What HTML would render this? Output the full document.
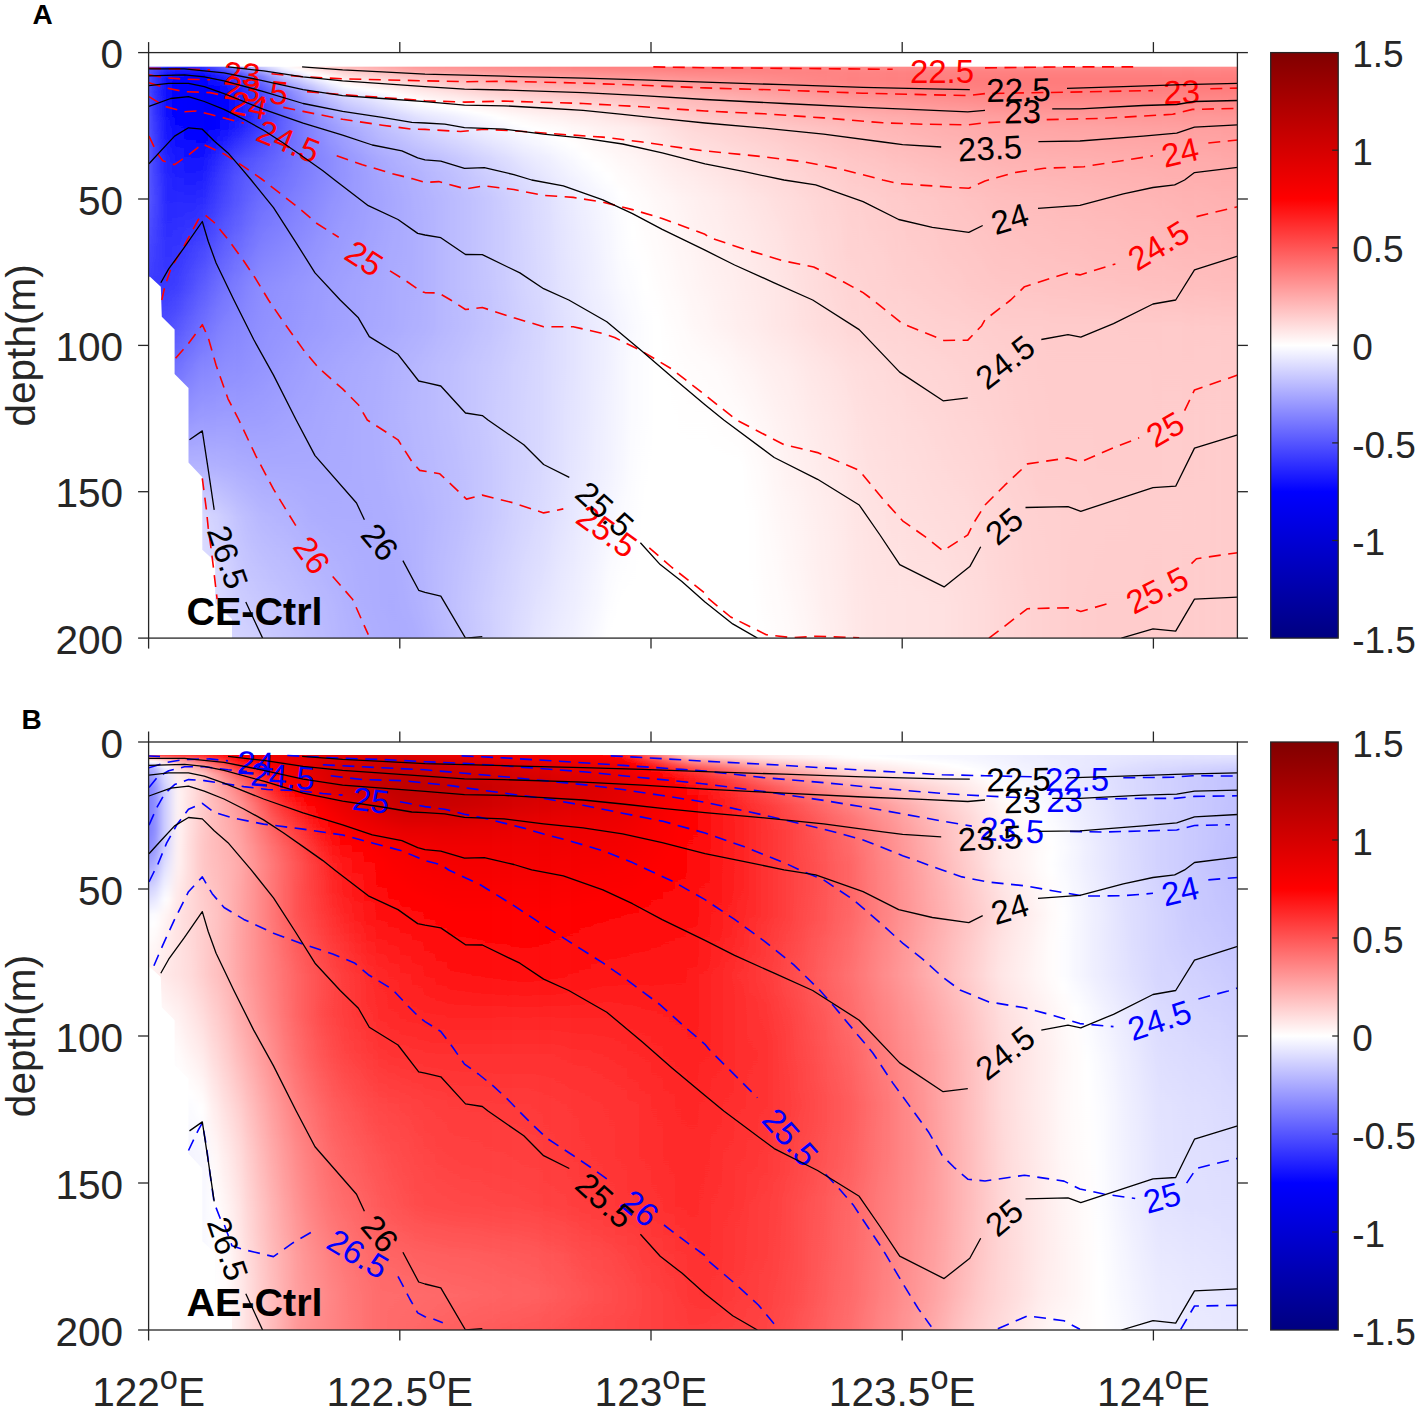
<!DOCTYPE html><html><head><meta charset="utf-8"><style>html,body{margin:0;padding:0;background:#fff}svg{display:block}text{font-family:"Liberation Sans",sans-serif}</style></head><body>
<svg width="1417" height="1413" viewBox="0 0 1417 1413">
<defs><linearGradient id="cb" x1="0" y1="0" x2="0" y2="1"><stop offset="0" stop-color="rgb(128,0,0)"/><stop offset="0.25" stop-color="rgb(255,0,0)"/><stop offset="0.5" stop-color="rgb(255,255,255)"/><stop offset="0.75" stop-color="rgb(0,0,255)"/><stop offset="1" stop-color="rgb(0,0,128)"/></linearGradient></defs>
<rect width="1417" height="1413" fill="#fff"/>
<defs><linearGradient id="a0" gradientUnits="userSpaceOnUse" x1="0" y1="66.4" x2="0" y2="638.1"><stop offset="0.000" stop-color="#66f"/><stop offset="0.005" stop-color="#6565ff"/><stop offset="0.010" stop-color="#6363ff"/><stop offset="0.017" stop-color="#6262ff"/><stop offset="0.024" stop-color="#6262ff"/><stop offset="0.033" stop-color="#6262ff"/><stop offset="0.044" stop-color="#6262ff"/><stop offset="0.056" stop-color="#6464ff"/><stop offset="0.070" stop-color="#6767ff"/><stop offset="0.087" stop-color="#6767ff"/><stop offset="0.108" stop-color="#66f"/><stop offset="0.133" stop-color="#6a6aff"/><stop offset="0.161" stop-color="#6e6eff"/><stop offset="0.192" stop-color="#6c6cff"/><stop offset="0.234" stop-color="#66f"/><stop offset="0.280" stop-color="#5b5bff"/><stop offset="0.332" stop-color="#4f4fff"/><stop offset="0.385" stop-color="#44f"/><stop offset="0.455" stop-color="#4848ff"/><stop offset="0.525" stop-color="#6b6bff"/><stop offset="0.612" stop-color="#8f8fff"/><stop offset="0.700" stop-color="#b3b3ff"/><stop offset="0.787" stop-color="#d7d7ff"/><stop offset="0.875" stop-color="#dbdbff"/><stop offset="0.945" stop-color="#dbdbff"/><stop offset="1.000" stop-color="#d6d6ff"/></linearGradient>
<linearGradient id="a1" gradientUnits="userSpaceOnUse" x1="0" y1="66.4" x2="0" y2="638.1"><stop offset="0.000" stop-color="#66f"/><stop offset="0.005" stop-color="#6565ff"/><stop offset="0.010" stop-color="#6363ff"/><stop offset="0.017" stop-color="#6262ff"/><stop offset="0.024" stop-color="#6262ff"/><stop offset="0.033" stop-color="#6262ff"/><stop offset="0.044" stop-color="#6262ff"/><stop offset="0.056" stop-color="#6464ff"/><stop offset="0.070" stop-color="#6767ff"/><stop offset="0.087" stop-color="#6767ff"/><stop offset="0.108" stop-color="#66f"/><stop offset="0.133" stop-color="#6a6aff"/><stop offset="0.161" stop-color="#6e6eff"/><stop offset="0.192" stop-color="#6c6cff"/><stop offset="0.234" stop-color="#66f"/><stop offset="0.280" stop-color="#5b5bff"/><stop offset="0.332" stop-color="#4f4fff"/><stop offset="0.385" stop-color="#44f"/><stop offset="0.455" stop-color="#4848ff"/><stop offset="0.525" stop-color="#6b6bff"/><stop offset="0.612" stop-color="#8f8fff"/><stop offset="0.700" stop-color="#b3b3ff"/><stop offset="0.787" stop-color="#d7d7ff"/><stop offset="0.875" stop-color="#dbdbff"/><stop offset="0.945" stop-color="#dbdbff"/><stop offset="1.000" stop-color="#d6d6ff"/></linearGradient>
<linearGradient id="a2" gradientUnits="userSpaceOnUse" x1="0" y1="66.4" x2="0" y2="638.1"><stop offset="0.000" stop-color="#4b4bff"/><stop offset="0.005" stop-color="#4646ff"/><stop offset="0.010" stop-color="#3f3fff"/><stop offset="0.017" stop-color="#3737ff"/><stop offset="0.024" stop-color="#3535ff"/><stop offset="0.033" stop-color="#3232ff"/><stop offset="0.044" stop-color="#2f2fff"/><stop offset="0.056" stop-color="#3030ff"/><stop offset="0.070" stop-color="#3030ff"/><stop offset="0.087" stop-color="#3434ff"/><stop offset="0.108" stop-color="#3939ff"/><stop offset="0.133" stop-color="#3b3bff"/><stop offset="0.161" stop-color="#3e3eff"/><stop offset="0.192" stop-color="#4242ff"/><stop offset="0.234" stop-color="#4646ff"/><stop offset="0.280" stop-color="#4242ff"/><stop offset="0.332" stop-color="#3c3cff"/><stop offset="0.385" stop-color="#3838ff"/><stop offset="0.455" stop-color="#4848ff"/><stop offset="0.525" stop-color="#6b6bff"/><stop offset="0.612" stop-color="#8f8fff"/><stop offset="0.700" stop-color="#b3b3ff"/><stop offset="0.787" stop-color="#d7d7ff"/><stop offset="0.875" stop-color="#dbdbff"/><stop offset="0.945" stop-color="#dbdbff"/><stop offset="1.000" stop-color="#d6d6ff"/></linearGradient>
<linearGradient id="a3" gradientUnits="userSpaceOnUse" x1="0" y1="66.4" x2="0" y2="638.1"><stop offset="0.000" stop-color="#3232ff"/><stop offset="0.005" stop-color="#2a2aff"/><stop offset="0.010" stop-color="#1f1fff"/><stop offset="0.017" stop-color="#1212ff"/><stop offset="0.024" stop-color="#1010ff"/><stop offset="0.033" stop-color="#0d0dff"/><stop offset="0.044" stop-color="#0b0bff"/><stop offset="0.056" stop-color="#0d0dff"/><stop offset="0.070" stop-color="#0f0fff"/><stop offset="0.087" stop-color="#11f"/><stop offset="0.108" stop-color="#1414ff"/><stop offset="0.133" stop-color="#1b1bff"/><stop offset="0.161" stop-color="#2121ff"/><stop offset="0.192" stop-color="#2525ff"/><stop offset="0.234" stop-color="#2828ff"/><stop offset="0.280" stop-color="#2d2dff"/><stop offset="0.332" stop-color="#33f"/><stop offset="0.385" stop-color="#3a3aff"/><stop offset="0.455" stop-color="#4d4dff"/><stop offset="0.525" stop-color="#6d6dff"/><stop offset="0.612" stop-color="#8f8fff"/><stop offset="0.700" stop-color="#b3b3ff"/><stop offset="0.787" stop-color="#d7d7ff"/><stop offset="0.875" stop-color="#dbdbff"/><stop offset="0.945" stop-color="#dbdbff"/><stop offset="1.000" stop-color="#d6d6ff"/></linearGradient>
<linearGradient id="a4" gradientUnits="userSpaceOnUse" x1="0" y1="66.4" x2="0" y2="638.1"><stop offset="0.000" stop-color="#2b2bff"/><stop offset="0.005" stop-color="#22f"/><stop offset="0.010" stop-color="#1616ff"/><stop offset="0.017" stop-color="#0707ff"/><stop offset="0.024" stop-color="#0505ff"/><stop offset="0.033" stop-color="#0202ff"/><stop offset="0.043" stop-color="#00f"/><stop offset="0.044" stop-color="#00f"/><stop offset="0.045" stop-color="#00f"/><stop offset="0.056" stop-color="#0101ff"/><stop offset="0.070" stop-color="#0303ff"/><stop offset="0.087" stop-color="#0404ff"/><stop offset="0.108" stop-color="#0707ff"/><stop offset="0.133" stop-color="#0f0fff"/><stop offset="0.161" stop-color="#1818ff"/><stop offset="0.192" stop-color="#1f1fff"/><stop offset="0.234" stop-color="#2828ff"/><stop offset="0.280" stop-color="#2f2fff"/><stop offset="0.332" stop-color="#3636ff"/><stop offset="0.385" stop-color="#3f3fff"/><stop offset="0.455" stop-color="#5757ff"/><stop offset="0.525" stop-color="#7171ff"/><stop offset="0.612" stop-color="#9090ff"/><stop offset="0.700" stop-color="#b3b3ff"/><stop offset="0.787" stop-color="#d7d7ff"/><stop offset="0.875" stop-color="#dbdbff"/><stop offset="0.945" stop-color="#dbdbff"/><stop offset="1.000" stop-color="#d6d6ff"/></linearGradient>
<linearGradient id="a5" gradientUnits="userSpaceOnUse" x1="0" y1="66.4" x2="0" y2="638.1"><stop offset="0.000" stop-color="#2a2aff"/><stop offset="0.005" stop-color="#2020ff"/><stop offset="0.010" stop-color="#1313ff"/><stop offset="0.017" stop-color="#0303ff"/><stop offset="0.024" stop-color="#00f"/><stop offset="0.025" stop-color="#00f"/><stop offset="0.033" stop-color="#0000fe"/><stop offset="0.044" stop-color="#0000fc"/><stop offset="0.056" stop-color="#0000fd"/><stop offset="0.070" stop-color="#0000fd"/><stop offset="0.087" stop-color="#0000fd"/><stop offset="0.108" stop-color="#00f"/><stop offset="0.111" stop-color="#00f"/><stop offset="0.133" stop-color="#0808ff"/><stop offset="0.161" stop-color="#1212ff"/><stop offset="0.192" stop-color="#1b1bff"/><stop offset="0.234" stop-color="#2727ff"/><stop offset="0.280" stop-color="#33f"/><stop offset="0.332" stop-color="#4040ff"/><stop offset="0.385" stop-color="#4d4dff"/><stop offset="0.455" stop-color="#6363ff"/><stop offset="0.525" stop-color="#7c7cff"/><stop offset="0.612" stop-color="#9696ff"/><stop offset="0.700" stop-color="#b3b3ff"/><stop offset="0.787" stop-color="#d7d7ff"/><stop offset="0.875" stop-color="#dbdbff"/><stop offset="0.945" stop-color="#dbdbff"/><stop offset="1.000" stop-color="#d6d6ff"/></linearGradient>
<linearGradient id="a6" gradientUnits="userSpaceOnUse" x1="0" y1="66.4" x2="0" y2="638.1"><stop offset="0.000" stop-color="#2f2fff"/><stop offset="0.005" stop-color="#2323ff"/><stop offset="0.010" stop-color="#1515ff"/><stop offset="0.017" stop-color="#0303ff"/><stop offset="0.024" stop-color="#00f"/><stop offset="0.024" stop-color="#00f"/><stop offset="0.033" stop-color="#0000fd"/><stop offset="0.044" stop-color="#0000fb"/><stop offset="0.056" stop-color="#0000fb"/><stop offset="0.070" stop-color="#0000fa"/><stop offset="0.087" stop-color="#0000fb"/><stop offset="0.108" stop-color="#0000fd"/><stop offset="0.120" stop-color="#00f"/><stop offset="0.133" stop-color="#0606ff"/><stop offset="0.161" stop-color="#1212ff"/><stop offset="0.192" stop-color="#1d1dff"/><stop offset="0.234" stop-color="#2a2aff"/><stop offset="0.280" stop-color="#3939ff"/><stop offset="0.332" stop-color="#4a4aff"/><stop offset="0.385" stop-color="#5b5bff"/><stop offset="0.455" stop-color="#6f6fff"/><stop offset="0.525" stop-color="#8585ff"/><stop offset="0.612" stop-color="#9a9aff"/><stop offset="0.700" stop-color="#b3b3ff"/><stop offset="0.787" stop-color="#d7d7ff"/><stop offset="0.875" stop-color="#dbdbff"/><stop offset="0.945" stop-color="#dbdbff"/><stop offset="1.000" stop-color="#d6d6ff"/></linearGradient>
<linearGradient id="a7" gradientUnits="userSpaceOnUse" x1="0" y1="66.4" x2="0" y2="638.1"><stop offset="0.000" stop-color="#4c4cff"/><stop offset="0.005" stop-color="#3d3dff"/><stop offset="0.010" stop-color="#2b2bff"/><stop offset="0.017" stop-color="#1414ff"/><stop offset="0.024" stop-color="#0e0eff"/><stop offset="0.033" stop-color="#0707ff"/><stop offset="0.044" stop-color="#00f"/><stop offset="0.044" stop-color="#00f"/><stop offset="0.056" stop-color="#0000fe"/><stop offset="0.070" stop-color="#0000fd"/><stop offset="0.087" stop-color="#0000fe"/><stop offset="0.095" stop-color="#00f"/><stop offset="0.108" stop-color="#0505ff"/><stop offset="0.133" stop-color="#1313ff"/><stop offset="0.161" stop-color="#2424ff"/><stop offset="0.192" stop-color="#2f2fff"/><stop offset="0.234" stop-color="#3a3aff"/><stop offset="0.280" stop-color="#4848ff"/><stop offset="0.332" stop-color="#5959ff"/><stop offset="0.385" stop-color="#6969ff"/><stop offset="0.455" stop-color="#7b7bff"/><stop offset="0.525" stop-color="#8989ff"/><stop offset="0.612" stop-color="#9b9bff"/><stop offset="0.700" stop-color="#b1b1ff"/><stop offset="0.787" stop-color="#d2d2ff"/><stop offset="0.875" stop-color="#d9d9ff"/><stop offset="0.945" stop-color="#dbdbff"/><stop offset="1.000" stop-color="#d6d6ff"/></linearGradient>
<linearGradient id="a8" gradientUnits="userSpaceOnUse" x1="0" y1="66.4" x2="0" y2="638.1"><stop offset="0.000" stop-color="#6969ff"/><stop offset="0.005" stop-color="#5757ff"/><stop offset="0.010" stop-color="#4141ff"/><stop offset="0.017" stop-color="#2626ff"/><stop offset="0.024" stop-color="#1d1dff"/><stop offset="0.033" stop-color="#1313ff"/><stop offset="0.044" stop-color="#0808ff"/><stop offset="0.056" stop-color="#0505ff"/><stop offset="0.070" stop-color="#0202ff"/><stop offset="0.087" stop-color="#0303ff"/><stop offset="0.108" stop-color="#0f0fff"/><stop offset="0.133" stop-color="#2121ff"/><stop offset="0.161" stop-color="#3535ff"/><stop offset="0.192" stop-color="#4040ff"/><stop offset="0.234" stop-color="#4949ff"/><stop offset="0.280" stop-color="#5656ff"/><stop offset="0.332" stop-color="#6565ff"/><stop offset="0.385" stop-color="#7474ff"/><stop offset="0.455" stop-color="#8282ff"/><stop offset="0.525" stop-color="#8d8dff"/><stop offset="0.612" stop-color="#9c9cff"/><stop offset="0.700" stop-color="#afafff"/><stop offset="0.787" stop-color="#cacaff"/><stop offset="0.875" stop-color="#d1d1ff"/><stop offset="0.945" stop-color="#d5d5ff"/><stop offset="1.000" stop-color="#d6d6ff"/></linearGradient>
<linearGradient id="a9" gradientUnits="userSpaceOnUse" x1="0" y1="66.4" x2="0" y2="638.1"><stop offset="0.000" stop-color="#8c8cff"/><stop offset="0.005" stop-color="#7979ff"/><stop offset="0.010" stop-color="#6161ff"/><stop offset="0.017" stop-color="#4343ff"/><stop offset="0.024" stop-color="#3838ff"/><stop offset="0.033" stop-color="#2b2bff"/><stop offset="0.044" stop-color="#1e1eff"/><stop offset="0.056" stop-color="#1a1aff"/><stop offset="0.070" stop-color="#1515ff"/><stop offset="0.087" stop-color="#1515ff"/><stop offset="0.108" stop-color="#1f1fff"/><stop offset="0.133" stop-color="#3232ff"/><stop offset="0.161" stop-color="#4848ff"/><stop offset="0.192" stop-color="#5252ff"/><stop offset="0.234" stop-color="#5757ff"/><stop offset="0.280" stop-color="#6262ff"/><stop offset="0.332" stop-color="#7070ff"/><stop offset="0.385" stop-color="#7d7dff"/><stop offset="0.455" stop-color="#8787ff"/><stop offset="0.525" stop-color="#8f8fff"/><stop offset="0.612" stop-color="#9c9cff"/><stop offset="0.700" stop-color="#adadff"/><stop offset="0.787" stop-color="#c2c2ff"/><stop offset="0.875" stop-color="#c9c9ff"/><stop offset="0.945" stop-color="#ceceff"/><stop offset="1.000" stop-color="#d4d4ff"/></linearGradient>
<linearGradient id="a10" gradientUnits="userSpaceOnUse" x1="0" y1="66.4" x2="0" y2="638.1"><stop offset="0.000" stop-color="#b1b1ff"/><stop offset="0.005" stop-color="#9c9cff"/><stop offset="0.010" stop-color="#8282ff"/><stop offset="0.017" stop-color="#6262ff"/><stop offset="0.024" stop-color="#55f"/><stop offset="0.033" stop-color="#4646ff"/><stop offset="0.044" stop-color="#3737ff"/><stop offset="0.056" stop-color="#3131ff"/><stop offset="0.070" stop-color="#2a2aff"/><stop offset="0.087" stop-color="#2828ff"/><stop offset="0.108" stop-color="#3030ff"/><stop offset="0.133" stop-color="#4040ff"/><stop offset="0.161" stop-color="#5252ff"/><stop offset="0.192" stop-color="#5c5cff"/><stop offset="0.234" stop-color="#6464ff"/><stop offset="0.280" stop-color="#6e6eff"/><stop offset="0.332" stop-color="#7a7aff"/><stop offset="0.385" stop-color="#8686ff"/><stop offset="0.455" stop-color="#8c8cff"/><stop offset="0.525" stop-color="#9292ff"/><stop offset="0.612" stop-color="#9d9dff"/><stop offset="0.700" stop-color="#ababff"/><stop offset="0.787" stop-color="#bcbcff"/><stop offset="0.875" stop-color="#c4c4ff"/><stop offset="0.945" stop-color="#cbcbff"/><stop offset="1.000" stop-color="#d1d1ff"/></linearGradient>
<linearGradient id="a11" gradientUnits="userSpaceOnUse" x1="0" y1="66.4" x2="0" y2="638.1"><stop offset="0.000" stop-color="#d1d1ff"/><stop offset="0.005" stop-color="#bcbcff"/><stop offset="0.010" stop-color="#a2a2ff"/><stop offset="0.017" stop-color="#8282ff"/><stop offset="0.024" stop-color="#7373ff"/><stop offset="0.033" stop-color="#6161ff"/><stop offset="0.044" stop-color="#4f4fff"/><stop offset="0.056" stop-color="#4848ff"/><stop offset="0.070" stop-color="#3f3fff"/><stop offset="0.087" stop-color="#3c3cff"/><stop offset="0.108" stop-color="#4141ff"/><stop offset="0.133" stop-color="#4d4dff"/><stop offset="0.161" stop-color="#5b5bff"/><stop offset="0.192" stop-color="#6464ff"/><stop offset="0.234" stop-color="#6e6eff"/><stop offset="0.280" stop-color="#7878ff"/><stop offset="0.332" stop-color="#8383ff"/><stop offset="0.385" stop-color="#8d8dff"/><stop offset="0.455" stop-color="#9090ff"/><stop offset="0.525" stop-color="#9595ff"/><stop offset="0.612" stop-color="#9e9eff"/><stop offset="0.700" stop-color="#a9a9ff"/><stop offset="0.787" stop-color="#b7b7ff"/><stop offset="0.875" stop-color="#c1c1ff"/><stop offset="0.945" stop-color="#c8c8ff"/><stop offset="1.000" stop-color="#cdcdff"/></linearGradient>
<linearGradient id="a12" gradientUnits="userSpaceOnUse" x1="0" y1="66.4" x2="0" y2="638.1"><stop offset="0.000" stop-color="#e8e8ff"/><stop offset="0.005" stop-color="#d7d7ff"/><stop offset="0.010" stop-color="#c1c1ff"/><stop offset="0.017" stop-color="#a5a5ff"/><stop offset="0.024" stop-color="#9393ff"/><stop offset="0.033" stop-color="#7d7dff"/><stop offset="0.044" stop-color="#6767ff"/><stop offset="0.056" stop-color="#5f5fff"/><stop offset="0.070" stop-color="#55f"/><stop offset="0.087" stop-color="#5050ff"/><stop offset="0.108" stop-color="#5353ff"/><stop offset="0.133" stop-color="#5b5bff"/><stop offset="0.161" stop-color="#6464ff"/><stop offset="0.192" stop-color="#6c6cff"/><stop offset="0.234" stop-color="#7474ff"/><stop offset="0.280" stop-color="#7d7dff"/><stop offset="0.332" stop-color="#8787ff"/><stop offset="0.385" stop-color="#9090ff"/><stop offset="0.455" stop-color="#9393ff"/><stop offset="0.525" stop-color="#9898ff"/><stop offset="0.612" stop-color="#a0a0ff"/><stop offset="0.700" stop-color="#a9a9ff"/><stop offset="0.787" stop-color="#b5b5ff"/><stop offset="0.875" stop-color="#bebeff"/><stop offset="0.945" stop-color="#c5c5ff"/><stop offset="1.000" stop-color="#c9c9ff"/></linearGradient>
<linearGradient id="a13" gradientUnits="userSpaceOnUse" x1="0" y1="66.4" x2="0" y2="638.1"><stop offset="0.000" stop-color="#fff"/><stop offset="0.000" stop-color="#fff"/><stop offset="0.005" stop-color="#f1f1ff"/><stop offset="0.010" stop-color="#dfdfff"/><stop offset="0.017" stop-color="#c7c7ff"/><stop offset="0.024" stop-color="#b3b3ff"/><stop offset="0.033" stop-color="#99f"/><stop offset="0.044" stop-color="#8080ff"/><stop offset="0.056" stop-color="#7676ff"/><stop offset="0.070" stop-color="#6b6bff"/><stop offset="0.087" stop-color="#6464ff"/><stop offset="0.108" stop-color="#6565ff"/><stop offset="0.133" stop-color="#6969ff"/><stop offset="0.161" stop-color="#6e6eff"/><stop offset="0.192" stop-color="#7373ff"/><stop offset="0.234" stop-color="#7a7aff"/><stop offset="0.280" stop-color="#8282ff"/><stop offset="0.332" stop-color="#8b8bff"/><stop offset="0.385" stop-color="#9393ff"/><stop offset="0.455" stop-color="#9595ff"/><stop offset="0.525" stop-color="#9b9bff"/><stop offset="0.612" stop-color="#a2a2ff"/><stop offset="0.700" stop-color="#a9a9ff"/><stop offset="0.787" stop-color="#b3b3ff"/><stop offset="0.875" stop-color="#bcbcff"/><stop offset="0.945" stop-color="#c2c2ff"/><stop offset="1.000" stop-color="#c5c5ff"/></linearGradient>
<linearGradient id="a14" gradientUnits="userSpaceOnUse" x1="0" y1="66.4" x2="0" y2="638.1"><stop offset="0.000" stop-color="#fee"/><stop offset="0.005" stop-color="#fffcfc"/><stop offset="0.006" stop-color="#fff"/><stop offset="0.010" stop-color="#f1f1ff"/><stop offset="0.017" stop-color="#dbdbff"/><stop offset="0.024" stop-color="#c8c8ff"/><stop offset="0.033" stop-color="#b0b0ff"/><stop offset="0.044" stop-color="#9898ff"/><stop offset="0.056" stop-color="#8c8cff"/><stop offset="0.070" stop-color="#8080ff"/><stop offset="0.087" stop-color="#7676ff"/><stop offset="0.108" stop-color="#7474ff"/><stop offset="0.133" stop-color="#7575ff"/><stop offset="0.161" stop-color="#77f"/><stop offset="0.192" stop-color="#7a7aff"/><stop offset="0.234" stop-color="#8181ff"/><stop offset="0.280" stop-color="#8787ff"/><stop offset="0.332" stop-color="#8f8fff"/><stop offset="0.385" stop-color="#9696ff"/><stop offset="0.455" stop-color="#9898ff"/><stop offset="0.525" stop-color="#9e9eff"/><stop offset="0.612" stop-color="#a4a4ff"/><stop offset="0.700" stop-color="#a9a9ff"/><stop offset="0.787" stop-color="#b1b1ff"/><stop offset="0.875" stop-color="#b9b9ff"/><stop offset="0.945" stop-color="#bfbfff"/><stop offset="1.000" stop-color="#c2c2ff"/></linearGradient>
<linearGradient id="a15" gradientUnits="userSpaceOnUse" x1="0" y1="66.4" x2="0" y2="638.1"><stop offset="0.000" stop-color="#ffdede"/><stop offset="0.005" stop-color="#ffebeb"/><stop offset="0.010" stop-color="#fffafa"/><stop offset="0.012" stop-color="#fff"/><stop offset="0.017" stop-color="#f0f0ff"/><stop offset="0.024" stop-color="#dedeff"/><stop offset="0.033" stop-color="#c7c7ff"/><stop offset="0.044" stop-color="#b0b0ff"/><stop offset="0.056" stop-color="#a3a3ff"/><stop offset="0.070" stop-color="#9494ff"/><stop offset="0.087" stop-color="#88f"/><stop offset="0.108" stop-color="#8383ff"/><stop offset="0.133" stop-color="#8181ff"/><stop offset="0.161" stop-color="#7f7fff"/><stop offset="0.192" stop-color="#8181ff"/><stop offset="0.234" stop-color="#8787ff"/><stop offset="0.280" stop-color="#8c8cff"/><stop offset="0.332" stop-color="#9393ff"/><stop offset="0.385" stop-color="#99f"/><stop offset="0.455" stop-color="#9b9bff"/><stop offset="0.525" stop-color="#a1a1ff"/><stop offset="0.612" stop-color="#a5a5ff"/><stop offset="0.700" stop-color="#a9a9ff"/><stop offset="0.787" stop-color="#aeaeff"/><stop offset="0.875" stop-color="#b6b6ff"/><stop offset="0.945" stop-color="#bcbcff"/><stop offset="1.000" stop-color="#bebeff"/></linearGradient>
<linearGradient id="a16" gradientUnits="userSpaceOnUse" x1="0" y1="66.4" x2="0" y2="638.1"><stop offset="0.000" stop-color="#ffd0d0"/><stop offset="0.005" stop-color="#ffdcdc"/><stop offset="0.010" stop-color="#ffeaea"/><stop offset="0.017" stop-color="#fffdfd"/><stop offset="0.018" stop-color="#fff"/><stop offset="0.024" stop-color="#f1f1ff"/><stop offset="0.033" stop-color="#dcdcff"/><stop offset="0.044" stop-color="#c6c6ff"/><stop offset="0.056" stop-color="#b6b6ff"/><stop offset="0.070" stop-color="#a6a6ff"/><stop offset="0.087" stop-color="#9898ff"/><stop offset="0.108" stop-color="#9090ff"/><stop offset="0.133" stop-color="#8b8bff"/><stop offset="0.161" stop-color="#8787ff"/><stop offset="0.192" stop-color="#88f"/><stop offset="0.234" stop-color="#8d8dff"/><stop offset="0.280" stop-color="#9292ff"/><stop offset="0.332" stop-color="#9797ff"/><stop offset="0.385" stop-color="#9c9cff"/><stop offset="0.455" stop-color="#9d9dff"/><stop offset="0.525" stop-color="#a4a4ff"/><stop offset="0.612" stop-color="#a7a7ff"/><stop offset="0.700" stop-color="#a9a9ff"/><stop offset="0.787" stop-color="#adadff"/><stop offset="0.875" stop-color="#b4b4ff"/><stop offset="0.945" stop-color="#b9b9ff"/><stop offset="1.000" stop-color="#bbf"/></linearGradient>
<linearGradient id="a17" gradientUnits="userSpaceOnUse" x1="0" y1="66.4" x2="0" y2="638.1"><stop offset="0.000" stop-color="#ffc5c5"/><stop offset="0.005" stop-color="#ffd0d0"/><stop offset="0.010" stop-color="#fdd"/><stop offset="0.017" stop-color="#ffefef"/><stop offset="0.024" stop-color="#fffdfd"/><stop offset="0.026" stop-color="#fff"/><stop offset="0.033" stop-color="#efefff"/><stop offset="0.044" stop-color="#d9d9ff"/><stop offset="0.056" stop-color="#c5c5ff"/><stop offset="0.070" stop-color="#b6b6ff"/><stop offset="0.087" stop-color="#a6a6ff"/><stop offset="0.108" stop-color="#9b9bff"/><stop offset="0.133" stop-color="#9595ff"/><stop offset="0.161" stop-color="#8e8eff"/><stop offset="0.192" stop-color="#8e8eff"/><stop offset="0.234" stop-color="#9393ff"/><stop offset="0.280" stop-color="#9797ff"/><stop offset="0.332" stop-color="#9b9bff"/><stop offset="0.385" stop-color="#9f9fff"/><stop offset="0.455" stop-color="#a0a0ff"/><stop offset="0.525" stop-color="#a6a6ff"/><stop offset="0.612" stop-color="#a9a9ff"/><stop offset="0.700" stop-color="#aaf"/><stop offset="0.787" stop-color="#acacff"/><stop offset="0.875" stop-color="#b2b2ff"/><stop offset="0.945" stop-color="#b6b6ff"/><stop offset="1.000" stop-color="#b7b7ff"/></linearGradient>
<linearGradient id="a18" gradientUnits="userSpaceOnUse" x1="0" y1="66.4" x2="0" y2="638.1"><stop offset="0.000" stop-color="#ffbaba"/><stop offset="0.005" stop-color="#ffc4c4"/><stop offset="0.010" stop-color="#ffd1d1"/><stop offset="0.017" stop-color="#ffe1e1"/><stop offset="0.024" stop-color="#ffeded"/><stop offset="0.033" stop-color="#fffdfd"/><stop offset="0.034" stop-color="#fff"/><stop offset="0.044" stop-color="#ececff"/><stop offset="0.056" stop-color="#d4d4ff"/><stop offset="0.070" stop-color="#c5c5ff"/><stop offset="0.087" stop-color="#b3b3ff"/><stop offset="0.108" stop-color="#a5a5ff"/><stop offset="0.133" stop-color="#9e9eff"/><stop offset="0.161" stop-color="#9696ff"/><stop offset="0.192" stop-color="#9595ff"/><stop offset="0.234" stop-color="#9898ff"/><stop offset="0.280" stop-color="#9b9bff"/><stop offset="0.332" stop-color="#9e9eff"/><stop offset="0.385" stop-color="#a1a1ff"/><stop offset="0.455" stop-color="#a2a2ff"/><stop offset="0.525" stop-color="#a8a8ff"/><stop offset="0.612" stop-color="#aaf"/><stop offset="0.700" stop-color="#ababff"/><stop offset="0.787" stop-color="#acacff"/><stop offset="0.875" stop-color="#b0b0ff"/><stop offset="0.945" stop-color="#b2b2ff"/><stop offset="1.000" stop-color="#b4b4ff"/></linearGradient>
<linearGradient id="a19" gradientUnits="userSpaceOnUse" x1="0" y1="66.4" x2="0" y2="638.1"><stop offset="0.000" stop-color="#ffb5b5"/><stop offset="0.005" stop-color="#ffbebe"/><stop offset="0.010" stop-color="#ffcbcb"/><stop offset="0.017" stop-color="#ffdbdb"/><stop offset="0.024" stop-color="#ffe8e8"/><stop offset="0.033" stop-color="#fff7f7"/><stop offset="0.037" stop-color="#fff"/><stop offset="0.044" stop-color="#f2f2ff"/><stop offset="0.056" stop-color="#dcdcff"/><stop offset="0.070" stop-color="#cdcdff"/><stop offset="0.087" stop-color="#bbf"/><stop offset="0.108" stop-color="#aeaeff"/><stop offset="0.133" stop-color="#a6a6ff"/><stop offset="0.161" stop-color="#9d9dff"/><stop offset="0.192" stop-color="#9b9bff"/><stop offset="0.234" stop-color="#9c9cff"/><stop offset="0.280" stop-color="#9e9eff"/><stop offset="0.332" stop-color="#a1a1ff"/><stop offset="0.385" stop-color="#a4a4ff"/><stop offset="0.455" stop-color="#a4a4ff"/><stop offset="0.525" stop-color="#aaf"/><stop offset="0.612" stop-color="#acacff"/><stop offset="0.700" stop-color="#acacff"/><stop offset="0.787" stop-color="#acacff"/><stop offset="0.875" stop-color="#aeaeff"/><stop offset="0.945" stop-color="#afafff"/><stop offset="1.000" stop-color="#b1b1ff"/></linearGradient>
<linearGradient id="a20" gradientUnits="userSpaceOnUse" x1="0" y1="66.4" x2="0" y2="638.1"><stop offset="0.000" stop-color="#ffafaf"/><stop offset="0.005" stop-color="#ffb8b8"/><stop offset="0.010" stop-color="#ffc5c5"/><stop offset="0.017" stop-color="#ffd5d5"/><stop offset="0.024" stop-color="#ffe2e2"/><stop offset="0.033" stop-color="#fff1f1"/><stop offset="0.041" stop-color="#fff"/><stop offset="0.044" stop-color="#f9f9ff"/><stop offset="0.056" stop-color="#e4e4ff"/><stop offset="0.070" stop-color="#d5d5ff"/><stop offset="0.087" stop-color="#c3c3ff"/><stop offset="0.108" stop-color="#b6b6ff"/><stop offset="0.133" stop-color="#aeaeff"/><stop offset="0.161" stop-color="#a4a4ff"/><stop offset="0.192" stop-color="#a1a1ff"/><stop offset="0.234" stop-color="#a0a0ff"/><stop offset="0.280" stop-color="#a2a2ff"/><stop offset="0.332" stop-color="#a4a4ff"/><stop offset="0.385" stop-color="#a6a6ff"/><stop offset="0.455" stop-color="#a7a7ff"/><stop offset="0.525" stop-color="#acacff"/><stop offset="0.612" stop-color="#adadff"/><stop offset="0.700" stop-color="#adadff"/><stop offset="0.787" stop-color="#acacff"/><stop offset="0.875" stop-color="#adadff"/><stop offset="0.945" stop-color="#aeaeff"/><stop offset="1.000" stop-color="#afafff"/></linearGradient>
<linearGradient id="a21" gradientUnits="userSpaceOnUse" x1="0" y1="66.4" x2="0" y2="638.1"><stop offset="0.000" stop-color="#ffa9a9"/><stop offset="0.005" stop-color="#ffb2b2"/><stop offset="0.010" stop-color="#ffbebe"/><stop offset="0.017" stop-color="#ffcece"/><stop offset="0.024" stop-color="#ffdcdc"/><stop offset="0.033" stop-color="#ffebeb"/><stop offset="0.044" stop-color="#fffefe"/><stop offset="0.044" stop-color="#fff"/><stop offset="0.056" stop-color="#ececff"/><stop offset="0.070" stop-color="#dedeff"/><stop offset="0.087" stop-color="#cbcbff"/><stop offset="0.108" stop-color="#bebeff"/><stop offset="0.133" stop-color="#b5b5ff"/><stop offset="0.161" stop-color="#aaf"/><stop offset="0.192" stop-color="#a6a6ff"/><stop offset="0.234" stop-color="#a4a4ff"/><stop offset="0.280" stop-color="#a5a5ff"/><stop offset="0.332" stop-color="#a7a7ff"/><stop offset="0.385" stop-color="#a8a8ff"/><stop offset="0.455" stop-color="#a9a9ff"/><stop offset="0.525" stop-color="#aeaeff"/><stop offset="0.612" stop-color="#afafff"/><stop offset="0.700" stop-color="#aeaeff"/><stop offset="0.787" stop-color="#adadff"/><stop offset="0.875" stop-color="#acacff"/><stop offset="0.945" stop-color="#acacff"/><stop offset="1.000" stop-color="#aeaeff"/></linearGradient>
<linearGradient id="a22" gradientUnits="userSpaceOnUse" x1="0" y1="66.4" x2="0" y2="638.1"><stop offset="0.000" stop-color="#ffa3a3"/><stop offset="0.005" stop-color="#ffacac"/><stop offset="0.010" stop-color="#ffb8b8"/><stop offset="0.017" stop-color="#ffc8c8"/><stop offset="0.024" stop-color="#ffd6d6"/><stop offset="0.033" stop-color="#ffe5e5"/><stop offset="0.044" stop-color="#fff8f8"/><stop offset="0.049" stop-color="#fff"/><stop offset="0.056" stop-color="#f4f4ff"/><stop offset="0.070" stop-color="#e6e6ff"/><stop offset="0.087" stop-color="#d3d3ff"/><stop offset="0.108" stop-color="#c5c5ff"/><stop offset="0.133" stop-color="#babaff"/><stop offset="0.161" stop-color="#afafff"/><stop offset="0.192" stop-color="#aaf"/><stop offset="0.234" stop-color="#a8a8ff"/><stop offset="0.280" stop-color="#a9a9ff"/><stop offset="0.332" stop-color="#aaf"/><stop offset="0.385" stop-color="#ababff"/><stop offset="0.455" stop-color="#ababff"/><stop offset="0.525" stop-color="#b1b1ff"/><stop offset="0.612" stop-color="#b2b2ff"/><stop offset="0.700" stop-color="#b1b1ff"/><stop offset="0.787" stop-color="#aeaeff"/><stop offset="0.875" stop-color="#acacff"/><stop offset="0.945" stop-color="#ababff"/><stop offset="1.000" stop-color="#acacff"/></linearGradient>
<linearGradient id="a23" gradientUnits="userSpaceOnUse" x1="0" y1="66.4" x2="0" y2="638.1"><stop offset="0.000" stop-color="#ff9d9d"/><stop offset="0.005" stop-color="#ffa6a6"/><stop offset="0.010" stop-color="#ffb2b2"/><stop offset="0.017" stop-color="#ffc2c2"/><stop offset="0.024" stop-color="#ffd1d1"/><stop offset="0.033" stop-color="#ffdfdf"/><stop offset="0.044" stop-color="#fff1f1"/><stop offset="0.054" stop-color="#fff"/><stop offset="0.056" stop-color="#fcfcff"/><stop offset="0.070" stop-color="#eef"/><stop offset="0.087" stop-color="#dbdbff"/><stop offset="0.108" stop-color="#cbcbff"/><stop offset="0.133" stop-color="#c0c0ff"/><stop offset="0.161" stop-color="#b4b4ff"/><stop offset="0.192" stop-color="#aeaeff"/><stop offset="0.234" stop-color="#acacff"/><stop offset="0.280" stop-color="#acacff"/><stop offset="0.332" stop-color="#acacff"/><stop offset="0.385" stop-color="#adadff"/><stop offset="0.455" stop-color="#aeaeff"/><stop offset="0.525" stop-color="#b4b4ff"/><stop offset="0.612" stop-color="#b5b5ff"/><stop offset="0.700" stop-color="#b3b3ff"/><stop offset="0.787" stop-color="#b1b1ff"/><stop offset="0.875" stop-color="#afafff"/><stop offset="0.945" stop-color="#adadff"/><stop offset="1.000" stop-color="#ababff"/></linearGradient>
<linearGradient id="a24" gradientUnits="userSpaceOnUse" x1="0" y1="66.4" x2="0" y2="638.1"><stop offset="0.000" stop-color="#ff9797"/><stop offset="0.005" stop-color="#ffa0a0"/><stop offset="0.010" stop-color="#ffacac"/><stop offset="0.017" stop-color="#ffbcbc"/><stop offset="0.024" stop-color="#ffcbcb"/><stop offset="0.033" stop-color="#ffd9d9"/><stop offset="0.044" stop-color="#ffeaea"/><stop offset="0.056" stop-color="#fffafa"/><stop offset="0.061" stop-color="#fff"/><stop offset="0.070" stop-color="#f7f7ff"/><stop offset="0.087" stop-color="#e3e3ff"/><stop offset="0.108" stop-color="#d1d1ff"/><stop offset="0.133" stop-color="#c6c6ff"/><stop offset="0.161" stop-color="#b8b8ff"/><stop offset="0.192" stop-color="#b2b2ff"/><stop offset="0.234" stop-color="#b0b0ff"/><stop offset="0.280" stop-color="#afafff"/><stop offset="0.332" stop-color="#afafff"/><stop offset="0.385" stop-color="#afafff"/><stop offset="0.455" stop-color="#b0b0ff"/><stop offset="0.525" stop-color="#b7b7ff"/><stop offset="0.612" stop-color="#b8b8ff"/><stop offset="0.700" stop-color="#b6b6ff"/><stop offset="0.787" stop-color="#b3b3ff"/><stop offset="0.875" stop-color="#b3b3ff"/><stop offset="0.945" stop-color="#b1b1ff"/><stop offset="1.000" stop-color="#adadff"/></linearGradient>
<linearGradient id="a25" gradientUnits="userSpaceOnUse" x1="0" y1="66.4" x2="0" y2="638.1"><stop offset="0.000" stop-color="#ff9494"/><stop offset="0.005" stop-color="#ff9d9d"/><stop offset="0.010" stop-color="#ffa9a9"/><stop offset="0.017" stop-color="#ffb8b8"/><stop offset="0.024" stop-color="#ffc7c7"/><stop offset="0.033" stop-color="#ffd5d5"/><stop offset="0.044" stop-color="#ffe6e6"/><stop offset="0.056" stop-color="#fff5f5"/><stop offset="0.066" stop-color="#fff"/><stop offset="0.070" stop-color="#fbfbff"/><stop offset="0.087" stop-color="#e8e8ff"/><stop offset="0.108" stop-color="#d7d7ff"/><stop offset="0.133" stop-color="#cbcbff"/><stop offset="0.161" stop-color="#bdbdff"/><stop offset="0.192" stop-color="#b7b7ff"/><stop offset="0.234" stop-color="#b4b4ff"/><stop offset="0.280" stop-color="#b3b3ff"/><stop offset="0.332" stop-color="#b3b3ff"/><stop offset="0.385" stop-color="#b3b3ff"/><stop offset="0.455" stop-color="#b3b3ff"/><stop offset="0.525" stop-color="#babaff"/><stop offset="0.612" stop-color="#babaff"/><stop offset="0.700" stop-color="#b8b8ff"/><stop offset="0.787" stop-color="#b6b6ff"/><stop offset="0.875" stop-color="#b7b7ff"/><stop offset="0.945" stop-color="#b6b6ff"/><stop offset="1.000" stop-color="#b3b3ff"/></linearGradient>
<linearGradient id="a26" gradientUnits="userSpaceOnUse" x1="0" y1="66.4" x2="0" y2="638.1"><stop offset="0.000" stop-color="#ff9393"/><stop offset="0.005" stop-color="#ff9b9b"/><stop offset="0.010" stop-color="#ffa6a6"/><stop offset="0.017" stop-color="#ffb5b5"/><stop offset="0.024" stop-color="#ffc3c3"/><stop offset="0.033" stop-color="#ffd1d1"/><stop offset="0.044" stop-color="#ffe2e2"/><stop offset="0.056" stop-color="#fff1f1"/><stop offset="0.070" stop-color="#fff"/><stop offset="0.070" stop-color="#fff"/><stop offset="0.087" stop-color="#ececff"/><stop offset="0.108" stop-color="#ddf"/><stop offset="0.133" stop-color="#d0d0ff"/><stop offset="0.161" stop-color="#c1c1ff"/><stop offset="0.192" stop-color="#bbf"/><stop offset="0.234" stop-color="#b7b7ff"/><stop offset="0.280" stop-color="#b7b7ff"/><stop offset="0.332" stop-color="#b7b7ff"/><stop offset="0.385" stop-color="#b7b7ff"/><stop offset="0.455" stop-color="#b7b7ff"/><stop offset="0.525" stop-color="#bdbdff"/><stop offset="0.612" stop-color="#bdbdff"/><stop offset="0.700" stop-color="#bbf"/><stop offset="0.787" stop-color="#b9b9ff"/><stop offset="0.875" stop-color="#bbf"/><stop offset="0.945" stop-color="#bbf"/><stop offset="1.000" stop-color="#b8b8ff"/></linearGradient>
<linearGradient id="a27" gradientUnits="userSpaceOnUse" x1="0" y1="66.4" x2="0" y2="638.1"><stop offset="0.000" stop-color="#ff9191"/><stop offset="0.005" stop-color="#f99"/><stop offset="0.010" stop-color="#ffa4a4"/><stop offset="0.017" stop-color="#ffb2b2"/><stop offset="0.024" stop-color="#ffbfbf"/><stop offset="0.033" stop-color="#ffcdcd"/><stop offset="0.044" stop-color="#ffdede"/><stop offset="0.056" stop-color="#fee"/><stop offset="0.070" stop-color="#fffcfc"/><stop offset="0.073" stop-color="#fff"/><stop offset="0.087" stop-color="#f0f0ff"/><stop offset="0.108" stop-color="#e2e2ff"/><stop offset="0.133" stop-color="#d5d5ff"/><stop offset="0.161" stop-color="#c6c6ff"/><stop offset="0.192" stop-color="#bfbfff"/><stop offset="0.234" stop-color="#bbf"/><stop offset="0.280" stop-color="#bbf"/><stop offset="0.332" stop-color="#bbf"/><stop offset="0.385" stop-color="#bbf"/><stop offset="0.455" stop-color="#babaff"/><stop offset="0.525" stop-color="#bfbfff"/><stop offset="0.612" stop-color="#c0c0ff"/><stop offset="0.700" stop-color="#bdbdff"/><stop offset="0.787" stop-color="#bcbcff"/><stop offset="0.875" stop-color="#bfbfff"/><stop offset="0.945" stop-color="#c0c0ff"/><stop offset="1.000" stop-color="#bdbdff"/></linearGradient>
<linearGradient id="a28" gradientUnits="userSpaceOnUse" x1="0" y1="66.4" x2="0" y2="638.1"><stop offset="0.000" stop-color="#ff8f8f"/><stop offset="0.005" stop-color="#ff9797"/><stop offset="0.010" stop-color="#ffa1a1"/><stop offset="0.017" stop-color="#ffaeae"/><stop offset="0.024" stop-color="#fbb"/><stop offset="0.033" stop-color="#ffc9c9"/><stop offset="0.044" stop-color="#ffd9d9"/><stop offset="0.056" stop-color="#ffeaea"/><stop offset="0.070" stop-color="#fff8f8"/><stop offset="0.077" stop-color="#fff"/><stop offset="0.087" stop-color="#f5f5ff"/><stop offset="0.108" stop-color="#e8e8ff"/><stop offset="0.133" stop-color="#dadaff"/><stop offset="0.161" stop-color="#cbcbff"/><stop offset="0.192" stop-color="#c4c4ff"/><stop offset="0.234" stop-color="#bfbfff"/><stop offset="0.280" stop-color="#bfbfff"/><stop offset="0.332" stop-color="#bfbfff"/><stop offset="0.385" stop-color="#bfbfff"/><stop offset="0.455" stop-color="#bdbdff"/><stop offset="0.525" stop-color="#c3c3ff"/><stop offset="0.612" stop-color="#c3c3ff"/><stop offset="0.700" stop-color="#c1c1ff"/><stop offset="0.787" stop-color="#c0c0ff"/><stop offset="0.875" stop-color="#c3c3ff"/><stop offset="0.945" stop-color="#c5c5ff"/><stop offset="1.000" stop-color="#c3c3ff"/></linearGradient>
<linearGradient id="a29" gradientUnits="userSpaceOnUse" x1="0" y1="66.4" x2="0" y2="638.1"><stop offset="0.000" stop-color="#ff8e8e"/><stop offset="0.005" stop-color="#ff9595"/><stop offset="0.010" stop-color="#ff9f9f"/><stop offset="0.017" stop-color="#ffabab"/><stop offset="0.024" stop-color="#ffb8b8"/><stop offset="0.033" stop-color="#ffc5c5"/><stop offset="0.044" stop-color="#ffd5d5"/><stop offset="0.056" stop-color="#ffe6e6"/><stop offset="0.070" stop-color="#fff4f4"/><stop offset="0.081" stop-color="#fff"/><stop offset="0.087" stop-color="#f9f9ff"/><stop offset="0.108" stop-color="#ededff"/><stop offset="0.133" stop-color="#e0e0ff"/><stop offset="0.161" stop-color="#d1d1ff"/><stop offset="0.192" stop-color="#c9c9ff"/><stop offset="0.234" stop-color="#c3c3ff"/><stop offset="0.280" stop-color="#c3c3ff"/><stop offset="0.332" stop-color="#c3c3ff"/><stop offset="0.385" stop-color="#c2c2ff"/><stop offset="0.455" stop-color="#c1c1ff"/><stop offset="0.525" stop-color="#c6c6ff"/><stop offset="0.612" stop-color="#c6c6ff"/><stop offset="0.700" stop-color="#c4c4ff"/><stop offset="0.787" stop-color="#c4c4ff"/><stop offset="0.875" stop-color="#c8c8ff"/><stop offset="0.945" stop-color="#cacaff"/><stop offset="1.000" stop-color="#c9c9ff"/></linearGradient>
<linearGradient id="a30" gradientUnits="userSpaceOnUse" x1="0" y1="66.4" x2="0" y2="638.1"><stop offset="0.000" stop-color="#ff8c8c"/><stop offset="0.005" stop-color="#ff9393"/><stop offset="0.010" stop-color="#ff9c9c"/><stop offset="0.017" stop-color="#ffa8a8"/><stop offset="0.024" stop-color="#ffb4b4"/><stop offset="0.033" stop-color="#ffc1c1"/><stop offset="0.044" stop-color="#ffd1d1"/><stop offset="0.056" stop-color="#ffe2e2"/><stop offset="0.070" stop-color="#fff1f1"/><stop offset="0.085" stop-color="#fff"/><stop offset="0.087" stop-color="#fdfdff"/><stop offset="0.108" stop-color="#f1f1ff"/><stop offset="0.133" stop-color="#e5e5ff"/><stop offset="0.161" stop-color="#d6d6ff"/><stop offset="0.192" stop-color="#ceceff"/><stop offset="0.234" stop-color="#c7c7ff"/><stop offset="0.280" stop-color="#c7c7ff"/><stop offset="0.332" stop-color="#c7c7ff"/><stop offset="0.385" stop-color="#c6c6ff"/><stop offset="0.455" stop-color="#c4c4ff"/><stop offset="0.525" stop-color="#c9c9ff"/><stop offset="0.612" stop-color="#cacaff"/><stop offset="0.700" stop-color="#c8c8ff"/><stop offset="0.787" stop-color="#c8c8ff"/><stop offset="0.875" stop-color="#ccf"/><stop offset="0.945" stop-color="#cfcfff"/><stop offset="1.000" stop-color="#ceceff"/></linearGradient>
<linearGradient id="a31" gradientUnits="userSpaceOnUse" x1="0" y1="66.4" x2="0" y2="638.1"><stop offset="0.000" stop-color="#ff8a8a"/><stop offset="0.005" stop-color="#ff9191"/><stop offset="0.010" stop-color="#ff9a9a"/><stop offset="0.017" stop-color="#ffa5a5"/><stop offset="0.024" stop-color="#ffb0b0"/><stop offset="0.033" stop-color="#ffbdbd"/><stop offset="0.044" stop-color="#ffcdcd"/><stop offset="0.056" stop-color="#ffdede"/><stop offset="0.070" stop-color="#ffeded"/><stop offset="0.087" stop-color="#fffdfd"/><stop offset="0.091" stop-color="#fff"/><stop offset="0.108" stop-color="#f5f5ff"/><stop offset="0.133" stop-color="#e9e9ff"/><stop offset="0.161" stop-color="#dcdcff"/><stop offset="0.192" stop-color="#d3d3ff"/><stop offset="0.234" stop-color="#ccf"/><stop offset="0.280" stop-color="#cbcbff"/><stop offset="0.332" stop-color="#cbcbff"/><stop offset="0.385" stop-color="#cacaff"/><stop offset="0.455" stop-color="#c8c8ff"/><stop offset="0.525" stop-color="#ccf"/><stop offset="0.612" stop-color="#cdcdff"/><stop offset="0.700" stop-color="#ccf"/><stop offset="0.787" stop-color="#ccf"/><stop offset="0.875" stop-color="#d1d1ff"/><stop offset="0.945" stop-color="#d4d4ff"/><stop offset="1.000" stop-color="#d4d4ff"/></linearGradient>
<linearGradient id="a32" gradientUnits="userSpaceOnUse" x1="0" y1="66.4" x2="0" y2="638.1"><stop offset="0.000" stop-color="#ff8989"/><stop offset="0.005" stop-color="#ff8f8f"/><stop offset="0.010" stop-color="#ff9797"/><stop offset="0.017" stop-color="#ffa2a2"/><stop offset="0.024" stop-color="#ffacac"/><stop offset="0.033" stop-color="#ffbaba"/><stop offset="0.044" stop-color="#ffc9c9"/><stop offset="0.056" stop-color="#ffdada"/><stop offset="0.070" stop-color="#ffeaea"/><stop offset="0.087" stop-color="#fff9f9"/><stop offset="0.099" stop-color="#fff"/><stop offset="0.108" stop-color="#fafaff"/><stop offset="0.133" stop-color="#eef"/><stop offset="0.161" stop-color="#e1e1ff"/><stop offset="0.192" stop-color="#d9d9ff"/><stop offset="0.234" stop-color="#d1d1ff"/><stop offset="0.280" stop-color="#d0d0ff"/><stop offset="0.332" stop-color="#d0d0ff"/><stop offset="0.385" stop-color="#cfcfff"/><stop offset="0.455" stop-color="#ccf"/><stop offset="0.525" stop-color="#d0d0ff"/><stop offset="0.612" stop-color="#d0d0ff"/><stop offset="0.700" stop-color="#d0d0ff"/><stop offset="0.787" stop-color="#d1d1ff"/><stop offset="0.875" stop-color="#d5d5ff"/><stop offset="0.945" stop-color="#d8d8ff"/><stop offset="1.000" stop-color="#dadaff"/></linearGradient>
<linearGradient id="a33" gradientUnits="userSpaceOnUse" x1="0" y1="66.4" x2="0" y2="638.1"><stop offset="0.000" stop-color="#ff8787"/><stop offset="0.005" stop-color="#ff8d8d"/><stop offset="0.010" stop-color="#ff9595"/><stop offset="0.017" stop-color="#ffa0a0"/><stop offset="0.024" stop-color="#faa"/><stop offset="0.033" stop-color="#ffb7b7"/><stop offset="0.044" stop-color="#ffc6c6"/><stop offset="0.056" stop-color="#ffd7d7"/><stop offset="0.070" stop-color="#ffe7e7"/><stop offset="0.087" stop-color="#fff6f6"/><stop offset="0.105" stop-color="#fff"/><stop offset="0.108" stop-color="#fdfdff"/><stop offset="0.133" stop-color="#f3f3ff"/><stop offset="0.161" stop-color="#e7e7ff"/><stop offset="0.192" stop-color="#dedeff"/><stop offset="0.234" stop-color="#d6d6ff"/><stop offset="0.280" stop-color="#d5d5ff"/><stop offset="0.332" stop-color="#d4d4ff"/><stop offset="0.385" stop-color="#d4d4ff"/><stop offset="0.455" stop-color="#d1d1ff"/><stop offset="0.525" stop-color="#d3d3ff"/><stop offset="0.612" stop-color="#d4d4ff"/><stop offset="0.700" stop-color="#d3d3ff"/><stop offset="0.787" stop-color="#d5d5ff"/><stop offset="0.875" stop-color="#dadaff"/><stop offset="0.945" stop-color="#ddf"/><stop offset="1.000" stop-color="#dfdfff"/></linearGradient>
<linearGradient id="a34" gradientUnits="userSpaceOnUse" x1="0" y1="66.4" x2="0" y2="638.1"><stop offset="0.000" stop-color="#ff8686"/><stop offset="0.005" stop-color="#ff8c8c"/><stop offset="0.010" stop-color="#ff9494"/><stop offset="0.017" stop-color="#ff9e9e"/><stop offset="0.024" stop-color="#ffa9a9"/><stop offset="0.033" stop-color="#ffb5b5"/><stop offset="0.044" stop-color="#ffc4c4"/><stop offset="0.056" stop-color="#ffd4d4"/><stop offset="0.070" stop-color="#ffe4e4"/><stop offset="0.087" stop-color="#fff3f3"/><stop offset="0.108" stop-color="#fffefe"/><stop offset="0.110" stop-color="#fff"/><stop offset="0.133" stop-color="#f6f6ff"/><stop offset="0.161" stop-color="#ececff"/><stop offset="0.192" stop-color="#e4e4ff"/><stop offset="0.234" stop-color="#dbdbff"/><stop offset="0.280" stop-color="#dadaff"/><stop offset="0.332" stop-color="#d9d9ff"/><stop offset="0.385" stop-color="#d8d8ff"/><stop offset="0.455" stop-color="#d5d5ff"/><stop offset="0.525" stop-color="#d7d7ff"/><stop offset="0.612" stop-color="#d7d7ff"/><stop offset="0.700" stop-color="#d7d7ff"/><stop offset="0.787" stop-color="#d9d9ff"/><stop offset="0.875" stop-color="#dedeff"/><stop offset="0.945" stop-color="#e2e2ff"/><stop offset="1.000" stop-color="#e5e5ff"/></linearGradient>
<linearGradient id="a35" gradientUnits="userSpaceOnUse" x1="0" y1="66.4" x2="0" y2="638.1"><stop offset="0.000" stop-color="#ff8585"/><stop offset="0.005" stop-color="#ff8b8b"/><stop offset="0.010" stop-color="#ff9393"/><stop offset="0.017" stop-color="#ff9d9d"/><stop offset="0.024" stop-color="#ffa7a7"/><stop offset="0.033" stop-color="#ffb3b3"/><stop offset="0.044" stop-color="#ffc2c2"/><stop offset="0.056" stop-color="#ffd2d2"/><stop offset="0.070" stop-color="#ffe2e2"/><stop offset="0.087" stop-color="#fff1f1"/><stop offset="0.108" stop-color="#fffcfc"/><stop offset="0.117" stop-color="#fff"/><stop offset="0.133" stop-color="#fafaff"/><stop offset="0.161" stop-color="#f0f0ff"/><stop offset="0.192" stop-color="#e9e9ff"/><stop offset="0.234" stop-color="#e0e0ff"/><stop offset="0.280" stop-color="#dfdfff"/><stop offset="0.332" stop-color="#dedeff"/><stop offset="0.385" stop-color="#ddf"/><stop offset="0.455" stop-color="#dadaff"/><stop offset="0.525" stop-color="#dbdbff"/><stop offset="0.612" stop-color="#dbdbff"/><stop offset="0.700" stop-color="#dcdcff"/><stop offset="0.787" stop-color="#dedeff"/><stop offset="0.875" stop-color="#e2e2ff"/><stop offset="0.945" stop-color="#e6e6ff"/><stop offset="1.000" stop-color="#e9e9ff"/></linearGradient>
<linearGradient id="a36" gradientUnits="userSpaceOnUse" x1="0" y1="66.4" x2="0" y2="638.1"><stop offset="0.000" stop-color="#ff8484"/><stop offset="0.005" stop-color="#ff8a8a"/><stop offset="0.010" stop-color="#ff9191"/><stop offset="0.017" stop-color="#ff9b9b"/><stop offset="0.024" stop-color="#ffa6a6"/><stop offset="0.033" stop-color="#ffb1b1"/><stop offset="0.044" stop-color="#ffc0c0"/><stop offset="0.056" stop-color="#ffcfcf"/><stop offset="0.070" stop-color="#ffdfdf"/><stop offset="0.087" stop-color="#ffefef"/><stop offset="0.108" stop-color="#fffafa"/><stop offset="0.126" stop-color="#fff"/><stop offset="0.133" stop-color="#fdfdff"/><stop offset="0.161" stop-color="#f5f5ff"/><stop offset="0.192" stop-color="#eef"/><stop offset="0.234" stop-color="#e6e6ff"/><stop offset="0.280" stop-color="#e4e4ff"/><stop offset="0.332" stop-color="#e3e3ff"/><stop offset="0.385" stop-color="#e2e2ff"/><stop offset="0.455" stop-color="#dfdfff"/><stop offset="0.525" stop-color="#dfdfff"/><stop offset="0.612" stop-color="#e0e0ff"/><stop offset="0.700" stop-color="#e0e0ff"/><stop offset="0.787" stop-color="#e2e2ff"/><stop offset="0.875" stop-color="#e7e7ff"/><stop offset="0.945" stop-color="#eaeaff"/><stop offset="1.000" stop-color="#ededff"/></linearGradient>
<linearGradient id="a37" gradientUnits="userSpaceOnUse" x1="0" y1="66.4" x2="0" y2="638.1"><stop offset="0.000" stop-color="#ff8282"/><stop offset="0.005" stop-color="#f88"/><stop offset="0.010" stop-color="#ff9090"/><stop offset="0.017" stop-color="#ff9a9a"/><stop offset="0.024" stop-color="#ffa4a4"/><stop offset="0.033" stop-color="#ffb0b0"/><stop offset="0.044" stop-color="#ffbebe"/><stop offset="0.056" stop-color="#ffcdcd"/><stop offset="0.070" stop-color="#fdd"/><stop offset="0.087" stop-color="#ffecec"/><stop offset="0.108" stop-color="#fff7f7"/><stop offset="0.133" stop-color="#fffefe"/><stop offset="0.138" stop-color="#fff"/><stop offset="0.161" stop-color="#f9f9ff"/><stop offset="0.192" stop-color="#f3f3ff"/><stop offset="0.234" stop-color="#ebebff"/><stop offset="0.280" stop-color="#e9e9ff"/><stop offset="0.332" stop-color="#e8e8ff"/><stop offset="0.385" stop-color="#e6e6ff"/><stop offset="0.455" stop-color="#e3e3ff"/><stop offset="0.525" stop-color="#e3e3ff"/><stop offset="0.612" stop-color="#e4e4ff"/><stop offset="0.700" stop-color="#e5e5ff"/><stop offset="0.787" stop-color="#e7e7ff"/><stop offset="0.875" stop-color="#ebebff"/><stop offset="0.945" stop-color="#eef"/><stop offset="1.000" stop-color="#f1f1ff"/></linearGradient>
<linearGradient id="a38" gradientUnits="userSpaceOnUse" x1="0" y1="66.4" x2="0" y2="638.1"><stop offset="0.000" stop-color="#ff8181"/><stop offset="0.005" stop-color="#ff8787"/><stop offset="0.010" stop-color="#ff8f8f"/><stop offset="0.017" stop-color="#f99"/><stop offset="0.024" stop-color="#ffa3a3"/><stop offset="0.033" stop-color="#ffaeae"/><stop offset="0.044" stop-color="#fbb"/><stop offset="0.056" stop-color="#ffcaca"/><stop offset="0.070" stop-color="#ffdada"/><stop offset="0.087" stop-color="#ffeaea"/><stop offset="0.108" stop-color="#fff5f5"/><stop offset="0.133" stop-color="#fffafa"/><stop offset="0.154" stop-color="#fff"/><stop offset="0.161" stop-color="#fefeff"/><stop offset="0.192" stop-color="#f7f7ff"/><stop offset="0.234" stop-color="#f0f0ff"/><stop offset="0.280" stop-color="#eef"/><stop offset="0.332" stop-color="#ececff"/><stop offset="0.385" stop-color="#ebebff"/><stop offset="0.455" stop-color="#e8e8ff"/><stop offset="0.525" stop-color="#e8e8ff"/><stop offset="0.612" stop-color="#e8e8ff"/><stop offset="0.700" stop-color="#e9e9ff"/><stop offset="0.787" stop-color="#ececff"/><stop offset="0.875" stop-color="#f0f0ff"/><stop offset="0.945" stop-color="#f3f3ff"/><stop offset="1.000" stop-color="#f5f5ff"/></linearGradient>
<linearGradient id="a39" gradientUnits="userSpaceOnUse" x1="0" y1="66.4" x2="0" y2="638.1"><stop offset="0.000" stop-color="#ff8080"/><stop offset="0.005" stop-color="#ff8686"/><stop offset="0.010" stop-color="#ff8d8d"/><stop offset="0.017" stop-color="#ff9797"/><stop offset="0.024" stop-color="#ffa1a1"/><stop offset="0.033" stop-color="#ffacac"/><stop offset="0.044" stop-color="#ffb9b9"/><stop offset="0.056" stop-color="#ffc8c8"/><stop offset="0.070" stop-color="#ffd8d8"/><stop offset="0.087" stop-color="#ffe8e8"/><stop offset="0.108" stop-color="#fff2f2"/><stop offset="0.133" stop-color="#fff7f7"/><stop offset="0.161" stop-color="#fffdfd"/><stop offset="0.175" stop-color="#fff"/><stop offset="0.192" stop-color="#fcfcff"/><stop offset="0.234" stop-color="#f4f4ff"/><stop offset="0.280" stop-color="#f3f3ff"/><stop offset="0.332" stop-color="#f1f1ff"/><stop offset="0.385" stop-color="#f0f0ff"/><stop offset="0.455" stop-color="#ececff"/><stop offset="0.525" stop-color="#ececff"/><stop offset="0.612" stop-color="#ededff"/><stop offset="0.700" stop-color="#eef"/><stop offset="0.787" stop-color="#f1f1ff"/><stop offset="0.875" stop-color="#f4f4ff"/><stop offset="0.945" stop-color="#f7f7ff"/><stop offset="1.000" stop-color="#fafaff"/></linearGradient>
<linearGradient id="a40" gradientUnits="userSpaceOnUse" x1="0" y1="66.4" x2="0" y2="638.1"><stop offset="0.000" stop-color="#ff7f7f"/><stop offset="0.005" stop-color="#ff8585"/><stop offset="0.010" stop-color="#ff8c8c"/><stop offset="0.017" stop-color="#ff9696"/><stop offset="0.024" stop-color="#ffa0a0"/><stop offset="0.033" stop-color="#faa"/><stop offset="0.044" stop-color="#ffb7b7"/><stop offset="0.056" stop-color="#ffc6c6"/><stop offset="0.070" stop-color="#ffd5d5"/><stop offset="0.087" stop-color="#ffe4e4"/><stop offset="0.108" stop-color="#fff0f0"/><stop offset="0.133" stop-color="#fff5f5"/><stop offset="0.161" stop-color="#fffafa"/><stop offset="0.192" stop-color="#fff"/><stop offset="0.193" stop-color="#fff"/><stop offset="0.234" stop-color="#f9f9ff"/><stop offset="0.280" stop-color="#f7f7ff"/><stop offset="0.332" stop-color="#f6f6ff"/><stop offset="0.385" stop-color="#f4f4ff"/><stop offset="0.455" stop-color="#f0f0ff"/><stop offset="0.525" stop-color="#f1f1ff"/><stop offset="0.612" stop-color="#f2f2ff"/><stop offset="0.700" stop-color="#f2f2ff"/><stop offset="0.787" stop-color="#f5f5ff"/><stop offset="0.875" stop-color="#fafaff"/><stop offset="0.945" stop-color="#fdfdff"/><stop offset="1.000" stop-color="#fff"/></linearGradient>
<linearGradient id="a41" gradientUnits="userSpaceOnUse" x1="0" y1="66.4" x2="0" y2="638.1"><stop offset="0.000" stop-color="#ff7e7e"/><stop offset="0.005" stop-color="#ff8484"/><stop offset="0.010" stop-color="#ff8b8b"/><stop offset="0.017" stop-color="#ff9595"/><stop offset="0.024" stop-color="#ff9e9e"/><stop offset="0.033" stop-color="#ffa9a9"/><stop offset="0.044" stop-color="#ffb6b6"/><stop offset="0.056" stop-color="#ffc4c4"/><stop offset="0.070" stop-color="#ffd2d2"/><stop offset="0.087" stop-color="#ffe1e1"/><stop offset="0.108" stop-color="#fee"/><stop offset="0.133" stop-color="#fff2f2"/><stop offset="0.161" stop-color="#fff7f7"/><stop offset="0.192" stop-color="#fffbfb"/><stop offset="0.223" stop-color="#fff"/><stop offset="0.234" stop-color="#fefeff"/><stop offset="0.280" stop-color="#fcfcff"/><stop offset="0.332" stop-color="#fbfbff"/><stop offset="0.385" stop-color="#f9f9ff"/><stop offset="0.455" stop-color="#f5f5ff"/><stop offset="0.525" stop-color="#f6f6ff"/><stop offset="0.612" stop-color="#f6f6ff"/><stop offset="0.700" stop-color="#f7f7ff"/><stop offset="0.787" stop-color="#fafaff"/><stop offset="0.875" stop-color="#fdfdff"/><stop offset="0.945" stop-color="#fff"/><stop offset="1.000" stop-color="#fff"/></linearGradient>
<linearGradient id="a42" gradientUnits="userSpaceOnUse" x1="0" y1="66.4" x2="0" y2="638.1"><stop offset="0.000" stop-color="#ff7e7e"/><stop offset="0.005" stop-color="#ff8383"/><stop offset="0.010" stop-color="#ff8a8a"/><stop offset="0.017" stop-color="#ff9494"/><stop offset="0.024" stop-color="#ff9d9d"/><stop offset="0.033" stop-color="#ffa8a8"/><stop offset="0.044" stop-color="#ffb4b4"/><stop offset="0.056" stop-color="#ffc2c2"/><stop offset="0.070" stop-color="#ffcfcf"/><stop offset="0.087" stop-color="#fdd"/><stop offset="0.108" stop-color="#ffecec"/><stop offset="0.133" stop-color="#fff0f0"/><stop offset="0.161" stop-color="#fff5f5"/><stop offset="0.192" stop-color="#fff9f9"/><stop offset="0.234" stop-color="#fffdfd"/><stop offset="0.280" stop-color="#fff"/><stop offset="0.294" stop-color="#fff"/><stop offset="0.332" stop-color="#fefeff"/><stop offset="0.385" stop-color="#fcfcff"/><stop offset="0.455" stop-color="#f9f9ff"/><stop offset="0.525" stop-color="#fbfbff"/><stop offset="0.612" stop-color="#fbfbff"/><stop offset="0.700" stop-color="#fcfcff"/><stop offset="0.787" stop-color="#fdfdff"/><stop offset="0.875" stop-color="#fefeff"/><stop offset="0.945" stop-color="#fff"/><stop offset="1.000" stop-color="#fff"/></linearGradient>
<linearGradient id="a43" gradientUnits="userSpaceOnUse" x1="0" y1="66.4" x2="0" y2="638.1"><stop offset="0.000" stop-color="#ff7d7d"/><stop offset="0.005" stop-color="#ff8383"/><stop offset="0.010" stop-color="#ff8a8a"/><stop offset="0.017" stop-color="#ff9393"/><stop offset="0.024" stop-color="#ff9c9c"/><stop offset="0.033" stop-color="#ffa6a6"/><stop offset="0.044" stop-color="#ffb3b3"/><stop offset="0.056" stop-color="#ffc0c0"/><stop offset="0.070" stop-color="#fcc"/><stop offset="0.087" stop-color="#ffd9d9"/><stop offset="0.108" stop-color="#ffe8e8"/><stop offset="0.133" stop-color="#ffeded"/><stop offset="0.161" stop-color="#fff2f2"/><stop offset="0.192" stop-color="#fff6f6"/><stop offset="0.234" stop-color="#fffbfb"/><stop offset="0.280" stop-color="#fffcfc"/><stop offset="0.332" stop-color="#fffefe"/><stop offset="0.371" stop-color="#fff"/><stop offset="0.385" stop-color="#fff"/><stop offset="0.455" stop-color="#fdfdff"/><stop offset="0.525" stop-color="#fdfdff"/><stop offset="0.612" stop-color="#fdfdff"/><stop offset="0.700" stop-color="#fefeff"/><stop offset="0.787" stop-color="#fff"/><stop offset="0.875" stop-color="#fff"/><stop offset="0.945" stop-color="#fff"/><stop offset="1.000" stop-color="#fff"/></linearGradient>
<linearGradient id="a44" gradientUnits="userSpaceOnUse" x1="0" y1="66.4" x2="0" y2="638.1"><stop offset="0.000" stop-color="#ff7c7c"/><stop offset="0.005" stop-color="#ff8282"/><stop offset="0.010" stop-color="#ff8989"/><stop offset="0.017" stop-color="#ff9292"/><stop offset="0.024" stop-color="#ff9b9b"/><stop offset="0.033" stop-color="#ffa5a5"/><stop offset="0.044" stop-color="#ffb1b1"/><stop offset="0.056" stop-color="#ffbebe"/><stop offset="0.070" stop-color="#ffc9c9"/><stop offset="0.087" stop-color="#ffd6d6"/><stop offset="0.108" stop-color="#ffe4e4"/><stop offset="0.133" stop-color="#ffe9e9"/><stop offset="0.161" stop-color="#ffefef"/><stop offset="0.192" stop-color="#fff3f3"/><stop offset="0.234" stop-color="#fff8f8"/><stop offset="0.280" stop-color="#fffafa"/><stop offset="0.332" stop-color="#fffbfb"/><stop offset="0.385" stop-color="#fffdfd"/><stop offset="0.442" stop-color="#fff"/><stop offset="0.455" stop-color="#fff"/><stop offset="0.525" stop-color="#fff"/><stop offset="0.612" stop-color="#fff"/><stop offset="0.700" stop-color="#fff"/><stop offset="0.787" stop-color="#fff"/><stop offset="0.875" stop-color="#fff"/><stop offset="0.945" stop-color="#fff"/><stop offset="1.000" stop-color="#fff"/></linearGradient>
<linearGradient id="a45" gradientUnits="userSpaceOnUse" x1="0" y1="66.4" x2="0" y2="638.1"><stop offset="0.000" stop-color="#ff7c7c"/><stop offset="0.005" stop-color="#ff8181"/><stop offset="0.010" stop-color="#f88"/><stop offset="0.017" stop-color="#ff9191"/><stop offset="0.024" stop-color="#f99"/><stop offset="0.033" stop-color="#ffa3a3"/><stop offset="0.044" stop-color="#ffb0b0"/><stop offset="0.056" stop-color="#ffbcbc"/><stop offset="0.070" stop-color="#ffc6c6"/><stop offset="0.087" stop-color="#ffd2d2"/><stop offset="0.108" stop-color="#ffe0e0"/><stop offset="0.133" stop-color="#ffe5e5"/><stop offset="0.161" stop-color="#ffebeb"/><stop offset="0.192" stop-color="#fff0f0"/><stop offset="0.234" stop-color="#fff6f6"/><stop offset="0.280" stop-color="#fff7f7"/><stop offset="0.332" stop-color="#fff9f9"/><stop offset="0.385" stop-color="#fffafa"/><stop offset="0.455" stop-color="#fffdfd"/><stop offset="0.525" stop-color="#fffefe"/><stop offset="0.612" stop-color="#fff"/><stop offset="0.700" stop-color="#fff"/><stop offset="0.787" stop-color="#fff"/><stop offset="0.875" stop-color="#fff"/><stop offset="0.945" stop-color="#fff"/><stop offset="1.000" stop-color="#fff"/></linearGradient>
<linearGradient id="a46" gradientUnits="userSpaceOnUse" x1="0" y1="66.4" x2="0" y2="638.1"><stop offset="0.000" stop-color="#ff7b7b"/><stop offset="0.005" stop-color="#ff8080"/><stop offset="0.010" stop-color="#ff8787"/><stop offset="0.017" stop-color="#ff8f8f"/><stop offset="0.024" stop-color="#ff9898"/><stop offset="0.033" stop-color="#ffa2a2"/><stop offset="0.044" stop-color="#ffaeae"/><stop offset="0.056" stop-color="#ffbaba"/><stop offset="0.070" stop-color="#ffc3c3"/><stop offset="0.087" stop-color="#ffcece"/><stop offset="0.108" stop-color="#ffdcdc"/><stop offset="0.133" stop-color="#ffe2e2"/><stop offset="0.161" stop-color="#ffe8e8"/><stop offset="0.192" stop-color="#ffeded"/><stop offset="0.234" stop-color="#fff3f3"/><stop offset="0.280" stop-color="#fff5f5"/><stop offset="0.332" stop-color="#fff6f6"/><stop offset="0.385" stop-color="#fff8f8"/><stop offset="0.455" stop-color="#fffbfb"/><stop offset="0.525" stop-color="#fffdfd"/><stop offset="0.612" stop-color="#fffefe"/><stop offset="0.700" stop-color="#fff"/><stop offset="0.787" stop-color="#fff"/><stop offset="0.875" stop-color="#fff"/><stop offset="0.945" stop-color="#fff"/><stop offset="1.000" stop-color="#fff"/></linearGradient>
<linearGradient id="a47" gradientUnits="userSpaceOnUse" x1="0" y1="66.4" x2="0" y2="638.1"><stop offset="0.000" stop-color="#ff7b7b"/><stop offset="0.005" stop-color="#ff8080"/><stop offset="0.010" stop-color="#ff8686"/><stop offset="0.017" stop-color="#ff8e8e"/><stop offset="0.024" stop-color="#ff9797"/><stop offset="0.033" stop-color="#ffa1a1"/><stop offset="0.044" stop-color="#ffacac"/><stop offset="0.056" stop-color="#ffb8b8"/><stop offset="0.070" stop-color="#ffc0c0"/><stop offset="0.087" stop-color="#ffcbcb"/><stop offset="0.108" stop-color="#ffd8d8"/><stop offset="0.133" stop-color="#ffdede"/><stop offset="0.161" stop-color="#ffe5e5"/><stop offset="0.192" stop-color="#ffebeb"/><stop offset="0.234" stop-color="#fff1f1"/><stop offset="0.280" stop-color="#fff2f2"/><stop offset="0.332" stop-color="#fff4f4"/><stop offset="0.385" stop-color="#fff5f5"/><stop offset="0.455" stop-color="#fff8f8"/><stop offset="0.525" stop-color="#fffcfc"/><stop offset="0.612" stop-color="#fffefe"/><stop offset="0.700" stop-color="#fff"/><stop offset="0.787" stop-color="#fff"/><stop offset="0.875" stop-color="#fff"/><stop offset="0.945" stop-color="#fff"/><stop offset="1.000" stop-color="#fff"/></linearGradient>
<linearGradient id="a48" gradientUnits="userSpaceOnUse" x1="0" y1="66.4" x2="0" y2="638.1"><stop offset="0.000" stop-color="#ff7b7b"/><stop offset="0.005" stop-color="#ff8080"/><stop offset="0.010" stop-color="#ff8686"/><stop offset="0.017" stop-color="#ff8d8d"/><stop offset="0.024" stop-color="#ff9595"/><stop offset="0.033" stop-color="#ff9f9f"/><stop offset="0.044" stop-color="#faa"/><stop offset="0.056" stop-color="#ffb5b5"/><stop offset="0.070" stop-color="#ffbebe"/><stop offset="0.087" stop-color="#ffc8c8"/><stop offset="0.108" stop-color="#ffd6d6"/><stop offset="0.133" stop-color="#ffdcdc"/><stop offset="0.161" stop-color="#ffe3e3"/><stop offset="0.192" stop-color="#ffe8e8"/><stop offset="0.234" stop-color="#fee"/><stop offset="0.280" stop-color="#fff0f0"/><stop offset="0.332" stop-color="#fff1f1"/><stop offset="0.385" stop-color="#fff3f3"/><stop offset="0.455" stop-color="#fff6f6"/><stop offset="0.525" stop-color="#fffbfb"/><stop offset="0.612" stop-color="#fffefe"/><stop offset="0.700" stop-color="#fff"/><stop offset="0.787" stop-color="#fff"/><stop offset="0.875" stop-color="#fff"/><stop offset="0.945" stop-color="#fff"/><stop offset="1.000" stop-color="#fff"/></linearGradient>
<linearGradient id="a49" gradientUnits="userSpaceOnUse" x1="0" y1="66.4" x2="0" y2="638.1"><stop offset="0.000" stop-color="#ff7d7d"/><stop offset="0.005" stop-color="#ff8181"/><stop offset="0.010" stop-color="#ff8585"/><stop offset="0.017" stop-color="#ff8c8c"/><stop offset="0.024" stop-color="#ff9494"/><stop offset="0.033" stop-color="#ff9d9d"/><stop offset="0.044" stop-color="#ffa8a8"/><stop offset="0.056" stop-color="#ffb3b3"/><stop offset="0.070" stop-color="#ffbcbc"/><stop offset="0.087" stop-color="#ffc6c6"/><stop offset="0.108" stop-color="#ffd4d4"/><stop offset="0.133" stop-color="#ffdada"/><stop offset="0.161" stop-color="#ffe0e0"/><stop offset="0.192" stop-color="#ffe6e6"/><stop offset="0.234" stop-color="#ffecec"/><stop offset="0.280" stop-color="#fee"/><stop offset="0.332" stop-color="#ffefef"/><stop offset="0.385" stop-color="#fff1f1"/><stop offset="0.455" stop-color="#fff3f3"/><stop offset="0.525" stop-color="#fffafa"/><stop offset="0.612" stop-color="#fffdfd"/><stop offset="0.700" stop-color="#fff"/><stop offset="0.787" stop-color="#fff"/><stop offset="0.875" stop-color="#fff"/><stop offset="0.945" stop-color="#fff"/><stop offset="1.000" stop-color="#fff"/></linearGradient>
<linearGradient id="a50" gradientUnits="userSpaceOnUse" x1="0" y1="66.4" x2="0" y2="638.1"><stop offset="0.000" stop-color="#ff7e7e"/><stop offset="0.005" stop-color="#ff8181"/><stop offset="0.010" stop-color="#ff8585"/><stop offset="0.017" stop-color="#ff8b8b"/><stop offset="0.024" stop-color="#ff9292"/><stop offset="0.033" stop-color="#ff9a9a"/><stop offset="0.044" stop-color="#ffa5a5"/><stop offset="0.056" stop-color="#ffb1b1"/><stop offset="0.070" stop-color="#ffbaba"/><stop offset="0.087" stop-color="#ffc4c4"/><stop offset="0.108" stop-color="#ffd2d2"/><stop offset="0.133" stop-color="#ffd7d7"/><stop offset="0.161" stop-color="#ffdede"/><stop offset="0.192" stop-color="#ffe3e3"/><stop offset="0.234" stop-color="#ffe9e9"/><stop offset="0.280" stop-color="#ffebeb"/><stop offset="0.332" stop-color="#ffeded"/><stop offset="0.385" stop-color="#ffefef"/><stop offset="0.455" stop-color="#fff1f1"/><stop offset="0.525" stop-color="#fff8f8"/><stop offset="0.612" stop-color="#fffcfc"/><stop offset="0.700" stop-color="#fff"/><stop offset="0.787" stop-color="#fff"/><stop offset="0.875" stop-color="#fff"/><stop offset="0.945" stop-color="#fff"/><stop offset="1.000" stop-color="#fff"/></linearGradient>
<linearGradient id="a51" gradientUnits="userSpaceOnUse" x1="0" y1="66.4" x2="0" y2="638.1"><stop offset="0.000" stop-color="#ff7f7f"/><stop offset="0.005" stop-color="#ff8282"/><stop offset="0.010" stop-color="#ff8585"/><stop offset="0.017" stop-color="#ff8b8b"/><stop offset="0.024" stop-color="#ff9090"/><stop offset="0.033" stop-color="#ff9898"/><stop offset="0.044" stop-color="#ffa3a3"/><stop offset="0.056" stop-color="#ffaeae"/><stop offset="0.070" stop-color="#ffb7b7"/><stop offset="0.087" stop-color="#ffc3c3"/><stop offset="0.108" stop-color="#ffd0d0"/><stop offset="0.133" stop-color="#ffd5d5"/><stop offset="0.161" stop-color="#ffdcdc"/><stop offset="0.192" stop-color="#ffe1e1"/><stop offset="0.234" stop-color="#ffe7e7"/><stop offset="0.280" stop-color="#ffe9e9"/><stop offset="0.332" stop-color="#ffebeb"/><stop offset="0.385" stop-color="#ffecec"/><stop offset="0.455" stop-color="#fee"/><stop offset="0.525" stop-color="#fff5f5"/><stop offset="0.612" stop-color="#fffbfb"/><stop offset="0.700" stop-color="#fff"/><stop offset="0.787" stop-color="#fff"/><stop offset="0.875" stop-color="#fff"/><stop offset="0.945" stop-color="#fff"/><stop offset="1.000" stop-color="#fff"/></linearGradient>
<linearGradient id="a52" gradientUnits="userSpaceOnUse" x1="0" y1="66.4" x2="0" y2="638.1"><stop offset="0.000" stop-color="#ff8181"/><stop offset="0.005" stop-color="#ff8282"/><stop offset="0.010" stop-color="#ff8585"/><stop offset="0.017" stop-color="#ff8a8a"/><stop offset="0.024" stop-color="#ff8f8f"/><stop offset="0.033" stop-color="#ff9696"/><stop offset="0.044" stop-color="#ffa1a1"/><stop offset="0.056" stop-color="#ffacac"/><stop offset="0.070" stop-color="#ffb5b5"/><stop offset="0.087" stop-color="#ffc1c1"/><stop offset="0.108" stop-color="#ffcdcd"/><stop offset="0.133" stop-color="#ffd3d3"/><stop offset="0.161" stop-color="#ffd9d9"/><stop offset="0.192" stop-color="#ffdede"/><stop offset="0.234" stop-color="#ffe4e4"/><stop offset="0.280" stop-color="#ffe7e7"/><stop offset="0.332" stop-color="#ffe9e9"/><stop offset="0.385" stop-color="#ffeaea"/><stop offset="0.455" stop-color="#ffecec"/><stop offset="0.525" stop-color="#fff3f3"/><stop offset="0.612" stop-color="#fff8f8"/><stop offset="0.700" stop-color="#fffcfc"/><stop offset="0.787" stop-color="#fffefe"/><stop offset="0.875" stop-color="#fffefe"/><stop offset="0.945" stop-color="#fff"/><stop offset="1.000" stop-color="#fff"/></linearGradient>
<linearGradient id="a53" gradientUnits="userSpaceOnUse" x1="0" y1="66.4" x2="0" y2="638.1"><stop offset="0.000" stop-color="#ff8282"/><stop offset="0.005" stop-color="#ff8383"/><stop offset="0.010" stop-color="#ff8484"/><stop offset="0.017" stop-color="#ff8989"/><stop offset="0.024" stop-color="#ff8d8d"/><stop offset="0.033" stop-color="#ff9494"/><stop offset="0.044" stop-color="#ff9e9e"/><stop offset="0.056" stop-color="#ffa9a9"/><stop offset="0.070" stop-color="#ffb3b3"/><stop offset="0.087" stop-color="#ffbfbf"/><stop offset="0.108" stop-color="#ffcbcb"/><stop offset="0.133" stop-color="#ffd1d1"/><stop offset="0.161" stop-color="#ffd7d7"/><stop offset="0.192" stop-color="#ffdcdc"/><stop offset="0.234" stop-color="#ffe2e2"/><stop offset="0.280" stop-color="#ffe4e4"/><stop offset="0.332" stop-color="#ffe6e6"/><stop offset="0.385" stop-color="#ffe8e8"/><stop offset="0.455" stop-color="#ffe9e9"/><stop offset="0.525" stop-color="#fff0f0"/><stop offset="0.612" stop-color="#fff5f5"/><stop offset="0.700" stop-color="#fff9f9"/><stop offset="0.787" stop-color="#fffbfb"/><stop offset="0.875" stop-color="#fffcfc"/><stop offset="0.945" stop-color="#fffdfd"/><stop offset="1.000" stop-color="#fffefe"/></linearGradient>
<linearGradient id="a54" gradientUnits="userSpaceOnUse" x1="0" y1="66.4" x2="0" y2="638.1"><stop offset="0.000" stop-color="#ff8383"/><stop offset="0.005" stop-color="#ff8484"/><stop offset="0.010" stop-color="#ff8484"/><stop offset="0.017" stop-color="#f88"/><stop offset="0.024" stop-color="#ff8b8b"/><stop offset="0.033" stop-color="#ff9292"/><stop offset="0.044" stop-color="#ff9c9c"/><stop offset="0.056" stop-color="#ffa7a7"/><stop offset="0.070" stop-color="#ffb1b1"/><stop offset="0.087" stop-color="#ffbdbd"/><stop offset="0.108" stop-color="#ffc9c9"/><stop offset="0.133" stop-color="#ffcfcf"/><stop offset="0.161" stop-color="#ffd5d5"/><stop offset="0.192" stop-color="#ffdada"/><stop offset="0.234" stop-color="#ffdfdf"/><stop offset="0.280" stop-color="#ffe2e2"/><stop offset="0.332" stop-color="#ffe4e4"/><stop offset="0.385" stop-color="#ffe6e6"/><stop offset="0.455" stop-color="#ffe6e6"/><stop offset="0.525" stop-color="#fee"/><stop offset="0.612" stop-color="#fff2f2"/><stop offset="0.700" stop-color="#fff5f5"/><stop offset="0.787" stop-color="#fff8f8"/><stop offset="0.875" stop-color="#fffafa"/><stop offset="0.945" stop-color="#fffbfb"/><stop offset="1.000" stop-color="#fffcfc"/></linearGradient>
<linearGradient id="a55" gradientUnits="userSpaceOnUse" x1="0" y1="66.4" x2="0" y2="638.1"><stop offset="0.000" stop-color="#ff8585"/><stop offset="0.005" stop-color="#ff8484"/><stop offset="0.010" stop-color="#ff8484"/><stop offset="0.017" stop-color="#ff8787"/><stop offset="0.024" stop-color="#ff8a8a"/><stop offset="0.033" stop-color="#ff9090"/><stop offset="0.044" stop-color="#ff9a9a"/><stop offset="0.056" stop-color="#ffa5a5"/><stop offset="0.070" stop-color="#ffafaf"/><stop offset="0.087" stop-color="#fbb"/><stop offset="0.108" stop-color="#ffc7c7"/><stop offset="0.133" stop-color="#fcc"/><stop offset="0.161" stop-color="#ffd2d2"/><stop offset="0.192" stop-color="#ffd7d7"/><stop offset="0.234" stop-color="#fdd"/><stop offset="0.280" stop-color="#ffdfdf"/><stop offset="0.332" stop-color="#ffe1e1"/><stop offset="0.385" stop-color="#ffe3e3"/><stop offset="0.455" stop-color="#ffe4e4"/><stop offset="0.525" stop-color="#ffecec"/><stop offset="0.612" stop-color="#fff0f0"/><stop offset="0.700" stop-color="#fff2f2"/><stop offset="0.787" stop-color="#fff5f5"/><stop offset="0.875" stop-color="#fff7f7"/><stop offset="0.945" stop-color="#fff9f9"/><stop offset="1.000" stop-color="#fffafa"/></linearGradient>
<linearGradient id="a56" gradientUnits="userSpaceOnUse" x1="0" y1="66.4" x2="0" y2="638.1"><stop offset="0.000" stop-color="#ff8686"/><stop offset="0.005" stop-color="#ff8585"/><stop offset="0.010" stop-color="#ff8484"/><stop offset="0.017" stop-color="#ff8686"/><stop offset="0.024" stop-color="#f88"/><stop offset="0.033" stop-color="#ff8e8e"/><stop offset="0.044" stop-color="#ff9797"/><stop offset="0.056" stop-color="#ffa2a2"/><stop offset="0.070" stop-color="#ffadad"/><stop offset="0.087" stop-color="#ffb9b9"/><stop offset="0.108" stop-color="#ffc5c5"/><stop offset="0.133" stop-color="#ffcaca"/><stop offset="0.161" stop-color="#ffd0d0"/><stop offset="0.192" stop-color="#ffd5d5"/><stop offset="0.234" stop-color="#ffdada"/><stop offset="0.280" stop-color="#ffdcdc"/><stop offset="0.332" stop-color="#ffdede"/><stop offset="0.385" stop-color="#ffe0e0"/><stop offset="0.455" stop-color="#ffe1e1"/><stop offset="0.525" stop-color="#ffe9e9"/><stop offset="0.612" stop-color="#ffeded"/><stop offset="0.700" stop-color="#fff0f0"/><stop offset="0.787" stop-color="#fff3f3"/><stop offset="0.875" stop-color="#fff4f4"/><stop offset="0.945" stop-color="#fff6f6"/><stop offset="1.000" stop-color="#fff8f8"/></linearGradient>
<linearGradient id="a57" gradientUnits="userSpaceOnUse" x1="0" y1="66.4" x2="0" y2="638.1"><stop offset="0.000" stop-color="#ff8787"/><stop offset="0.005" stop-color="#ff8585"/><stop offset="0.010" stop-color="#ff8383"/><stop offset="0.017" stop-color="#ff8585"/><stop offset="0.024" stop-color="#ff8686"/><stop offset="0.033" stop-color="#ff8c8c"/><stop offset="0.044" stop-color="#ff9595"/><stop offset="0.056" stop-color="#ffa0a0"/><stop offset="0.070" stop-color="#ffabab"/><stop offset="0.087" stop-color="#ffb7b7"/><stop offset="0.108" stop-color="#ffc3c3"/><stop offset="0.133" stop-color="#ffc8c8"/><stop offset="0.161" stop-color="#ffcece"/><stop offset="0.192" stop-color="#ffd2d2"/><stop offset="0.234" stop-color="#ffd8d8"/><stop offset="0.280" stop-color="#ffdada"/><stop offset="0.332" stop-color="#ffdcdc"/><stop offset="0.385" stop-color="#fdd"/><stop offset="0.455" stop-color="#ffdfdf"/><stop offset="0.525" stop-color="#ffe6e6"/><stop offset="0.612" stop-color="#ffeaea"/><stop offset="0.700" stop-color="#ffeded"/><stop offset="0.787" stop-color="#fff0f0"/><stop offset="0.875" stop-color="#fff1f1"/><stop offset="0.945" stop-color="#fff3f3"/><stop offset="1.000" stop-color="#fff4f4"/></linearGradient>
<linearGradient id="a58" gradientUnits="userSpaceOnUse" x1="0" y1="66.4" x2="0" y2="638.1"><stop offset="0.000" stop-color="#ff8989"/><stop offset="0.005" stop-color="#ff8686"/><stop offset="0.010" stop-color="#ff8383"/><stop offset="0.017" stop-color="#ff8484"/><stop offset="0.024" stop-color="#ff8585"/><stop offset="0.033" stop-color="#ff8a8a"/><stop offset="0.044" stop-color="#ff9393"/><stop offset="0.056" stop-color="#ff9d9d"/><stop offset="0.070" stop-color="#ffa8a8"/><stop offset="0.087" stop-color="#ffb5b5"/><stop offset="0.108" stop-color="#ffc1c1"/><stop offset="0.133" stop-color="#ffc6c6"/><stop offset="0.161" stop-color="#ffcbcb"/><stop offset="0.192" stop-color="#ffd0d0"/><stop offset="0.234" stop-color="#ffd5d5"/><stop offset="0.280" stop-color="#ffd7d7"/><stop offset="0.332" stop-color="#ffd9d9"/><stop offset="0.385" stop-color="#ffdada"/><stop offset="0.455" stop-color="#ffdcdc"/><stop offset="0.525" stop-color="#ffe4e4"/><stop offset="0.612" stop-color="#ffe8e8"/><stop offset="0.700" stop-color="#ffeaea"/><stop offset="0.787" stop-color="#ffeded"/><stop offset="0.875" stop-color="#fee"/><stop offset="0.945" stop-color="#ffefef"/><stop offset="1.000" stop-color="#fff1f1"/></linearGradient>
<linearGradient id="a59" gradientUnits="userSpaceOnUse" x1="0" y1="66.4" x2="0" y2="638.1"><stop offset="0.000" stop-color="#ff8a8a"/><stop offset="0.005" stop-color="#ff8787"/><stop offset="0.010" stop-color="#ff8383"/><stop offset="0.017" stop-color="#ff8383"/><stop offset="0.024" stop-color="#ff8383"/><stop offset="0.033" stop-color="#f88"/><stop offset="0.044" stop-color="#ff9090"/><stop offset="0.056" stop-color="#ff9b9b"/><stop offset="0.070" stop-color="#ffa6a6"/><stop offset="0.087" stop-color="#ffb3b3"/><stop offset="0.108" stop-color="#ffbfbf"/><stop offset="0.133" stop-color="#ffc3c3"/><stop offset="0.161" stop-color="#ffc9c9"/><stop offset="0.192" stop-color="#ffcece"/><stop offset="0.234" stop-color="#ffd3d3"/><stop offset="0.280" stop-color="#ffd5d5"/><stop offset="0.332" stop-color="#ffd6d6"/><stop offset="0.385" stop-color="#ffd7d7"/><stop offset="0.455" stop-color="#ffdada"/><stop offset="0.525" stop-color="#ffe1e1"/><stop offset="0.612" stop-color="#ffe5e5"/><stop offset="0.700" stop-color="#ffe8e8"/><stop offset="0.787" stop-color="#ffeaea"/><stop offset="0.875" stop-color="#ffebeb"/><stop offset="0.945" stop-color="#ffecec"/><stop offset="1.000" stop-color="#ffeded"/></linearGradient>
<linearGradient id="a60" gradientUnits="userSpaceOnUse" x1="0" y1="66.4" x2="0" y2="638.1"><stop offset="0.000" stop-color="#ff8b8b"/><stop offset="0.005" stop-color="#ff8787"/><stop offset="0.010" stop-color="#ff8383"/><stop offset="0.017" stop-color="#ff8282"/><stop offset="0.024" stop-color="#ff8181"/><stop offset="0.033" stop-color="#ff8686"/><stop offset="0.044" stop-color="#ff8e8e"/><stop offset="0.056" stop-color="#f99"/><stop offset="0.070" stop-color="#ffa4a4"/><stop offset="0.087" stop-color="#ffb1b1"/><stop offset="0.108" stop-color="#ffbcbc"/><stop offset="0.133" stop-color="#ffc1c1"/><stop offset="0.161" stop-color="#ffc7c7"/><stop offset="0.192" stop-color="#ffcbcb"/><stop offset="0.234" stop-color="#ffd0d0"/><stop offset="0.280" stop-color="#ffd2d2"/><stop offset="0.332" stop-color="#ffd3d3"/><stop offset="0.385" stop-color="#ffd5d5"/><stop offset="0.455" stop-color="#ffd7d7"/><stop offset="0.525" stop-color="#ffdfdf"/><stop offset="0.612" stop-color="#ffe3e3"/><stop offset="0.700" stop-color="#ffe5e5"/><stop offset="0.787" stop-color="#ffe7e7"/><stop offset="0.875" stop-color="#ffe8e8"/><stop offset="0.945" stop-color="#ffe9e9"/><stop offset="1.000" stop-color="#ffeaea"/></linearGradient>
<linearGradient id="a61" gradientUnits="userSpaceOnUse" x1="0" y1="66.4" x2="0" y2="638.1"><stop offset="0.000" stop-color="#ff8b8b"/><stop offset="0.005" stop-color="#ff8787"/><stop offset="0.010" stop-color="#ff8383"/><stop offset="0.017" stop-color="#ff8282"/><stop offset="0.024" stop-color="#ff8181"/><stop offset="0.033" stop-color="#ff8585"/><stop offset="0.044" stop-color="#ff8d8d"/><stop offset="0.056" stop-color="#ff9797"/><stop offset="0.070" stop-color="#ffa3a3"/><stop offset="0.087" stop-color="#ffb0b0"/><stop offset="0.108" stop-color="#fbb"/><stop offset="0.133" stop-color="#ffc0c0"/><stop offset="0.161" stop-color="#ffc5c5"/><stop offset="0.192" stop-color="#ffcaca"/><stop offset="0.234" stop-color="#ffcfcf"/><stop offset="0.280" stop-color="#ffd1d1"/><stop offset="0.332" stop-color="#ffd2d2"/><stop offset="0.385" stop-color="#ffd4d4"/><stop offset="0.455" stop-color="#ffd6d6"/><stop offset="0.525" stop-color="#fdd"/><stop offset="0.612" stop-color="#ffe0e0"/><stop offset="0.700" stop-color="#ffe2e2"/><stop offset="0.787" stop-color="#ffe4e4"/><stop offset="0.875" stop-color="#ffe5e5"/><stop offset="0.945" stop-color="#ffe6e6"/><stop offset="1.000" stop-color="#ffe6e6"/></linearGradient>
<linearGradient id="a62" gradientUnits="userSpaceOnUse" x1="0" y1="66.4" x2="0" y2="638.1"><stop offset="0.000" stop-color="#ff8b8b"/><stop offset="0.005" stop-color="#ff8787"/><stop offset="0.010" stop-color="#ff8383"/><stop offset="0.017" stop-color="#ff8282"/><stop offset="0.024" stop-color="#ff8181"/><stop offset="0.033" stop-color="#ff8484"/><stop offset="0.044" stop-color="#ff8c8c"/><stop offset="0.056" stop-color="#ff9696"/><stop offset="0.070" stop-color="#ffa1a1"/><stop offset="0.087" stop-color="#ffaeae"/><stop offset="0.108" stop-color="#ffb9b9"/><stop offset="0.133" stop-color="#ffbebe"/><stop offset="0.161" stop-color="#ffc4c4"/><stop offset="0.192" stop-color="#ffc8c8"/><stop offset="0.234" stop-color="#ffcece"/><stop offset="0.280" stop-color="#ffcfcf"/><stop offset="0.332" stop-color="#ffd1d1"/><stop offset="0.385" stop-color="#ffd2d2"/><stop offset="0.455" stop-color="#ffd5d5"/><stop offset="0.525" stop-color="#ffdbdb"/><stop offset="0.612" stop-color="#ffdede"/><stop offset="0.700" stop-color="#ffe0e0"/><stop offset="0.787" stop-color="#ffe2e2"/><stop offset="0.875" stop-color="#ffe3e3"/><stop offset="0.945" stop-color="#ffe4e4"/><stop offset="1.000" stop-color="#ffe4e4"/></linearGradient>
<linearGradient id="a63" gradientUnits="userSpaceOnUse" x1="0" y1="66.4" x2="0" y2="638.1"><stop offset="0.000" stop-color="#ff8b8b"/><stop offset="0.005" stop-color="#ff8787"/><stop offset="0.010" stop-color="#ff8282"/><stop offset="0.017" stop-color="#ff8181"/><stop offset="0.024" stop-color="#ff8080"/><stop offset="0.033" stop-color="#ff8484"/><stop offset="0.044" stop-color="#ff8b8b"/><stop offset="0.056" stop-color="#ff9595"/><stop offset="0.070" stop-color="#ffa0a0"/><stop offset="0.087" stop-color="#ffacac"/><stop offset="0.108" stop-color="#ffb7b7"/><stop offset="0.133" stop-color="#ffbcbc"/><stop offset="0.161" stop-color="#ffc2c2"/><stop offset="0.192" stop-color="#ffc7c7"/><stop offset="0.234" stop-color="#fcc"/><stop offset="0.280" stop-color="#ffcece"/><stop offset="0.332" stop-color="#ffd0d0"/><stop offset="0.385" stop-color="#ffd1d1"/><stop offset="0.455" stop-color="#ffd4d4"/><stop offset="0.525" stop-color="#ffdada"/><stop offset="0.612" stop-color="#fdd"/><stop offset="0.700" stop-color="#ffdfdf"/><stop offset="0.787" stop-color="#ffe1e1"/><stop offset="0.875" stop-color="#ffe2e2"/><stop offset="0.945" stop-color="#ffe3e3"/><stop offset="1.000" stop-color="#ffe3e3"/></linearGradient>
<linearGradient id="a64" gradientUnits="userSpaceOnUse" x1="0" y1="66.4" x2="0" y2="638.1"><stop offset="0.000" stop-color="#ff8b8b"/><stop offset="0.005" stop-color="#ff8787"/><stop offset="0.010" stop-color="#ff8282"/><stop offset="0.017" stop-color="#ff8181"/><stop offset="0.024" stop-color="#ff8080"/><stop offset="0.033" stop-color="#ff8383"/><stop offset="0.044" stop-color="#ff8a8a"/><stop offset="0.056" stop-color="#ff9494"/><stop offset="0.070" stop-color="#ff9e9e"/><stop offset="0.087" stop-color="#ffabab"/><stop offset="0.108" stop-color="#ffb6b6"/><stop offset="0.133" stop-color="#fbb"/><stop offset="0.161" stop-color="#ffc0c0"/><stop offset="0.192" stop-color="#ffc5c5"/><stop offset="0.234" stop-color="#ffcbcb"/><stop offset="0.280" stop-color="#ffcdcd"/><stop offset="0.332" stop-color="#ffcece"/><stop offset="0.385" stop-color="#ffd0d0"/><stop offset="0.455" stop-color="#ffd4d4"/><stop offset="0.525" stop-color="#ffd8d8"/><stop offset="0.612" stop-color="#ffdcdc"/><stop offset="0.700" stop-color="#ffdede"/><stop offset="0.787" stop-color="#ffe0e0"/><stop offset="0.875" stop-color="#ffe2e2"/><stop offset="0.945" stop-color="#ffe3e3"/><stop offset="1.000" stop-color="#ffe3e3"/></linearGradient>
<linearGradient id="a65" gradientUnits="userSpaceOnUse" x1="0" y1="66.4" x2="0" y2="638.1"><stop offset="0.000" stop-color="#ff8b8b"/><stop offset="0.005" stop-color="#ff8787"/><stop offset="0.010" stop-color="#ff8282"/><stop offset="0.017" stop-color="#ff8181"/><stop offset="0.024" stop-color="#ff7f7f"/><stop offset="0.033" stop-color="#ff8282"/><stop offset="0.044" stop-color="#ff8989"/><stop offset="0.056" stop-color="#ff9292"/><stop offset="0.070" stop-color="#ff9d9d"/><stop offset="0.087" stop-color="#ffa9a9"/><stop offset="0.108" stop-color="#ffb4b4"/><stop offset="0.133" stop-color="#ffb9b9"/><stop offset="0.161" stop-color="#ffbfbf"/><stop offset="0.192" stop-color="#ffc4c4"/><stop offset="0.234" stop-color="#ffc9c9"/><stop offset="0.280" stop-color="#ffcbcb"/><stop offset="0.332" stop-color="#ffcdcd"/><stop offset="0.385" stop-color="#ffcfcf"/><stop offset="0.455" stop-color="#ffd3d3"/><stop offset="0.525" stop-color="#ffd7d7"/><stop offset="0.612" stop-color="#ffdada"/><stop offset="0.700" stop-color="#fdd"/><stop offset="0.787" stop-color="#ffdfdf"/><stop offset="0.875" stop-color="#ffe1e1"/><stop offset="0.945" stop-color="#ffe2e2"/><stop offset="1.000" stop-color="#ffe2e2"/></linearGradient>
<linearGradient id="a66" gradientUnits="userSpaceOnUse" x1="0" y1="66.4" x2="0" y2="638.1"><stop offset="0.000" stop-color="#ff8b8b"/><stop offset="0.005" stop-color="#ff8787"/><stop offset="0.010" stop-color="#ff8282"/><stop offset="0.017" stop-color="#ff8080"/><stop offset="0.024" stop-color="#ff7f7f"/><stop offset="0.033" stop-color="#ff8282"/><stop offset="0.044" stop-color="#f88"/><stop offset="0.056" stop-color="#ff9191"/><stop offset="0.070" stop-color="#ff9b9b"/><stop offset="0.087" stop-color="#ffa8a8"/><stop offset="0.108" stop-color="#ffb2b2"/><stop offset="0.133" stop-color="#ffb8b8"/><stop offset="0.161" stop-color="#ffbdbd"/><stop offset="0.192" stop-color="#ffc2c2"/><stop offset="0.234" stop-color="#ffc8c8"/><stop offset="0.280" stop-color="#ffcaca"/><stop offset="0.332" stop-color="#fcc"/><stop offset="0.385" stop-color="#ffcece"/><stop offset="0.455" stop-color="#ffd2d2"/><stop offset="0.525" stop-color="#ffd6d6"/><stop offset="0.612" stop-color="#ffd9d9"/><stop offset="0.700" stop-color="#ffdcdc"/><stop offset="0.787" stop-color="#ffdede"/><stop offset="0.875" stop-color="#ffe0e0"/><stop offset="0.945" stop-color="#ffe2e2"/><stop offset="1.000" stop-color="#ffe2e2"/></linearGradient>
<linearGradient id="a67" gradientUnits="userSpaceOnUse" x1="0" y1="66.4" x2="0" y2="638.1"><stop offset="0.000" stop-color="#ff8b8b"/><stop offset="0.005" stop-color="#ff8787"/><stop offset="0.010" stop-color="#ff8282"/><stop offset="0.017" stop-color="#ff8080"/><stop offset="0.024" stop-color="#ff7e7e"/><stop offset="0.033" stop-color="#ff8181"/><stop offset="0.044" stop-color="#ff8787"/><stop offset="0.056" stop-color="#ff9090"/><stop offset="0.070" stop-color="#ff9a9a"/><stop offset="0.087" stop-color="#ffa6a6"/><stop offset="0.108" stop-color="#ffb1b1"/><stop offset="0.133" stop-color="#ffb6b6"/><stop offset="0.161" stop-color="#ffbcbc"/><stop offset="0.192" stop-color="#ffc1c1"/><stop offset="0.234" stop-color="#ffc7c7"/><stop offset="0.280" stop-color="#ffc9c9"/><stop offset="0.332" stop-color="#ffcbcb"/><stop offset="0.385" stop-color="#ffcdcd"/><stop offset="0.455" stop-color="#ffd1d1"/><stop offset="0.525" stop-color="#ffd5d5"/><stop offset="0.612" stop-color="#ffd8d8"/><stop offset="0.700" stop-color="#ffdada"/><stop offset="0.787" stop-color="#fdd"/><stop offset="0.875" stop-color="#ffe0e0"/><stop offset="0.945" stop-color="#ffe1e1"/><stop offset="1.000" stop-color="#ffe1e1"/></linearGradient>
<linearGradient id="a68" gradientUnits="userSpaceOnUse" x1="0" y1="66.4" x2="0" y2="638.1"><stop offset="0.000" stop-color="#ff8b8b"/><stop offset="0.005" stop-color="#ff8787"/><stop offset="0.010" stop-color="#ff8282"/><stop offset="0.017" stop-color="#ff8080"/><stop offset="0.024" stop-color="#ff7e7e"/><stop offset="0.033" stop-color="#ff8080"/><stop offset="0.044" stop-color="#ff8686"/><stop offset="0.056" stop-color="#ff8f8f"/><stop offset="0.070" stop-color="#ff9898"/><stop offset="0.087" stop-color="#ffa4a4"/><stop offset="0.108" stop-color="#ffafaf"/><stop offset="0.133" stop-color="#ffb4b4"/><stop offset="0.161" stop-color="#ffbaba"/><stop offset="0.192" stop-color="#ffbfbf"/><stop offset="0.234" stop-color="#ffc5c5"/><stop offset="0.280" stop-color="#ffc7c7"/><stop offset="0.332" stop-color="#ffc9c9"/><stop offset="0.385" stop-color="#fcc"/><stop offset="0.455" stop-color="#ffd0d0"/><stop offset="0.525" stop-color="#ffd4d4"/><stop offset="0.612" stop-color="#ffd7d7"/><stop offset="0.700" stop-color="#ffd9d9"/><stop offset="0.787" stop-color="#ffdcdc"/><stop offset="0.875" stop-color="#ffdfdf"/><stop offset="0.945" stop-color="#ffe1e1"/><stop offset="1.000" stop-color="#ffe1e1"/></linearGradient>
<linearGradient id="a69" gradientUnits="userSpaceOnUse" x1="0" y1="66.4" x2="0" y2="638.1"><stop offset="0.000" stop-color="#ff8b8b"/><stop offset="0.005" stop-color="#ff8787"/><stop offset="0.010" stop-color="#ff8282"/><stop offset="0.017" stop-color="#ff7f7f"/><stop offset="0.024" stop-color="#ff7d7d"/><stop offset="0.033" stop-color="#ff8080"/><stop offset="0.044" stop-color="#ff8585"/><stop offset="0.056" stop-color="#ff8d8d"/><stop offset="0.070" stop-color="#ff9797"/><stop offset="0.087" stop-color="#ffa3a3"/><stop offset="0.108" stop-color="#ffaeae"/><stop offset="0.133" stop-color="#ffb3b3"/><stop offset="0.161" stop-color="#ffb9b9"/><stop offset="0.192" stop-color="#ffbebe"/><stop offset="0.234" stop-color="#ffc4c4"/><stop offset="0.280" stop-color="#ffc6c6"/><stop offset="0.332" stop-color="#ffc8c8"/><stop offset="0.385" stop-color="#ffcbcb"/><stop offset="0.455" stop-color="#ffd0d0"/><stop offset="0.525" stop-color="#ffd3d3"/><stop offset="0.612" stop-color="#ffd5d5"/><stop offset="0.700" stop-color="#ffd8d8"/><stop offset="0.787" stop-color="#ffdbdb"/><stop offset="0.875" stop-color="#fdd"/><stop offset="0.945" stop-color="#ffdfdf"/><stop offset="1.000" stop-color="#ffdfdf"/></linearGradient>
<linearGradient id="a70" gradientUnits="userSpaceOnUse" x1="0" y1="66.4" x2="0" y2="638.1"><stop offset="0.000" stop-color="#ff8b8b"/><stop offset="0.005" stop-color="#ff8787"/><stop offset="0.010" stop-color="#ff8181"/><stop offset="0.017" stop-color="#ff7f7f"/><stop offset="0.024" stop-color="#ff7d7d"/><stop offset="0.033" stop-color="#ff7f7f"/><stop offset="0.044" stop-color="#ff8484"/><stop offset="0.056" stop-color="#ff8c8c"/><stop offset="0.070" stop-color="#ff9696"/><stop offset="0.087" stop-color="#ffa1a1"/><stop offset="0.108" stop-color="#ffacac"/><stop offset="0.133" stop-color="#ffb1b1"/><stop offset="0.161" stop-color="#ffb7b7"/><stop offset="0.192" stop-color="#ffbcbc"/><stop offset="0.234" stop-color="#ffc2c2"/><stop offset="0.280" stop-color="#ffc5c5"/><stop offset="0.332" stop-color="#ffc7c7"/><stop offset="0.385" stop-color="#ffc9c9"/><stop offset="0.455" stop-color="#ffcfcf"/><stop offset="0.525" stop-color="#ffd2d2"/><stop offset="0.612" stop-color="#ffd4d4"/><stop offset="0.700" stop-color="#ffd7d7"/><stop offset="0.787" stop-color="#ffdada"/><stop offset="0.875" stop-color="#ffdcdc"/><stop offset="0.945" stop-color="#fdd"/><stop offset="1.000" stop-color="#fdd"/></linearGradient>
<linearGradient id="a71" gradientUnits="userSpaceOnUse" x1="0" y1="66.4" x2="0" y2="638.1"><stop offset="0.000" stop-color="#ff8b8b"/><stop offset="0.005" stop-color="#ff8787"/><stop offset="0.010" stop-color="#ff8181"/><stop offset="0.017" stop-color="#ff7f7f"/><stop offset="0.024" stop-color="#ff7c7c"/><stop offset="0.033" stop-color="#ff7e7e"/><stop offset="0.044" stop-color="#ff8383"/><stop offset="0.056" stop-color="#ff8b8b"/><stop offset="0.070" stop-color="#ff9494"/><stop offset="0.087" stop-color="#ffa0a0"/><stop offset="0.108" stop-color="#faa"/><stop offset="0.133" stop-color="#ffafaf"/><stop offset="0.161" stop-color="#ffb6b6"/><stop offset="0.192" stop-color="#fbb"/><stop offset="0.234" stop-color="#ffc1c1"/><stop offset="0.280" stop-color="#ffc3c3"/><stop offset="0.332" stop-color="#ffc6c6"/><stop offset="0.385" stop-color="#ffc8c8"/><stop offset="0.455" stop-color="#ffcece"/><stop offset="0.525" stop-color="#ffd1d1"/><stop offset="0.612" stop-color="#ffd3d3"/><stop offset="0.700" stop-color="#ffd5d5"/><stop offset="0.787" stop-color="#ffd8d8"/><stop offset="0.875" stop-color="#ffdada"/><stop offset="0.945" stop-color="#ffdbdb"/><stop offset="1.000" stop-color="#ffdbdb"/></linearGradient>
<linearGradient id="a72" gradientUnits="userSpaceOnUse" x1="0" y1="66.4" x2="0" y2="638.1"><stop offset="0.000" stop-color="#ff8b8b"/><stop offset="0.005" stop-color="#ff8787"/><stop offset="0.010" stop-color="#ff8181"/><stop offset="0.017" stop-color="#ff7f7f"/><stop offset="0.024" stop-color="#ff7c7c"/><stop offset="0.033" stop-color="#ff7e7e"/><stop offset="0.044" stop-color="#ff8282"/><stop offset="0.056" stop-color="#ff8a8a"/><stop offset="0.070" stop-color="#ff9393"/><stop offset="0.087" stop-color="#ff9e9e"/><stop offset="0.108" stop-color="#ffa9a9"/><stop offset="0.133" stop-color="#ffaeae"/><stop offset="0.161" stop-color="#ffb4b4"/><stop offset="0.192" stop-color="#ffb9b9"/><stop offset="0.234" stop-color="#ffbfbf"/><stop offset="0.280" stop-color="#ffc2c2"/><stop offset="0.332" stop-color="#ffc4c4"/><stop offset="0.385" stop-color="#ffc7c7"/><stop offset="0.455" stop-color="#ffcdcd"/><stop offset="0.525" stop-color="#ffd0d0"/><stop offset="0.612" stop-color="#ffd2d2"/><stop offset="0.700" stop-color="#ffd4d4"/><stop offset="0.787" stop-color="#ffd7d7"/><stop offset="0.875" stop-color="#ffd8d8"/><stop offset="0.945" stop-color="#ffd9d9"/><stop offset="1.000" stop-color="#ffd9d9"/></linearGradient>
<linearGradient id="a73" gradientUnits="userSpaceOnUse" x1="0" y1="66.4" x2="0" y2="638.1"><stop offset="0.000" stop-color="#ff8b8b"/><stop offset="0.005" stop-color="#ff8787"/><stop offset="0.010" stop-color="#ff8181"/><stop offset="0.017" stop-color="#ff7e7e"/><stop offset="0.024" stop-color="#ff7c7c"/><stop offset="0.033" stop-color="#ff7d7d"/><stop offset="0.044" stop-color="#ff8181"/><stop offset="0.056" stop-color="#f88"/><stop offset="0.070" stop-color="#ff9191"/><stop offset="0.087" stop-color="#ff9d9d"/><stop offset="0.108" stop-color="#ffa7a7"/><stop offset="0.133" stop-color="#ffacac"/><stop offset="0.161" stop-color="#ffb2b2"/><stop offset="0.192" stop-color="#ffb8b8"/><stop offset="0.234" stop-color="#ffbebe"/><stop offset="0.280" stop-color="#ffc1c1"/><stop offset="0.332" stop-color="#ffc3c3"/><stop offset="0.385" stop-color="#ffc6c6"/><stop offset="0.455" stop-color="#fcc"/><stop offset="0.525" stop-color="#ffcfcf"/><stop offset="0.612" stop-color="#ffd0d0"/><stop offset="0.700" stop-color="#ffd2d2"/><stop offset="0.787" stop-color="#ffd5d5"/><stop offset="0.875" stop-color="#ffd6d6"/><stop offset="0.945" stop-color="#ffd7d7"/><stop offset="1.000" stop-color="#ffd7d7"/></linearGradient>
<linearGradient id="a74" gradientUnits="userSpaceOnUse" x1="0" y1="66.4" x2="0" y2="638.1"><stop offset="0.000" stop-color="#ff8b8b"/><stop offset="0.005" stop-color="#ff8787"/><stop offset="0.010" stop-color="#ff8181"/><stop offset="0.017" stop-color="#ff7e7e"/><stop offset="0.024" stop-color="#ff7b7b"/><stop offset="0.033" stop-color="#ff7d7d"/><stop offset="0.044" stop-color="#ff8181"/><stop offset="0.056" stop-color="#f88"/><stop offset="0.070" stop-color="#ff9191"/><stop offset="0.087" stop-color="#ff9c9c"/><stop offset="0.108" stop-color="#ffa6a6"/><stop offset="0.133" stop-color="#ffacac"/><stop offset="0.161" stop-color="#ffb2b2"/><stop offset="0.192" stop-color="#ffb7b7"/><stop offset="0.234" stop-color="#ffbdbd"/><stop offset="0.280" stop-color="#ffc0c0"/><stop offset="0.332" stop-color="#ffc3c3"/><stop offset="0.385" stop-color="#ffc6c6"/><stop offset="0.455" stop-color="#fcc"/><stop offset="0.525" stop-color="#ffcece"/><stop offset="0.612" stop-color="#ffcfcf"/><stop offset="0.700" stop-color="#ffd1d1"/><stop offset="0.787" stop-color="#ffd3d3"/><stop offset="0.875" stop-color="#ffd4d4"/><stop offset="0.945" stop-color="#ffd5d5"/><stop offset="1.000" stop-color="#ffd5d5"/></linearGradient>
<linearGradient id="a75" gradientUnits="userSpaceOnUse" x1="0" y1="66.4" x2="0" y2="638.1"><stop offset="0.000" stop-color="#ff8b8b"/><stop offset="0.005" stop-color="#ff8787"/><stop offset="0.010" stop-color="#ff8181"/><stop offset="0.017" stop-color="#ff7e7e"/><stop offset="0.024" stop-color="#ff7b7b"/><stop offset="0.033" stop-color="#ff7d7d"/><stop offset="0.044" stop-color="#ff8181"/><stop offset="0.056" stop-color="#f88"/><stop offset="0.070" stop-color="#ff9191"/><stop offset="0.087" stop-color="#ff9c9c"/><stop offset="0.108" stop-color="#ffa6a6"/><stop offset="0.133" stop-color="#ffabab"/><stop offset="0.161" stop-color="#ffb1b1"/><stop offset="0.192" stop-color="#ffb6b6"/><stop offset="0.234" stop-color="#ffbcbc"/><stop offset="0.280" stop-color="#ffbfbf"/><stop offset="0.332" stop-color="#ffc2c2"/><stop offset="0.385" stop-color="#ffc5c5"/><stop offset="0.455" stop-color="#fcc"/><stop offset="0.525" stop-color="#ffcdcd"/><stop offset="0.612" stop-color="#ffcece"/><stop offset="0.700" stop-color="#ffcfcf"/><stop offset="0.787" stop-color="#ffd2d2"/><stop offset="0.875" stop-color="#ffd2d2"/><stop offset="0.945" stop-color="#ffd3d3"/><stop offset="1.000" stop-color="#ffd3d3"/></linearGradient>
<linearGradient id="a76" gradientUnits="userSpaceOnUse" x1="0" y1="66.4" x2="0" y2="638.1"><stop offset="0.000" stop-color="#ff8b8b"/><stop offset="0.005" stop-color="#ff8787"/><stop offset="0.010" stop-color="#ff8181"/><stop offset="0.017" stop-color="#ff7e7e"/><stop offset="0.024" stop-color="#ff7b7b"/><stop offset="0.033" stop-color="#ff7d7d"/><stop offset="0.044" stop-color="#ff8181"/><stop offset="0.056" stop-color="#f88"/><stop offset="0.070" stop-color="#ff9090"/><stop offset="0.087" stop-color="#ff9b9b"/><stop offset="0.108" stop-color="#ffa5a5"/><stop offset="0.133" stop-color="#ffabab"/><stop offset="0.161" stop-color="#ffb1b1"/><stop offset="0.192" stop-color="#ffb6b6"/><stop offset="0.234" stop-color="#ffbcbc"/><stop offset="0.280" stop-color="#ffbfbf"/><stop offset="0.332" stop-color="#ffc1c1"/><stop offset="0.385" stop-color="#ffc5c5"/><stop offset="0.455" stop-color="#fcc"/><stop offset="0.525" stop-color="#fcc"/><stop offset="0.612" stop-color="#ffcdcd"/><stop offset="0.700" stop-color="#ffcdcd"/><stop offset="0.787" stop-color="#ffd0d0"/><stop offset="0.875" stop-color="#ffd1d1"/><stop offset="0.945" stop-color="#ffd2d2"/><stop offset="1.000" stop-color="#ffd2d2"/></linearGradient>
<linearGradient id="a77" gradientUnits="userSpaceOnUse" x1="0" y1="66.4" x2="0" y2="638.1"><stop offset="0.000" stop-color="#ff8b8b"/><stop offset="0.005" stop-color="#ff8787"/><stop offset="0.010" stop-color="#ff8181"/><stop offset="0.017" stop-color="#ff7e7e"/><stop offset="0.024" stop-color="#ff7b7b"/><stop offset="0.033" stop-color="#ff7d7d"/><stop offset="0.044" stop-color="#ff8080"/><stop offset="0.056" stop-color="#f88"/><stop offset="0.070" stop-color="#ff9090"/><stop offset="0.087" stop-color="#ff9b9b"/><stop offset="0.108" stop-color="#ffa5a5"/><stop offset="0.133" stop-color="#faa"/><stop offset="0.161" stop-color="#ffb0b0"/><stop offset="0.192" stop-color="#ffb5b5"/><stop offset="0.234" stop-color="#fbb"/><stop offset="0.280" stop-color="#ffbebe"/><stop offset="0.332" stop-color="#ffc1c1"/><stop offset="0.385" stop-color="#ffc4c4"/><stop offset="0.455" stop-color="#ffcbcb"/><stop offset="0.525" stop-color="#fcc"/><stop offset="0.612" stop-color="#fcc"/><stop offset="0.700" stop-color="#ffcdcd"/><stop offset="0.787" stop-color="#ffd0d0"/><stop offset="0.875" stop-color="#ffd0d0"/><stop offset="0.945" stop-color="#ffd0d0"/><stop offset="1.000" stop-color="#ffd0d0"/></linearGradient>
<linearGradient id="a78" gradientUnits="userSpaceOnUse" x1="0" y1="66.4" x2="0" y2="638.1"><stop offset="0.000" stop-color="#ff8b8b"/><stop offset="0.005" stop-color="#ff8787"/><stop offset="0.010" stop-color="#ff8181"/><stop offset="0.017" stop-color="#ff7e7e"/><stop offset="0.024" stop-color="#ff7b7b"/><stop offset="0.033" stop-color="#ff7d7d"/><stop offset="0.044" stop-color="#ff8080"/><stop offset="0.056" stop-color="#ff8787"/><stop offset="0.070" stop-color="#ff9090"/><stop offset="0.087" stop-color="#ff9b9b"/><stop offset="0.108" stop-color="#ffa4a4"/><stop offset="0.133" stop-color="#faa"/><stop offset="0.161" stop-color="#ffb0b0"/><stop offset="0.192" stop-color="#ffb5b5"/><stop offset="0.234" stop-color="#ffbaba"/><stop offset="0.280" stop-color="#ffbdbd"/><stop offset="0.332" stop-color="#ffc0c0"/><stop offset="0.385" stop-color="#ffc4c4"/><stop offset="0.455" stop-color="#ffcbcb"/><stop offset="0.525" stop-color="#fcc"/><stop offset="0.612" stop-color="#fcc"/><stop offset="0.700" stop-color="#ffcdcd"/><stop offset="0.787" stop-color="#ffcfcf"/><stop offset="0.875" stop-color="#ffcfcf"/><stop offset="0.945" stop-color="#ffcfcf"/><stop offset="1.000" stop-color="#ffcfcf"/></linearGradient>
<linearGradient id="a79" gradientUnits="userSpaceOnUse" x1="0" y1="66.4" x2="0" y2="638.1"><stop offset="0.000" stop-color="#ff8b8b"/><stop offset="0.005" stop-color="#ff8787"/><stop offset="0.010" stop-color="#ff8181"/><stop offset="0.017" stop-color="#ff7e7e"/><stop offset="0.024" stop-color="#ff7b7b"/><stop offset="0.033" stop-color="#ff7d7d"/><stop offset="0.044" stop-color="#ff8080"/><stop offset="0.056" stop-color="#ff8787"/><stop offset="0.070" stop-color="#ff9090"/><stop offset="0.087" stop-color="#ff9a9a"/><stop offset="0.108" stop-color="#ffa4a4"/><stop offset="0.133" stop-color="#ffa9a9"/><stop offset="0.161" stop-color="#ffafaf"/><stop offset="0.192" stop-color="#ffb4b4"/><stop offset="0.234" stop-color="#ffbaba"/><stop offset="0.280" stop-color="#ffbdbd"/><stop offset="0.332" stop-color="#ffc0c0"/><stop offset="0.385" stop-color="#ffc3c3"/><stop offset="0.455" stop-color="#ffcbcb"/><stop offset="0.525" stop-color="#fcc"/><stop offset="0.612" stop-color="#fcc"/><stop offset="0.700" stop-color="#ffcdcd"/><stop offset="0.787" stop-color="#ffcfcf"/><stop offset="0.875" stop-color="#ffcece"/><stop offset="0.945" stop-color="#ffcece"/><stop offset="1.000" stop-color="#ffcece"/></linearGradient>
<linearGradient id="a80" gradientUnits="userSpaceOnUse" x1="0" y1="66.4" x2="0" y2="638.1"><stop offset="0.000" stop-color="#ff8b8b"/><stop offset="0.005" stop-color="#ff8787"/><stop offset="0.010" stop-color="#ff8181"/><stop offset="0.017" stop-color="#ff7e7e"/><stop offset="0.024" stop-color="#ff7b7b"/><stop offset="0.033" stop-color="#ff7d7d"/><stop offset="0.044" stop-color="#ff8080"/><stop offset="0.056" stop-color="#ff8787"/><stop offset="0.070" stop-color="#ff8f8f"/><stop offset="0.087" stop-color="#ff9a9a"/><stop offset="0.108" stop-color="#ffa4a4"/><stop offset="0.133" stop-color="#ffa9a9"/><stop offset="0.161" stop-color="#ffafaf"/><stop offset="0.192" stop-color="#ffb4b4"/><stop offset="0.234" stop-color="#ffb9b9"/><stop offset="0.280" stop-color="#ffbcbc"/><stop offset="0.332" stop-color="#ffbfbf"/><stop offset="0.385" stop-color="#ffc3c3"/><stop offset="0.455" stop-color="#ffcbcb"/><stop offset="0.525" stop-color="#fcc"/><stop offset="0.612" stop-color="#fcc"/><stop offset="0.700" stop-color="#ffcdcd"/><stop offset="0.787" stop-color="#ffcece"/><stop offset="0.875" stop-color="#ffcece"/><stop offset="0.945" stop-color="#ffcdcd"/><stop offset="1.000" stop-color="#ffcdcd"/></linearGradient>
<linearGradient id="a81" gradientUnits="userSpaceOnUse" x1="0" y1="66.4" x2="0" y2="638.1"><stop offset="0.000" stop-color="#ff8b8b"/><stop offset="0.005" stop-color="#ff8787"/><stop offset="0.010" stop-color="#ff8181"/><stop offset="0.017" stop-color="#ff7e7e"/><stop offset="0.024" stop-color="#ff7b7b"/><stop offset="0.033" stop-color="#ff7c7c"/><stop offset="0.044" stop-color="#ff8080"/><stop offset="0.056" stop-color="#ff8787"/><stop offset="0.070" stop-color="#ff8f8f"/><stop offset="0.087" stop-color="#ff9a9a"/><stop offset="0.108" stop-color="#ffa3a3"/><stop offset="0.133" stop-color="#ffa8a8"/><stop offset="0.161" stop-color="#ffaeae"/><stop offset="0.192" stop-color="#ffb3b3"/><stop offset="0.234" stop-color="#ffb8b8"/><stop offset="0.280" stop-color="#fbb"/><stop offset="0.332" stop-color="#ffbebe"/><stop offset="0.385" stop-color="#ffc2c2"/><stop offset="0.455" stop-color="#ffcbcb"/><stop offset="0.525" stop-color="#fcc"/><stop offset="0.612" stop-color="#fcc"/><stop offset="0.700" stop-color="#fcc"/><stop offset="0.787" stop-color="#ffcece"/><stop offset="0.875" stop-color="#ffcdcd"/><stop offset="0.945" stop-color="#fcc"/><stop offset="1.000" stop-color="#fcc"/></linearGradient>
<linearGradient id="a82" gradientUnits="userSpaceOnUse" x1="0" y1="66.4" x2="0" y2="638.1"><stop offset="0.000" stop-color="#ff8b8b"/><stop offset="0.005" stop-color="#ff8787"/><stop offset="0.010" stop-color="#ff8181"/><stop offset="0.017" stop-color="#ff7e7e"/><stop offset="0.024" stop-color="#ff7b7b"/><stop offset="0.033" stop-color="#ff7c7c"/><stop offset="0.044" stop-color="#ff8080"/><stop offset="0.056" stop-color="#ff8787"/><stop offset="0.070" stop-color="#ff8f8f"/><stop offset="0.087" stop-color="#f99"/><stop offset="0.108" stop-color="#ffa3a3"/><stop offset="0.133" stop-color="#ffa8a8"/><stop offset="0.161" stop-color="#ffaeae"/><stop offset="0.192" stop-color="#ffb2b2"/><stop offset="0.234" stop-color="#ffb8b8"/><stop offset="0.280" stop-color="#fbb"/><stop offset="0.332" stop-color="#ffbebe"/><stop offset="0.385" stop-color="#ffc2c2"/><stop offset="0.455" stop-color="#ffcbcb"/><stop offset="0.525" stop-color="#fcc"/><stop offset="0.612" stop-color="#fcc"/><stop offset="0.700" stop-color="#fcc"/><stop offset="0.787" stop-color="#ffcece"/><stop offset="0.875" stop-color="#ffcdcd"/><stop offset="0.945" stop-color="#fcc"/><stop offset="1.000" stop-color="#fcc"/></linearGradient>
<linearGradient id="a83" gradientUnits="userSpaceOnUse" x1="0" y1="66.4" x2="0" y2="638.1"><stop offset="0.000" stop-color="#ff8b8b"/><stop offset="0.005" stop-color="#ff8787"/><stop offset="0.010" stop-color="#ff8181"/><stop offset="0.017" stop-color="#ff7e7e"/><stop offset="0.024" stop-color="#ff7b7b"/><stop offset="0.033" stop-color="#ff7c7c"/><stop offset="0.044" stop-color="#ff8080"/><stop offset="0.056" stop-color="#ff8787"/><stop offset="0.070" stop-color="#ff8f8f"/><stop offset="0.087" stop-color="#f99"/><stop offset="0.108" stop-color="#ffa2a2"/><stop offset="0.133" stop-color="#ffa7a7"/><stop offset="0.161" stop-color="#ffadad"/><stop offset="0.192" stop-color="#ffb2b2"/><stop offset="0.234" stop-color="#ffb7b7"/><stop offset="0.280" stop-color="#ffbaba"/><stop offset="0.332" stop-color="#ffbdbd"/><stop offset="0.385" stop-color="#ffc1c1"/><stop offset="0.455" stop-color="#ffcaca"/><stop offset="0.525" stop-color="#fcc"/><stop offset="0.612" stop-color="#fcc"/><stop offset="0.700" stop-color="#fcc"/><stop offset="0.787" stop-color="#ffcece"/><stop offset="0.875" stop-color="#ffcdcd"/><stop offset="0.945" stop-color="#fcc"/><stop offset="1.000" stop-color="#fcc"/></linearGradient>
<linearGradient id="a84" gradientUnits="userSpaceOnUse" x1="0" y1="66.4" x2="0" y2="638.1"><stop offset="0.000" stop-color="#ff8b8b"/><stop offset="0.005" stop-color="#ff8787"/><stop offset="0.010" stop-color="#ff8181"/><stop offset="0.017" stop-color="#ff7e7e"/><stop offset="0.024" stop-color="#ff7b7b"/><stop offset="0.033" stop-color="#ff7c7c"/><stop offset="0.044" stop-color="#ff8080"/><stop offset="0.056" stop-color="#ff8787"/><stop offset="0.070" stop-color="#ff8f8f"/><stop offset="0.087" stop-color="#f99"/><stop offset="0.108" stop-color="#ffa2a2"/><stop offset="0.133" stop-color="#ffa7a7"/><stop offset="0.161" stop-color="#ffadad"/><stop offset="0.192" stop-color="#ffb1b1"/><stop offset="0.234" stop-color="#ffb6b6"/><stop offset="0.280" stop-color="#ffb9b9"/><stop offset="0.332" stop-color="#ffbdbd"/><stop offset="0.385" stop-color="#ffc1c1"/><stop offset="0.455" stop-color="#ffcaca"/><stop offset="0.525" stop-color="#fcc"/><stop offset="0.612" stop-color="#fcc"/><stop offset="0.700" stop-color="#fcc"/><stop offset="0.787" stop-color="#ffcdcd"/><stop offset="0.875" stop-color="#ffcdcd"/><stop offset="0.945" stop-color="#fcc"/><stop offset="1.000" stop-color="#fcc"/></linearGradient>
<linearGradient id="a85" gradientUnits="userSpaceOnUse" x1="0" y1="66.4" x2="0" y2="638.1"><stop offset="0.000" stop-color="#ff8b8b"/><stop offset="0.005" stop-color="#ff8787"/><stop offset="0.010" stop-color="#ff8181"/><stop offset="0.017" stop-color="#ff7e7e"/><stop offset="0.024" stop-color="#ff7b7b"/><stop offset="0.033" stop-color="#ff7c7c"/><stop offset="0.044" stop-color="#ff8080"/><stop offset="0.056" stop-color="#ff8686"/><stop offset="0.070" stop-color="#ff8e8e"/><stop offset="0.087" stop-color="#ff9898"/><stop offset="0.108" stop-color="#ffa1a1"/><stop offset="0.133" stop-color="#ffa6a6"/><stop offset="0.161" stop-color="#ffacac"/><stop offset="0.192" stop-color="#ffb1b1"/><stop offset="0.234" stop-color="#ffb6b6"/><stop offset="0.280" stop-color="#ffb9b9"/><stop offset="0.332" stop-color="#ffbcbc"/><stop offset="0.385" stop-color="#ffc0c0"/><stop offset="0.455" stop-color="#ffcaca"/><stop offset="0.525" stop-color="#fcc"/><stop offset="0.612" stop-color="#fcc"/><stop offset="0.700" stop-color="#fcc"/><stop offset="0.787" stop-color="#ffcdcd"/><stop offset="0.875" stop-color="#fcc"/><stop offset="0.945" stop-color="#fcc"/><stop offset="1.000" stop-color="#fcc"/></linearGradient>
<linearGradient id="a86" gradientUnits="userSpaceOnUse" x1="0" y1="66.4" x2="0" y2="638.1"><stop offset="0.000" stop-color="#ff8b8b"/><stop offset="0.005" stop-color="#ff8787"/><stop offset="0.010" stop-color="#ff8181"/><stop offset="0.017" stop-color="#ff7e7e"/><stop offset="0.024" stop-color="#ff7b7b"/><stop offset="0.033" stop-color="#ff7c7c"/><stop offset="0.044" stop-color="#ff8080"/><stop offset="0.056" stop-color="#ff8686"/><stop offset="0.070" stop-color="#ff8e8e"/><stop offset="0.087" stop-color="#ff9898"/><stop offset="0.108" stop-color="#ffa1a1"/><stop offset="0.133" stop-color="#ffa6a6"/><stop offset="0.161" stop-color="#ffacac"/><stop offset="0.192" stop-color="#ffb0b0"/><stop offset="0.234" stop-color="#ffb5b5"/><stop offset="0.280" stop-color="#ffb8b8"/><stop offset="0.332" stop-color="#ffbcbc"/><stop offset="0.385" stop-color="#ffc0c0"/><stop offset="0.455" stop-color="#ffcaca"/><stop offset="0.525" stop-color="#ffcbcb"/><stop offset="0.612" stop-color="#fcc"/><stop offset="0.700" stop-color="#fcc"/><stop offset="0.787" stop-color="#ffcdcd"/><stop offset="0.875" stop-color="#fcc"/><stop offset="0.945" stop-color="#fcc"/><stop offset="1.000" stop-color="#fcc"/></linearGradient>
<linearGradient id="a87" gradientUnits="userSpaceOnUse" x1="0" y1="66.4" x2="0" y2="638.1"><stop offset="0.000" stop-color="#ff8b8b"/><stop offset="0.005" stop-color="#ff8787"/><stop offset="0.010" stop-color="#ff8181"/><stop offset="0.017" stop-color="#ff7e7e"/><stop offset="0.024" stop-color="#ff7b7b"/><stop offset="0.033" stop-color="#ff7c7c"/><stop offset="0.044" stop-color="#ff8080"/><stop offset="0.056" stop-color="#ff8686"/><stop offset="0.070" stop-color="#ff8e8e"/><stop offset="0.087" stop-color="#ff9898"/><stop offset="0.108" stop-color="#ffa0a0"/><stop offset="0.133" stop-color="#ffa5a5"/><stop offset="0.161" stop-color="#ffabab"/><stop offset="0.192" stop-color="#ffafaf"/><stop offset="0.234" stop-color="#ffb4b4"/><stop offset="0.280" stop-color="#ffb7b7"/><stop offset="0.332" stop-color="#fbb"/><stop offset="0.385" stop-color="#ffbfbf"/><stop offset="0.455" stop-color="#ffcaca"/><stop offset="0.525" stop-color="#ffcbcb"/><stop offset="0.612" stop-color="#fcc"/><stop offset="0.700" stop-color="#fcc"/><stop offset="0.787" stop-color="#ffcdcd"/><stop offset="0.875" stop-color="#fcc"/><stop offset="0.945" stop-color="#fcc"/><stop offset="1.000" stop-color="#fcc"/></linearGradient>
<linearGradient id="a88" gradientUnits="userSpaceOnUse" x1="0" y1="66.4" x2="0" y2="638.1"><stop offset="0.000" stop-color="#ff8b8b"/><stop offset="0.005" stop-color="#ff8787"/><stop offset="0.010" stop-color="#ff8181"/><stop offset="0.017" stop-color="#ff7e7e"/><stop offset="0.024" stop-color="#ff7b7b"/><stop offset="0.033" stop-color="#ff7c7c"/><stop offset="0.044" stop-color="#ff8080"/><stop offset="0.056" stop-color="#ff8686"/><stop offset="0.070" stop-color="#ff8e8e"/><stop offset="0.087" stop-color="#ff9797"/><stop offset="0.108" stop-color="#ffa0a0"/><stop offset="0.133" stop-color="#ffa5a5"/><stop offset="0.161" stop-color="#ffabab"/><stop offset="0.192" stop-color="#ffafaf"/><stop offset="0.234" stop-color="#ffb3b3"/><stop offset="0.280" stop-color="#ffb7b7"/><stop offset="0.332" stop-color="#ffbaba"/><stop offset="0.385" stop-color="#ffbfbf"/><stop offset="0.455" stop-color="#ffcaca"/><stop offset="0.525" stop-color="#ffcbcb"/><stop offset="0.612" stop-color="#fcc"/><stop offset="0.700" stop-color="#fcc"/><stop offset="0.787" stop-color="#ffcdcd"/><stop offset="0.875" stop-color="#fcc"/><stop offset="0.945" stop-color="#fcc"/><stop offset="1.000" stop-color="#fcc"/></linearGradient>
<linearGradient id="a89" gradientUnits="userSpaceOnUse" x1="0" y1="66.4" x2="0" y2="638.1"><stop offset="0.000" stop-color="#ff8b8b"/><stop offset="0.005" stop-color="#ff8787"/><stop offset="0.010" stop-color="#ff8181"/><stop offset="0.017" stop-color="#ff7e7e"/><stop offset="0.024" stop-color="#ff7b7b"/><stop offset="0.033" stop-color="#ff7c7c"/><stop offset="0.044" stop-color="#ff7f7f"/><stop offset="0.056" stop-color="#ff8686"/><stop offset="0.070" stop-color="#ff8e8e"/><stop offset="0.087" stop-color="#ff9797"/><stop offset="0.108" stop-color="#ffa0a0"/><stop offset="0.133" stop-color="#ffa4a4"/><stop offset="0.161" stop-color="#faa"/><stop offset="0.192" stop-color="#ffaeae"/><stop offset="0.234" stop-color="#ffb3b3"/><stop offset="0.280" stop-color="#ffb6b6"/><stop offset="0.332" stop-color="#ffbaba"/><stop offset="0.385" stop-color="#ffbebe"/><stop offset="0.455" stop-color="#ffc9c9"/><stop offset="0.525" stop-color="#ffcbcb"/><stop offset="0.612" stop-color="#fcc"/><stop offset="0.700" stop-color="#fcc"/><stop offset="0.787" stop-color="#ffcdcd"/><stop offset="0.875" stop-color="#fcc"/><stop offset="0.945" stop-color="#fcc"/><stop offset="1.000" stop-color="#fcc"/></linearGradient>
<linearGradient id="a90" gradientUnits="userSpaceOnUse" x1="0" y1="66.4" x2="0" y2="638.1"><stop offset="0.000" stop-color="#ff8b8b"/><stop offset="0.005" stop-color="#ff8787"/><stop offset="0.010" stop-color="#ff8181"/><stop offset="0.017" stop-color="#ff7e7e"/><stop offset="0.024" stop-color="#ff7b7b"/><stop offset="0.033" stop-color="#ff7c7c"/><stop offset="0.044" stop-color="#ff7f7f"/><stop offset="0.056" stop-color="#ff8686"/><stop offset="0.070" stop-color="#ff8d8d"/><stop offset="0.087" stop-color="#ff9797"/><stop offset="0.108" stop-color="#ff9f9f"/><stop offset="0.133" stop-color="#ffa4a4"/><stop offset="0.161" stop-color="#faa"/><stop offset="0.192" stop-color="#ffaeae"/><stop offset="0.234" stop-color="#ffb2b2"/><stop offset="0.280" stop-color="#ffb5b5"/><stop offset="0.332" stop-color="#ffb9b9"/><stop offset="0.385" stop-color="#ffbebe"/><stop offset="0.455" stop-color="#ffc9c9"/><stop offset="0.525" stop-color="#ffcbcb"/><stop offset="0.612" stop-color="#fcc"/><stop offset="0.700" stop-color="#fcc"/><stop offset="0.787" stop-color="#fcc"/><stop offset="0.875" stop-color="#fcc"/><stop offset="0.945" stop-color="#fcc"/><stop offset="1.000" stop-color="#fcc"/></linearGradient>
<linearGradient id="a91" gradientUnits="userSpaceOnUse" x1="0" y1="66.4" x2="0" y2="638.1"><stop offset="0.000" stop-color="#ff8b8b"/><stop offset="0.005" stop-color="#ff8787"/><stop offset="0.010" stop-color="#ff8181"/><stop offset="0.017" stop-color="#ff7e7e"/><stop offset="0.024" stop-color="#ff7b7b"/><stop offset="0.033" stop-color="#ff7c7c"/><stop offset="0.044" stop-color="#ff7f7f"/><stop offset="0.056" stop-color="#ff8686"/><stop offset="0.070" stop-color="#ff8d8d"/><stop offset="0.087" stop-color="#ff9696"/><stop offset="0.108" stop-color="#ff9f9f"/><stop offset="0.133" stop-color="#ffa3a3"/><stop offset="0.161" stop-color="#ffa9a9"/><stop offset="0.192" stop-color="#ffadad"/><stop offset="0.234" stop-color="#ffb1b1"/><stop offset="0.280" stop-color="#ffb5b5"/><stop offset="0.332" stop-color="#ffb9b9"/><stop offset="0.385" stop-color="#ffbdbd"/><stop offset="0.455" stop-color="#ffc9c9"/><stop offset="0.525" stop-color="#ffcbcb"/><stop offset="0.612" stop-color="#fcc"/><stop offset="0.700" stop-color="#fcc"/><stop offset="0.787" stop-color="#fcc"/><stop offset="0.875" stop-color="#fcc"/><stop offset="0.945" stop-color="#fcc"/><stop offset="1.000" stop-color="#fcc"/></linearGradient>
<linearGradient id="a92" gradientUnits="userSpaceOnUse" x1="0" y1="66.4" x2="0" y2="638.1"><stop offset="0.000" stop-color="#ff8b8b"/><stop offset="0.005" stop-color="#ff8787"/><stop offset="0.010" stop-color="#ff8181"/><stop offset="0.017" stop-color="#ff7e7e"/><stop offset="0.024" stop-color="#ff7b7b"/><stop offset="0.033" stop-color="#ff7c7c"/><stop offset="0.044" stop-color="#ff7f7f"/><stop offset="0.056" stop-color="#ff8686"/><stop offset="0.070" stop-color="#ff8d8d"/><stop offset="0.087" stop-color="#ff9696"/><stop offset="0.108" stop-color="#ff9e9e"/><stop offset="0.133" stop-color="#ffa3a3"/><stop offset="0.161" stop-color="#ffa8a8"/><stop offset="0.192" stop-color="#ffadad"/><stop offset="0.234" stop-color="#ffb1b1"/><stop offset="0.280" stop-color="#ffb4b4"/><stop offset="0.332" stop-color="#ffb8b8"/><stop offset="0.385" stop-color="#ffbdbd"/><stop offset="0.455" stop-color="#ffc9c9"/><stop offset="0.525" stop-color="#ffcbcb"/><stop offset="0.612" stop-color="#fcc"/><stop offset="0.700" stop-color="#fcc"/><stop offset="0.787" stop-color="#fcc"/><stop offset="0.875" stop-color="#fcc"/><stop offset="0.945" stop-color="#fcc"/><stop offset="1.000" stop-color="#fcc"/></linearGradient>
<linearGradient id="a93" gradientUnits="userSpaceOnUse" x1="0" y1="66.4" x2="0" y2="638.1"><stop offset="0.000" stop-color="#ff8b8b"/><stop offset="0.005" stop-color="#ff8787"/><stop offset="0.010" stop-color="#ff8181"/><stop offset="0.017" stop-color="#ff7e7e"/><stop offset="0.024" stop-color="#ff7b7b"/><stop offset="0.033" stop-color="#ff7c7c"/><stop offset="0.044" stop-color="#ff7f7f"/><stop offset="0.056" stop-color="#ff8585"/><stop offset="0.070" stop-color="#ff8d8d"/><stop offset="0.087" stop-color="#ff9696"/><stop offset="0.108" stop-color="#ff9e9e"/><stop offset="0.133" stop-color="#ffa3a3"/><stop offset="0.161" stop-color="#ffa8a8"/><stop offset="0.192" stop-color="#ffacac"/><stop offset="0.234" stop-color="#ffb0b0"/><stop offset="0.280" stop-color="#ffb4b4"/><stop offset="0.332" stop-color="#ffb8b8"/><stop offset="0.385" stop-color="#ffbdbd"/><stop offset="0.455" stop-color="#ffc9c9"/><stop offset="0.525" stop-color="#ffcbcb"/><stop offset="0.612" stop-color="#fcc"/><stop offset="0.700" stop-color="#fcc"/><stop offset="0.787" stop-color="#fcc"/><stop offset="0.875" stop-color="#fcc"/><stop offset="0.945" stop-color="#fcc"/><stop offset="1.000" stop-color="#fcc"/></linearGradient>
<linearGradient id="a94" gradientUnits="userSpaceOnUse" x1="0" y1="66.4" x2="0" y2="638.1"><stop offset="0.000" stop-color="#ff8b8b"/><stop offset="0.005" stop-color="#ff8787"/><stop offset="0.010" stop-color="#ff8181"/><stop offset="0.017" stop-color="#ff7e7e"/><stop offset="0.024" stop-color="#ff7b7b"/><stop offset="0.033" stop-color="#ff7c7c"/><stop offset="0.044" stop-color="#ff7f7f"/><stop offset="0.056" stop-color="#ff8585"/><stop offset="0.070" stop-color="#ff8d8d"/><stop offset="0.087" stop-color="#ff9696"/><stop offset="0.108" stop-color="#ff9e9e"/><stop offset="0.133" stop-color="#ffa3a3"/><stop offset="0.161" stop-color="#ffa8a8"/><stop offset="0.192" stop-color="#ffacac"/><stop offset="0.234" stop-color="#ffb0b0"/><stop offset="0.280" stop-color="#ffb4b4"/><stop offset="0.332" stop-color="#ffb8b8"/><stop offset="0.385" stop-color="#ffbdbd"/><stop offset="0.455" stop-color="#ffc9c9"/><stop offset="0.525" stop-color="#ffcbcb"/><stop offset="0.612" stop-color="#fcc"/><stop offset="0.700" stop-color="#fcc"/><stop offset="0.787" stop-color="#fcc"/><stop offset="0.875" stop-color="#fcc"/><stop offset="0.945" stop-color="#fcc"/><stop offset="1.000" stop-color="#fcc"/></linearGradient>
<clipPath id="clipa"><rect x="148.6" y="66.4" width="1088.8000000000002" height="571.7"/></clipPath>
<filter id="bla" x="-5%" y="-5%" width="110%" height="110%"><feGaussianBlur stdDeviation="4.0 0"/></filter><linearGradient id="b0" gradientUnits="userSpaceOnUse" x1="0" y1="755.0" x2="0" y2="1330.0"><stop offset="0.000" stop-color="#ff3d3d"/><stop offset="0.005" stop-color="#ff9e9e"/><stop offset="0.010" stop-color="#fff"/><stop offset="0.010" stop-color="#fff"/><stop offset="0.017" stop-color="#d2d2ff"/><stop offset="0.024" stop-color="#a5a5ff"/><stop offset="0.033" stop-color="#9393ff"/><stop offset="0.043" stop-color="#88f"/><stop offset="0.056" stop-color="#7c7cff"/><stop offset="0.070" stop-color="#77f"/><stop offset="0.087" stop-color="#77f"/><stop offset="0.108" stop-color="#77f"/><stop offset="0.132" stop-color="#77f"/><stop offset="0.160" stop-color="#8181ff"/><stop offset="0.191" stop-color="#9b9bff"/><stop offset="0.233" stop-color="#cbcbff"/><stop offset="0.278" stop-color="#f7f7ff"/><stop offset="0.314" stop-color="#fff"/><stop offset="0.330" stop-color="#fffbfb"/><stop offset="0.383" stop-color="#fff2f2"/><stop offset="0.452" stop-color="#fffcfc"/><stop offset="0.491" stop-color="#fff"/><stop offset="0.522" stop-color="#fcfcff"/><stop offset="0.609" stop-color="#f7f7ff"/><stop offset="0.696" stop-color="#f3f3ff"/><stop offset="0.783" stop-color="#f3f3ff"/><stop offset="0.870" stop-color="#f6f6ff"/><stop offset="0.939" stop-color="#fdfdff"/><stop offset="0.951" stop-color="#fff"/><stop offset="1.000" stop-color="#fff5f5"/></linearGradient>
<linearGradient id="b1" gradientUnits="userSpaceOnUse" x1="0" y1="755.0" x2="0" y2="1330.0"><stop offset="0.000" stop-color="#ff3d3d"/><stop offset="0.005" stop-color="#ff9e9e"/><stop offset="0.010" stop-color="#fff"/><stop offset="0.010" stop-color="#fff"/><stop offset="0.017" stop-color="#d2d2ff"/><stop offset="0.024" stop-color="#a5a5ff"/><stop offset="0.033" stop-color="#9393ff"/><stop offset="0.043" stop-color="#88f"/><stop offset="0.056" stop-color="#7c7cff"/><stop offset="0.070" stop-color="#77f"/><stop offset="0.087" stop-color="#77f"/><stop offset="0.108" stop-color="#77f"/><stop offset="0.132" stop-color="#77f"/><stop offset="0.160" stop-color="#8181ff"/><stop offset="0.191" stop-color="#9b9bff"/><stop offset="0.233" stop-color="#cbcbff"/><stop offset="0.278" stop-color="#f7f7ff"/><stop offset="0.314" stop-color="#fff"/><stop offset="0.330" stop-color="#fffbfb"/><stop offset="0.383" stop-color="#fff2f2"/><stop offset="0.452" stop-color="#fffcfc"/><stop offset="0.491" stop-color="#fff"/><stop offset="0.522" stop-color="#fcfcff"/><stop offset="0.609" stop-color="#f7f7ff"/><stop offset="0.696" stop-color="#f3f3ff"/><stop offset="0.783" stop-color="#f3f3ff"/><stop offset="0.870" stop-color="#f6f6ff"/><stop offset="0.939" stop-color="#fdfdff"/><stop offset="0.951" stop-color="#fff"/><stop offset="1.000" stop-color="#fff5f5"/></linearGradient>
<linearGradient id="b2" gradientUnits="userSpaceOnUse" x1="0" y1="755.0" x2="0" y2="1330.0"><stop offset="0.000" stop-color="#ff3d3d"/><stop offset="0.005" stop-color="#ff9a9a"/><stop offset="0.010" stop-color="#fff6f6"/><stop offset="0.012" stop-color="#fff"/><stop offset="0.017" stop-color="#dedeff"/><stop offset="0.024" stop-color="#b5b5ff"/><stop offset="0.033" stop-color="#a3a3ff"/><stop offset="0.043" stop-color="#99f"/><stop offset="0.056" stop-color="#8d8dff"/><stop offset="0.070" stop-color="#88f"/><stop offset="0.087" stop-color="#88f"/><stop offset="0.108" stop-color="#88f"/><stop offset="0.132" stop-color="#88f"/><stop offset="0.160" stop-color="#9292ff"/><stop offset="0.191" stop-color="#acacff"/><stop offset="0.233" stop-color="#d6d6ff"/><stop offset="0.278" stop-color="#fcfcff"/><stop offset="0.293" stop-color="#fff"/><stop offset="0.330" stop-color="#fff7f7"/><stop offset="0.383" stop-color="#ffefef"/><stop offset="0.452" stop-color="#fffbfb"/><stop offset="0.496" stop-color="#fff"/><stop offset="0.522" stop-color="#fcfcff"/><stop offset="0.609" stop-color="#f7f7ff"/><stop offset="0.696" stop-color="#f3f3ff"/><stop offset="0.783" stop-color="#f3f3ff"/><stop offset="0.870" stop-color="#f6f6ff"/><stop offset="0.939" stop-color="#fdfdff"/><stop offset="0.951" stop-color="#fff"/><stop offset="1.000" stop-color="#fff5f5"/></linearGradient>
<linearGradient id="b3" gradientUnits="userSpaceOnUse" x1="0" y1="755.0" x2="0" y2="1330.0"><stop offset="0.000" stop-color="#ff3838"/><stop offset="0.005" stop-color="#ff8585"/><stop offset="0.010" stop-color="#ffd2d2"/><stop offset="0.017" stop-color="#fff0f0"/><stop offset="0.021" stop-color="#fff"/><stop offset="0.024" stop-color="#f1f1ff"/><stop offset="0.033" stop-color="#e4e4ff"/><stop offset="0.043" stop-color="#ddf"/><stop offset="0.056" stop-color="#d4d4ff"/><stop offset="0.070" stop-color="#d1d1ff"/><stop offset="0.087" stop-color="#d1d1ff"/><stop offset="0.108" stop-color="#d1d1ff"/><stop offset="0.132" stop-color="#d1d1ff"/><stop offset="0.160" stop-color="#d6d6ff"/><stop offset="0.191" stop-color="#e3e3ff"/><stop offset="0.233" stop-color="#f7f7ff"/><stop offset="0.252" stop-color="#fff"/><stop offset="0.278" stop-color="#fff4f4"/><stop offset="0.330" stop-color="#ffecec"/><stop offset="0.383" stop-color="#ffe8e8"/><stop offset="0.452" stop-color="#fff8f8"/><stop offset="0.507" stop-color="#fff"/><stop offset="0.522" stop-color="#fdfdff"/><stop offset="0.609" stop-color="#f7f7ff"/><stop offset="0.696" stop-color="#f3f3ff"/><stop offset="0.783" stop-color="#f3f3ff"/><stop offset="0.870" stop-color="#f6f6ff"/><stop offset="0.939" stop-color="#fdfdff"/><stop offset="0.951" stop-color="#fff"/><stop offset="1.000" stop-color="#fff5f5"/></linearGradient>
<linearGradient id="b4" gradientUnits="userSpaceOnUse" x1="0" y1="755.0" x2="0" y2="1330.0"><stop offset="0.000" stop-color="#ff3131"/><stop offset="0.005" stop-color="#ff6d6d"/><stop offset="0.010" stop-color="#ffa9a9"/><stop offset="0.017" stop-color="#ffc4c4"/><stop offset="0.024" stop-color="#ffdbdb"/><stop offset="0.033" stop-color="#ffe9e9"/><stop offset="0.043" stop-color="#fee"/><stop offset="0.056" stop-color="#fff3f3"/><stop offset="0.070" stop-color="#fff4f4"/><stop offset="0.087" stop-color="#fff4f4"/><stop offset="0.108" stop-color="#fff3f3"/><stop offset="0.132" stop-color="#fff3f3"/><stop offset="0.160" stop-color="#fff2f2"/><stop offset="0.191" stop-color="#fff1f1"/><stop offset="0.233" stop-color="#ffe9e9"/><stop offset="0.278" stop-color="#ffe3e3"/><stop offset="0.330" stop-color="#ffe2e2"/><stop offset="0.383" stop-color="#ffe2e2"/><stop offset="0.452" stop-color="#fff1f1"/><stop offset="0.522" stop-color="#fffbfb"/><stop offset="0.558" stop-color="#fff"/><stop offset="0.609" stop-color="#f9f9ff"/><stop offset="0.696" stop-color="#f3f3ff"/><stop offset="0.783" stop-color="#f3f3ff"/><stop offset="0.870" stop-color="#f6f6ff"/><stop offset="0.939" stop-color="#fdfdff"/><stop offset="0.951" stop-color="#fff"/><stop offset="1.000" stop-color="#fff5f5"/></linearGradient>
<linearGradient id="b5" gradientUnits="userSpaceOnUse" x1="0" y1="755.0" x2="0" y2="1330.0"><stop offset="0.000" stop-color="#ff2f2f"/><stop offset="0.005" stop-color="#ff5b5b"/><stop offset="0.010" stop-color="#f88"/><stop offset="0.017" stop-color="#ffacac"/><stop offset="0.024" stop-color="#ffc3c3"/><stop offset="0.033" stop-color="#ffd9d9"/><stop offset="0.043" stop-color="#ffdfdf"/><stop offset="0.056" stop-color="#ffe1e1"/><stop offset="0.070" stop-color="#ffe1e1"/><stop offset="0.087" stop-color="#ffdfdf"/><stop offset="0.108" stop-color="#ffdede"/><stop offset="0.132" stop-color="#fdd"/><stop offset="0.160" stop-color="#ffdbdb"/><stop offset="0.191" stop-color="#ffdcdc"/><stop offset="0.233" stop-color="#ffdada"/><stop offset="0.278" stop-color="#ffd8d8"/><stop offset="0.330" stop-color="#ffd9d9"/><stop offset="0.383" stop-color="#ffdbdb"/><stop offset="0.452" stop-color="#ffe7e7"/><stop offset="0.522" stop-color="#fff3f3"/><stop offset="0.590" stop-color="#fff"/><stop offset="0.609" stop-color="#fcfcff"/><stop offset="0.696" stop-color="#f4f4ff"/><stop offset="0.783" stop-color="#f3f3ff"/><stop offset="0.870" stop-color="#f6f6ff"/><stop offset="0.939" stop-color="#fdfdff"/><stop offset="0.951" stop-color="#fff"/><stop offset="1.000" stop-color="#fff5f5"/></linearGradient>
<linearGradient id="b6" gradientUnits="userSpaceOnUse" x1="0" y1="755.0" x2="0" y2="1330.0"><stop offset="0.000" stop-color="#ff2929"/><stop offset="0.005" stop-color="#ff4848"/><stop offset="0.010" stop-color="#ff6868"/><stop offset="0.017" stop-color="#ff9292"/><stop offset="0.024" stop-color="#ffa9a9"/><stop offset="0.033" stop-color="#ffc6c6"/><stop offset="0.043" stop-color="#fcc"/><stop offset="0.056" stop-color="#ffcdcd"/><stop offset="0.070" stop-color="#ffcdcd"/><stop offset="0.087" stop-color="#fcc"/><stop offset="0.108" stop-color="#ffcaca"/><stop offset="0.132" stop-color="#ffc9c9"/><stop offset="0.160" stop-color="#ffc7c7"/><stop offset="0.191" stop-color="#ffc7c7"/><stop offset="0.233" stop-color="#ffcbcb"/><stop offset="0.278" stop-color="#ffcfcf"/><stop offset="0.330" stop-color="#ffcece"/><stop offset="0.383" stop-color="#ffcfcf"/><stop offset="0.452" stop-color="#fdd"/><stop offset="0.522" stop-color="#ffebeb"/><stop offset="0.609" stop-color="#fffefe"/><stop offset="0.618" stop-color="#fff"/><stop offset="0.696" stop-color="#f7f7ff"/><stop offset="0.783" stop-color="#f7f7ff"/><stop offset="0.870" stop-color="#f8f8ff"/><stop offset="0.939" stop-color="#fdfdff"/><stop offset="0.951" stop-color="#fff"/><stop offset="1.000" stop-color="#fff5f5"/></linearGradient>
<linearGradient id="b7" gradientUnits="userSpaceOnUse" x1="0" y1="755.0" x2="0" y2="1330.0"><stop offset="0.000" stop-color="#ff1919"/><stop offset="0.005" stop-color="#ff3232"/><stop offset="0.010" stop-color="#ff4b4b"/><stop offset="0.017" stop-color="#ff6d6d"/><stop offset="0.024" stop-color="#ff8484"/><stop offset="0.033" stop-color="#ffa1a1"/><stop offset="0.043" stop-color="#ffadad"/><stop offset="0.056" stop-color="#ffb3b3"/><stop offset="0.070" stop-color="#ffb7b7"/><stop offset="0.087" stop-color="#fbb"/><stop offset="0.108" stop-color="#ffbcbc"/><stop offset="0.132" stop-color="#ffbcbc"/><stop offset="0.160" stop-color="#ffbcbc"/><stop offset="0.191" stop-color="#ffbebe"/><stop offset="0.233" stop-color="#ffc2c2"/><stop offset="0.278" stop-color="#ffc5c5"/><stop offset="0.330" stop-color="#ffc3c3"/><stop offset="0.383" stop-color="#ffc3c3"/><stop offset="0.452" stop-color="#ffcfcf"/><stop offset="0.522" stop-color="#ffdcdc"/><stop offset="0.609" stop-color="#ffeded"/><stop offset="0.696" stop-color="#fff9f9"/><stop offset="0.778" stop-color="#fff"/><stop offset="0.783" stop-color="#fff"/><stop offset="0.870" stop-color="#fdfdff"/><stop offset="0.939" stop-color="#fff"/><stop offset="0.940" stop-color="#fff"/><stop offset="1.000" stop-color="#fff5f5"/></linearGradient>
<linearGradient id="b8" gradientUnits="userSpaceOnUse" x1="0" y1="755.0" x2="0" y2="1330.0"><stop offset="0.000" stop-color="#ff0808"/><stop offset="0.005" stop-color="#ff1c1c"/><stop offset="0.010" stop-color="#ff2f2f"/><stop offset="0.017" stop-color="#ff4848"/><stop offset="0.024" stop-color="#ff6060"/><stop offset="0.033" stop-color="#ff7d7d"/><stop offset="0.043" stop-color="#ff8d8d"/><stop offset="0.056" stop-color="#f99"/><stop offset="0.070" stop-color="#ffa1a1"/><stop offset="0.087" stop-color="#faa"/><stop offset="0.108" stop-color="#ffadad"/><stop offset="0.132" stop-color="#ffb0b0"/><stop offset="0.160" stop-color="#ffb2b2"/><stop offset="0.191" stop-color="#ffb5b5"/><stop offset="0.233" stop-color="#ffb6b6"/><stop offset="0.278" stop-color="#ffb7b7"/><stop offset="0.330" stop-color="#ffb6b6"/><stop offset="0.383" stop-color="#ffb6b6"/><stop offset="0.452" stop-color="#ffc1c1"/><stop offset="0.522" stop-color="#ffcdcd"/><stop offset="0.609" stop-color="#ffdede"/><stop offset="0.696" stop-color="#ffebeb"/><stop offset="0.783" stop-color="#fff4f4"/><stop offset="0.870" stop-color="#fffafa"/><stop offset="0.939" stop-color="#fffbfb"/><stop offset="1.000" stop-color="#fff5f5"/></linearGradient>
<linearGradient id="b9" gradientUnits="userSpaceOnUse" x1="0" y1="755.0" x2="0" y2="1330.0"><stop offset="0.000" stop-color="#fb0000"/><stop offset="0.003" stop-color="#f00"/><stop offset="0.005" stop-color="#ff0505"/><stop offset="0.010" stop-color="#ff1212"/><stop offset="0.017" stop-color="#ff2424"/><stop offset="0.024" stop-color="#ff3b3b"/><stop offset="0.033" stop-color="#ff5959"/><stop offset="0.043" stop-color="#ff6e6e"/><stop offset="0.056" stop-color="#ff7f7f"/><stop offset="0.070" stop-color="#ff8b8b"/><stop offset="0.087" stop-color="#ff9898"/><stop offset="0.108" stop-color="#ff9e9e"/><stop offset="0.132" stop-color="#ffa3a3"/><stop offset="0.160" stop-color="#ffa7a7"/><stop offset="0.191" stop-color="#ffabab"/><stop offset="0.233" stop-color="#ffa9a9"/><stop offset="0.278" stop-color="#ffa7a7"/><stop offset="0.330" stop-color="#ffa6a6"/><stop offset="0.383" stop-color="#ffa7a7"/><stop offset="0.452" stop-color="#ffafaf"/><stop offset="0.522" stop-color="#ffbcbc"/><stop offset="0.609" stop-color="#ffd0d0"/><stop offset="0.696" stop-color="#ffdede"/><stop offset="0.783" stop-color="#ffe6e6"/><stop offset="0.870" stop-color="#ffeaea"/><stop offset="0.939" stop-color="#ffeded"/><stop offset="1.000" stop-color="#ffeded"/></linearGradient>
<linearGradient id="b10" gradientUnits="userSpaceOnUse" x1="0" y1="755.0" x2="0" y2="1330.0"><stop offset="0.000" stop-color="#f60000"/><stop offset="0.005" stop-color="#fb0000"/><stop offset="0.010" stop-color="#f00"/><stop offset="0.010" stop-color="#ff0202"/><stop offset="0.017" stop-color="#ff0f0f"/><stop offset="0.024" stop-color="#ff2323"/><stop offset="0.033" stop-color="#ff3b3b"/><stop offset="0.043" stop-color="#ff4e4e"/><stop offset="0.056" stop-color="#ff5f5f"/><stop offset="0.070" stop-color="#ff6d6d"/><stop offset="0.087" stop-color="#ff7d7d"/><stop offset="0.108" stop-color="#ff8686"/><stop offset="0.132" stop-color="#ff8e8e"/><stop offset="0.160" stop-color="#ff9595"/><stop offset="0.191" stop-color="#ff9a9a"/><stop offset="0.233" stop-color="#f99"/><stop offset="0.278" stop-color="#ff9797"/><stop offset="0.330" stop-color="#ff9797"/><stop offset="0.383" stop-color="#ff9898"/><stop offset="0.452" stop-color="#ffa0a0"/><stop offset="0.522" stop-color="#ffacac"/><stop offset="0.609" stop-color="#ffbebe"/><stop offset="0.696" stop-color="#ffcbcb"/><stop offset="0.783" stop-color="#ffd3d3"/><stop offset="0.870" stop-color="#ffd9d9"/><stop offset="0.939" stop-color="#ffdcdc"/><stop offset="1.000" stop-color="#ffdcdc"/></linearGradient>
<linearGradient id="b11" gradientUnits="userSpaceOnUse" x1="0" y1="755.0" x2="0" y2="1330.0"><stop offset="0.000" stop-color="#f10000"/><stop offset="0.005" stop-color="#f50000"/><stop offset="0.010" stop-color="#f90000"/><stop offset="0.017" stop-color="#fd0000"/><stop offset="0.019" stop-color="#f00"/><stop offset="0.024" stop-color="#ff0c0c"/><stop offset="0.033" stop-color="#ff1e1e"/><stop offset="0.043" stop-color="#ff2f2f"/><stop offset="0.056" stop-color="#ff3f3f"/><stop offset="0.070" stop-color="#ff4e4e"/><stop offset="0.087" stop-color="#ff6060"/><stop offset="0.108" stop-color="#ff6c6c"/><stop offset="0.132" stop-color="#ff7878"/><stop offset="0.160" stop-color="#ff8282"/><stop offset="0.191" stop-color="#f88"/><stop offset="0.233" stop-color="#ff8787"/><stop offset="0.278" stop-color="#ff8787"/><stop offset="0.330" stop-color="#f88"/><stop offset="0.383" stop-color="#ff8a8a"/><stop offset="0.452" stop-color="#ff9191"/><stop offset="0.522" stop-color="#ff9c9c"/><stop offset="0.609" stop-color="#ffadad"/><stop offset="0.696" stop-color="#ffb9b9"/><stop offset="0.783" stop-color="#ffc2c2"/><stop offset="0.870" stop-color="#ffc8c8"/><stop offset="0.939" stop-color="#ffcbcb"/><stop offset="1.000" stop-color="#ffcbcb"/></linearGradient>
<linearGradient id="b12" gradientUnits="userSpaceOnUse" x1="0" y1="755.0" x2="0" y2="1330.0"><stop offset="0.000" stop-color="#ed0000"/><stop offset="0.005" stop-color="#ef0000"/><stop offset="0.010" stop-color="#f10000"/><stop offset="0.017" stop-color="#f40000"/><stop offset="0.024" stop-color="#f90000"/><stop offset="0.032" stop-color="#f00"/><stop offset="0.033" stop-color="#ff0202"/><stop offset="0.043" stop-color="#ff1010"/><stop offset="0.056" stop-color="#ff1f1f"/><stop offset="0.070" stop-color="#ff2f2f"/><stop offset="0.087" stop-color="#ff4343"/><stop offset="0.108" stop-color="#ff5252"/><stop offset="0.132" stop-color="#ff6262"/><stop offset="0.160" stop-color="#ff6f6f"/><stop offset="0.191" stop-color="#ff7676"/><stop offset="0.233" stop-color="#ff7575"/><stop offset="0.278" stop-color="#ff7575"/><stop offset="0.330" stop-color="#ff7979"/><stop offset="0.383" stop-color="#ff7d7d"/><stop offset="0.452" stop-color="#ff8282"/><stop offset="0.522" stop-color="#ff8c8c"/><stop offset="0.609" stop-color="#ff9c9c"/><stop offset="0.696" stop-color="#ffa8a8"/><stop offset="0.783" stop-color="#ffb1b1"/><stop offset="0.870" stop-color="#ffb8b8"/><stop offset="0.939" stop-color="#ffbcbc"/><stop offset="1.000" stop-color="#ffb9b9"/></linearGradient>
<linearGradient id="b13" gradientUnits="userSpaceOnUse" x1="0" y1="755.0" x2="0" y2="1330.0"><stop offset="0.000" stop-color="#ea0000"/><stop offset="0.005" stop-color="#eb0000"/><stop offset="0.010" stop-color="#ec0000"/><stop offset="0.017" stop-color="#ed0000"/><stop offset="0.024" stop-color="#f10000"/><stop offset="0.033" stop-color="#f50000"/><stop offset="0.043" stop-color="#fb0000"/><stop offset="0.051" stop-color="#f00"/><stop offset="0.056" stop-color="#ff0606"/><stop offset="0.070" stop-color="#ff1616"/><stop offset="0.087" stop-color="#ff2b2b"/><stop offset="0.108" stop-color="#ff3c3c"/><stop offset="0.132" stop-color="#ff4d4d"/><stop offset="0.160" stop-color="#ff5c5c"/><stop offset="0.191" stop-color="#ff6464"/><stop offset="0.233" stop-color="#ff6363"/><stop offset="0.278" stop-color="#ff6363"/><stop offset="0.330" stop-color="#ff6a6a"/><stop offset="0.383" stop-color="#ff7070"/><stop offset="0.452" stop-color="#ff7272"/><stop offset="0.522" stop-color="#ff7b7b"/><stop offset="0.609" stop-color="#ff8c8c"/><stop offset="0.696" stop-color="#ff9898"/><stop offset="0.783" stop-color="#ffa1a1"/><stop offset="0.870" stop-color="#faa"/><stop offset="0.939" stop-color="#ffacac"/><stop offset="1.000" stop-color="#ffa7a7"/></linearGradient>
<linearGradient id="b14" gradientUnits="userSpaceOnUse" x1="0" y1="755.0" x2="0" y2="1330.0"><stop offset="0.000" stop-color="#e70000"/><stop offset="0.005" stop-color="#e80000"/><stop offset="0.010" stop-color="#e80000"/><stop offset="0.017" stop-color="#e80000"/><stop offset="0.024" stop-color="#eb0000"/><stop offset="0.033" stop-color="#e00"/><stop offset="0.043" stop-color="#f20000"/><stop offset="0.056" stop-color="#f80000"/><stop offset="0.067" stop-color="#f00"/><stop offset="0.070" stop-color="#ff0303"/><stop offset="0.087" stop-color="#ff1818"/><stop offset="0.108" stop-color="#ff2929"/><stop offset="0.132" stop-color="#ff3b3b"/><stop offset="0.160" stop-color="#ff4a4a"/><stop offset="0.191" stop-color="#ff5353"/><stop offset="0.233" stop-color="#ff5151"/><stop offset="0.278" stop-color="#ff5151"/><stop offset="0.330" stop-color="#ff5b5b"/><stop offset="0.383" stop-color="#ff6363"/><stop offset="0.452" stop-color="#ff6464"/><stop offset="0.522" stop-color="#ff6d6d"/><stop offset="0.609" stop-color="#ff7c7c"/><stop offset="0.696" stop-color="#ff8989"/><stop offset="0.783" stop-color="#ff9292"/><stop offset="0.870" stop-color="#ff9b9b"/><stop offset="0.939" stop-color="#ff9d9d"/><stop offset="1.000" stop-color="#ff9696"/></linearGradient>
<linearGradient id="b15" gradientUnits="userSpaceOnUse" x1="0" y1="755.0" x2="0" y2="1330.0"><stop offset="0.000" stop-color="#e50000"/><stop offset="0.005" stop-color="#e50000"/><stop offset="0.010" stop-color="#e40000"/><stop offset="0.017" stop-color="#e30000"/><stop offset="0.024" stop-color="#e50000"/><stop offset="0.033" stop-color="#e70000"/><stop offset="0.043" stop-color="#ea0000"/><stop offset="0.056" stop-color="#ef0000"/><stop offset="0.070" stop-color="#f70000"/><stop offset="0.083" stop-color="#f00"/><stop offset="0.087" stop-color="#ff0505"/><stop offset="0.108" stop-color="#ff1717"/><stop offset="0.132" stop-color="#ff2828"/><stop offset="0.160" stop-color="#ff3737"/><stop offset="0.191" stop-color="#ff4242"/><stop offset="0.233" stop-color="#ff4343"/><stop offset="0.278" stop-color="#ff4646"/><stop offset="0.330" stop-color="#ff5050"/><stop offset="0.383" stop-color="#ff5858"/><stop offset="0.452" stop-color="#ff5858"/><stop offset="0.522" stop-color="#ff6060"/><stop offset="0.609" stop-color="#ff7171"/><stop offset="0.696" stop-color="#ff7d7d"/><stop offset="0.783" stop-color="#ff8585"/><stop offset="0.870" stop-color="#ff9090"/><stop offset="0.939" stop-color="#ff9595"/><stop offset="1.000" stop-color="#ff8f8f"/></linearGradient>
<linearGradient id="b16" gradientUnits="userSpaceOnUse" x1="0" y1="755.0" x2="0" y2="1330.0"><stop offset="0.000" stop-color="#e30000"/><stop offset="0.005" stop-color="#e20000"/><stop offset="0.010" stop-color="#e00000"/><stop offset="0.017" stop-color="#d00"/><stop offset="0.024" stop-color="#de0000"/><stop offset="0.033" stop-color="#e00000"/><stop offset="0.043" stop-color="#e20000"/><stop offset="0.056" stop-color="#e60000"/><stop offset="0.070" stop-color="#e00"/><stop offset="0.087" stop-color="#f80000"/><stop offset="0.103" stop-color="#f00"/><stop offset="0.108" stop-color="#ff0404"/><stop offset="0.132" stop-color="#ff1616"/><stop offset="0.160" stop-color="#ff2525"/><stop offset="0.191" stop-color="#ff3232"/><stop offset="0.233" stop-color="#ff3535"/><stop offset="0.278" stop-color="#ff3a3a"/><stop offset="0.330" stop-color="#ff4545"/><stop offset="0.383" stop-color="#ff4e4e"/><stop offset="0.452" stop-color="#ff4c4c"/><stop offset="0.522" stop-color="#f55"/><stop offset="0.609" stop-color="#f66"/><stop offset="0.696" stop-color="#ff7272"/><stop offset="0.783" stop-color="#ff7a7a"/><stop offset="0.870" stop-color="#ff8787"/><stop offset="0.939" stop-color="#ff8c8c"/><stop offset="1.000" stop-color="#ff8989"/></linearGradient>
<linearGradient id="b17" gradientUnits="userSpaceOnUse" x1="0" y1="755.0" x2="0" y2="1330.0"><stop offset="0.000" stop-color="#e10000"/><stop offset="0.005" stop-color="#de0000"/><stop offset="0.010" stop-color="#dc0000"/><stop offset="0.017" stop-color="#d80000"/><stop offset="0.024" stop-color="#d80000"/><stop offset="0.033" stop-color="#d90000"/><stop offset="0.043" stop-color="#d90000"/><stop offset="0.056" stop-color="#dc0000"/><stop offset="0.070" stop-color="#e40000"/><stop offset="0.087" stop-color="#ef0000"/><stop offset="0.108" stop-color="#f80000"/><stop offset="0.128" stop-color="#f00"/><stop offset="0.132" stop-color="#ff0303"/><stop offset="0.160" stop-color="#ff1313"/><stop offset="0.191" stop-color="#ff2121"/><stop offset="0.233" stop-color="#ff2727"/><stop offset="0.278" stop-color="#ff2f2f"/><stop offset="0.330" stop-color="#ff3a3a"/><stop offset="0.383" stop-color="#f44"/><stop offset="0.452" stop-color="#ff4343"/><stop offset="0.522" stop-color="#ff4c4c"/><stop offset="0.609" stop-color="#ff5c5c"/><stop offset="0.696" stop-color="#ff6868"/><stop offset="0.783" stop-color="#ff7171"/><stop offset="0.870" stop-color="#ff7d7d"/><stop offset="0.939" stop-color="#ff8484"/><stop offset="1.000" stop-color="#ff8383"/></linearGradient>
<linearGradient id="b18" gradientUnits="userSpaceOnUse" x1="0" y1="755.0" x2="0" y2="1330.0"><stop offset="0.000" stop-color="#e00000"/><stop offset="0.005" stop-color="#dc0000"/><stop offset="0.010" stop-color="#d90000"/><stop offset="0.017" stop-color="#d50000"/><stop offset="0.024" stop-color="#d40000"/><stop offset="0.033" stop-color="#d40000"/><stop offset="0.043" stop-color="#d40000"/><stop offset="0.056" stop-color="#d60000"/><stop offset="0.070" stop-color="#de0000"/><stop offset="0.087" stop-color="#e70000"/><stop offset="0.108" stop-color="#f10000"/><stop offset="0.132" stop-color="#fb0000"/><stop offset="0.146" stop-color="#f00"/><stop offset="0.160" stop-color="#ff0909"/><stop offset="0.191" stop-color="#ff1717"/><stop offset="0.233" stop-color="#ff1d1d"/><stop offset="0.278" stop-color="#ff2525"/><stop offset="0.330" stop-color="#ff3131"/><stop offset="0.383" stop-color="#ff3b3b"/><stop offset="0.452" stop-color="#ff3c3c"/><stop offset="0.522" stop-color="#f44"/><stop offset="0.609" stop-color="#ff5656"/><stop offset="0.696" stop-color="#ff6161"/><stop offset="0.783" stop-color="#ff6b6b"/><stop offset="0.870" stop-color="#ff7676"/><stop offset="0.939" stop-color="#ff7c7c"/><stop offset="1.000" stop-color="#ff7d7d"/></linearGradient>
<linearGradient id="b19" gradientUnits="userSpaceOnUse" x1="0" y1="755.0" x2="0" y2="1330.0"><stop offset="0.000" stop-color="#df0000"/><stop offset="0.005" stop-color="#db0000"/><stop offset="0.010" stop-color="#d70000"/><stop offset="0.017" stop-color="#d20000"/><stop offset="0.024" stop-color="#d10000"/><stop offset="0.033" stop-color="#d00000"/><stop offset="0.043" stop-color="#cf0000"/><stop offset="0.056" stop-color="#d10000"/><stop offset="0.070" stop-color="#d80000"/><stop offset="0.087" stop-color="#e10000"/><stop offset="0.108" stop-color="#eb0000"/><stop offset="0.132" stop-color="#f60000"/><stop offset="0.156" stop-color="#f00"/><stop offset="0.160" stop-color="#ff0303"/><stop offset="0.191" stop-color="#ff0f0f"/><stop offset="0.233" stop-color="#ff1616"/><stop offset="0.278" stop-color="#ff1d1d"/><stop offset="0.330" stop-color="#ff2929"/><stop offset="0.383" stop-color="#ff3434"/><stop offset="0.452" stop-color="#ff3636"/><stop offset="0.522" stop-color="#ff3f3f"/><stop offset="0.609" stop-color="#ff5050"/><stop offset="0.696" stop-color="#ff5c5c"/><stop offset="0.783" stop-color="#ff6565"/><stop offset="0.870" stop-color="#ff7070"/><stop offset="0.939" stop-color="#ff7676"/><stop offset="1.000" stop-color="#f77"/></linearGradient>
<linearGradient id="b20" gradientUnits="userSpaceOnUse" x1="0" y1="755.0" x2="0" y2="1330.0"><stop offset="0.000" stop-color="#de0000"/><stop offset="0.005" stop-color="#da0000"/><stop offset="0.010" stop-color="#d50000"/><stop offset="0.017" stop-color="#cf0000"/><stop offset="0.024" stop-color="#ce0000"/><stop offset="0.033" stop-color="#cd0000"/><stop offset="0.043" stop-color="#cb0000"/><stop offset="0.056" stop-color="#c00"/><stop offset="0.070" stop-color="#d20000"/><stop offset="0.087" stop-color="#da0000"/><stop offset="0.108" stop-color="#e60000"/><stop offset="0.132" stop-color="#f20000"/><stop offset="0.160" stop-color="#fd0000"/><stop offset="0.169" stop-color="#f00"/><stop offset="0.191" stop-color="#ff0808"/><stop offset="0.233" stop-color="#ff0e0e"/><stop offset="0.278" stop-color="#ff1515"/><stop offset="0.330" stop-color="#ff2121"/><stop offset="0.383" stop-color="#ff2c2c"/><stop offset="0.452" stop-color="#ff3030"/><stop offset="0.522" stop-color="#ff3a3a"/><stop offset="0.609" stop-color="#ff4a4a"/><stop offset="0.696" stop-color="#ff5656"/><stop offset="0.783" stop-color="#ff5f5f"/><stop offset="0.870" stop-color="#ff6a6a"/><stop offset="0.939" stop-color="#ff7070"/><stop offset="1.000" stop-color="#ff7070"/></linearGradient>
<linearGradient id="b21" gradientUnits="userSpaceOnUse" x1="0" y1="755.0" x2="0" y2="1330.0"><stop offset="0.000" stop-color="#d00"/><stop offset="0.005" stop-color="#d80000"/><stop offset="0.010" stop-color="#d30000"/><stop offset="0.017" stop-color="#cd0000"/><stop offset="0.024" stop-color="#cb0000"/><stop offset="0.033" stop-color="#c90000"/><stop offset="0.043" stop-color="#c70000"/><stop offset="0.056" stop-color="#c70000"/><stop offset="0.070" stop-color="#cd0000"/><stop offset="0.087" stop-color="#d40000"/><stop offset="0.108" stop-color="#e00000"/><stop offset="0.132" stop-color="#e00"/><stop offset="0.160" stop-color="#fa0000"/><stop offset="0.188" stop-color="#f00"/><stop offset="0.191" stop-color="#ff0101"/><stop offset="0.233" stop-color="#ff0707"/><stop offset="0.278" stop-color="#ff0f0f"/><stop offset="0.330" stop-color="#ff1c1c"/><stop offset="0.383" stop-color="#ff2727"/><stop offset="0.452" stop-color="#ff2b2b"/><stop offset="0.522" stop-color="#ff3535"/><stop offset="0.609" stop-color="#ff4646"/><stop offset="0.696" stop-color="#ff5151"/><stop offset="0.783" stop-color="#ff5959"/><stop offset="0.870" stop-color="#f66"/><stop offset="0.939" stop-color="#ff6c6c"/><stop offset="1.000" stop-color="#ff6c6c"/></linearGradient>
<linearGradient id="b22" gradientUnits="userSpaceOnUse" x1="0" y1="755.0" x2="0" y2="1330.0"><stop offset="0.000" stop-color="#dc0000"/><stop offset="0.005" stop-color="#d70000"/><stop offset="0.010" stop-color="#d10000"/><stop offset="0.017" stop-color="#ca0000"/><stop offset="0.024" stop-color="#c80000"/><stop offset="0.033" stop-color="#c60000"/><stop offset="0.043" stop-color="#c30000"/><stop offset="0.056" stop-color="#c20000"/><stop offset="0.070" stop-color="#c70000"/><stop offset="0.087" stop-color="#cd0000"/><stop offset="0.108" stop-color="#db0000"/><stop offset="0.132" stop-color="#ea0000"/><stop offset="0.160" stop-color="#f70000"/><stop offset="0.191" stop-color="#fc0000"/><stop offset="0.220" stop-color="#f00"/><stop offset="0.233" stop-color="#ff0303"/><stop offset="0.278" stop-color="#ff0c0c"/><stop offset="0.330" stop-color="#ff1919"/><stop offset="0.383" stop-color="#ff2424"/><stop offset="0.452" stop-color="#ff2929"/><stop offset="0.522" stop-color="#f33"/><stop offset="0.609" stop-color="#f44"/><stop offset="0.696" stop-color="#ff4d4d"/><stop offset="0.783" stop-color="#ff5454"/><stop offset="0.870" stop-color="#ff6464"/><stop offset="0.939" stop-color="#ff6c6c"/><stop offset="1.000" stop-color="#ff6a6a"/></linearGradient>
<linearGradient id="b23" gradientUnits="userSpaceOnUse" x1="0" y1="755.0" x2="0" y2="1330.0"><stop offset="0.000" stop-color="#d00"/><stop offset="0.005" stop-color="#d70000"/><stop offset="0.010" stop-color="#d20000"/><stop offset="0.017" stop-color="#ca0000"/><stop offset="0.024" stop-color="#c80000"/><stop offset="0.033" stop-color="#c50000"/><stop offset="0.043" stop-color="#c20000"/><stop offset="0.056" stop-color="#c00000"/><stop offset="0.070" stop-color="#c40000"/><stop offset="0.087" stop-color="#ca0000"/><stop offset="0.108" stop-color="#d80000"/><stop offset="0.132" stop-color="#e70000"/><stop offset="0.160" stop-color="#f50000"/><stop offset="0.191" stop-color="#fa0000"/><stop offset="0.233" stop-color="#f00"/><stop offset="0.237" stop-color="#f00"/><stop offset="0.278" stop-color="#ff0a0a"/><stop offset="0.330" stop-color="#ff1616"/><stop offset="0.383" stop-color="#ff2020"/><stop offset="0.452" stop-color="#ff2727"/><stop offset="0.522" stop-color="#ff3232"/><stop offset="0.609" stop-color="#ff4242"/><stop offset="0.696" stop-color="#ff4a4a"/><stop offset="0.783" stop-color="#ff5050"/><stop offset="0.870" stop-color="#ff6262"/><stop offset="0.939" stop-color="#ff6b6b"/><stop offset="1.000" stop-color="#ff6868"/></linearGradient>
<linearGradient id="b24" gradientUnits="userSpaceOnUse" x1="0" y1="755.0" x2="0" y2="1330.0"><stop offset="0.000" stop-color="#e10000"/><stop offset="0.005" stop-color="#db0000"/><stop offset="0.010" stop-color="#d40000"/><stop offset="0.017" stop-color="#c00"/><stop offset="0.024" stop-color="#c90000"/><stop offset="0.033" stop-color="#c70000"/><stop offset="0.043" stop-color="#c30000"/><stop offset="0.056" stop-color="#c20000"/><stop offset="0.070" stop-color="#c50000"/><stop offset="0.087" stop-color="#ca0000"/><stop offset="0.108" stop-color="#d80000"/><stop offset="0.132" stop-color="#e70000"/><stop offset="0.160" stop-color="#f40000"/><stop offset="0.191" stop-color="#f80000"/><stop offset="0.233" stop-color="#fd0000"/><stop offset="0.247" stop-color="#f00"/><stop offset="0.278" stop-color="#ff0808"/><stop offset="0.330" stop-color="#ff1313"/><stop offset="0.383" stop-color="#ff1d1d"/><stop offset="0.452" stop-color="#ff2626"/><stop offset="0.522" stop-color="#ff3131"/><stop offset="0.609" stop-color="#ff4040"/><stop offset="0.696" stop-color="#ff4646"/><stop offset="0.783" stop-color="#ff4c4c"/><stop offset="0.870" stop-color="#ff6060"/><stop offset="0.939" stop-color="#ff6a6a"/><stop offset="1.000" stop-color="#f66"/></linearGradient>
<linearGradient id="b25" gradientUnits="userSpaceOnUse" x1="0" y1="755.0" x2="0" y2="1330.0"><stop offset="0.000" stop-color="#e50000"/><stop offset="0.005" stop-color="#de0000"/><stop offset="0.010" stop-color="#d70000"/><stop offset="0.017" stop-color="#ce0000"/><stop offset="0.024" stop-color="#cb0000"/><stop offset="0.033" stop-color="#c80000"/><stop offset="0.043" stop-color="#c40000"/><stop offset="0.056" stop-color="#c30000"/><stop offset="0.070" stop-color="#c60000"/><stop offset="0.087" stop-color="#ca0000"/><stop offset="0.108" stop-color="#d80000"/><stop offset="0.132" stop-color="#e70000"/><stop offset="0.160" stop-color="#f30000"/><stop offset="0.191" stop-color="#f70000"/><stop offset="0.233" stop-color="#fc0000"/><stop offset="0.257" stop-color="#f00"/><stop offset="0.278" stop-color="#ff0505"/><stop offset="0.330" stop-color="#ff0f0f"/><stop offset="0.383" stop-color="#ff1919"/><stop offset="0.452" stop-color="#ff2525"/><stop offset="0.522" stop-color="#ff3030"/><stop offset="0.609" stop-color="#ff3e3e"/><stop offset="0.696" stop-color="#f44"/><stop offset="0.783" stop-color="#ff4a4a"/><stop offset="0.870" stop-color="#ff5f5f"/><stop offset="0.939" stop-color="#ff6969"/><stop offset="1.000" stop-color="#ff6464"/></linearGradient>
<linearGradient id="b26" gradientUnits="userSpaceOnUse" x1="0" y1="755.0" x2="0" y2="1330.0"><stop offset="0.000" stop-color="#e80000"/><stop offset="0.005" stop-color="#e10000"/><stop offset="0.010" stop-color="#da0000"/><stop offset="0.017" stop-color="#d00000"/><stop offset="0.024" stop-color="#cd0000"/><stop offset="0.033" stop-color="#ca0000"/><stop offset="0.043" stop-color="#c60000"/><stop offset="0.056" stop-color="#c40000"/><stop offset="0.070" stop-color="#c60000"/><stop offset="0.087" stop-color="#ca0000"/><stop offset="0.108" stop-color="#d80000"/><stop offset="0.132" stop-color="#e60000"/><stop offset="0.160" stop-color="#f10000"/><stop offset="0.191" stop-color="#f60000"/><stop offset="0.233" stop-color="#fb0000"/><stop offset="0.267" stop-color="#f00"/><stop offset="0.278" stop-color="#ff0303"/><stop offset="0.330" stop-color="#ff0c0c"/><stop offset="0.383" stop-color="#ff1616"/><stop offset="0.452" stop-color="#ff2424"/><stop offset="0.522" stop-color="#ff3030"/><stop offset="0.609" stop-color="#ff3d3d"/><stop offset="0.696" stop-color="#ff4242"/><stop offset="0.783" stop-color="#ff4949"/><stop offset="0.870" stop-color="#ff5e5e"/><stop offset="0.939" stop-color="#ff6868"/><stop offset="1.000" stop-color="#ff6262"/></linearGradient>
<linearGradient id="b27" gradientUnits="userSpaceOnUse" x1="0" y1="755.0" x2="0" y2="1330.0"><stop offset="0.000" stop-color="#eb0000"/><stop offset="0.005" stop-color="#e40000"/><stop offset="0.010" stop-color="#dc0000"/><stop offset="0.017" stop-color="#d20000"/><stop offset="0.024" stop-color="#cf0000"/><stop offset="0.033" stop-color="#c00"/><stop offset="0.043" stop-color="#c80000"/><stop offset="0.056" stop-color="#c50000"/><stop offset="0.070" stop-color="#c70000"/><stop offset="0.087" stop-color="#cb0000"/><stop offset="0.108" stop-color="#d90000"/><stop offset="0.132" stop-color="#e60000"/><stop offset="0.160" stop-color="#f10000"/><stop offset="0.191" stop-color="#f50000"/><stop offset="0.233" stop-color="#fa0000"/><stop offset="0.277" stop-color="#f00"/><stop offset="0.278" stop-color="#f00"/><stop offset="0.330" stop-color="#ff0909"/><stop offset="0.383" stop-color="#ff1313"/><stop offset="0.452" stop-color="#ff2424"/><stop offset="0.522" stop-color="#ff3030"/><stop offset="0.609" stop-color="#ff3b3b"/><stop offset="0.696" stop-color="#ff4141"/><stop offset="0.783" stop-color="#ff4848"/><stop offset="0.870" stop-color="#ff5d5d"/><stop offset="0.939" stop-color="#ff6767"/><stop offset="1.000" stop-color="#ff6060"/></linearGradient>
<linearGradient id="b28" gradientUnits="userSpaceOnUse" x1="0" y1="755.0" x2="0" y2="1330.0"><stop offset="0.000" stop-color="#ed0000"/><stop offset="0.005" stop-color="#e50000"/><stop offset="0.010" stop-color="#de0000"/><stop offset="0.017" stop-color="#d40000"/><stop offset="0.024" stop-color="#d20000"/><stop offset="0.033" stop-color="#ce0000"/><stop offset="0.043" stop-color="#ca0000"/><stop offset="0.056" stop-color="#c70000"/><stop offset="0.070" stop-color="#c90000"/><stop offset="0.087" stop-color="#cd0000"/><stop offset="0.108" stop-color="#da0000"/><stop offset="0.132" stop-color="#e70000"/><stop offset="0.160" stop-color="#f10000"/><stop offset="0.191" stop-color="#f50000"/><stop offset="0.233" stop-color="#fa0000"/><stop offset="0.278" stop-color="#f00"/><stop offset="0.280" stop-color="#f00"/><stop offset="0.330" stop-color="#ff0909"/><stop offset="0.383" stop-color="#ff1212"/><stop offset="0.452" stop-color="#ff2424"/><stop offset="0.522" stop-color="#ff3030"/><stop offset="0.609" stop-color="#ff3b3b"/><stop offset="0.696" stop-color="#ff4040"/><stop offset="0.783" stop-color="#ff4747"/><stop offset="0.870" stop-color="#ff5d5d"/><stop offset="0.939" stop-color="#f66"/><stop offset="1.000" stop-color="#ff5e5e"/></linearGradient>
<linearGradient id="b29" gradientUnits="userSpaceOnUse" x1="0" y1="755.0" x2="0" y2="1330.0"><stop offset="0.000" stop-color="#e00"/><stop offset="0.005" stop-color="#e70000"/><stop offset="0.010" stop-color="#e00000"/><stop offset="0.017" stop-color="#d70000"/><stop offset="0.024" stop-color="#d40000"/><stop offset="0.033" stop-color="#d00000"/><stop offset="0.043" stop-color="#c00"/><stop offset="0.056" stop-color="#c90000"/><stop offset="0.070" stop-color="#cb0000"/><stop offset="0.087" stop-color="#cf0000"/><stop offset="0.108" stop-color="#dc0000"/><stop offset="0.132" stop-color="#e80000"/><stop offset="0.160" stop-color="#f10000"/><stop offset="0.191" stop-color="#f50000"/><stop offset="0.233" stop-color="#fa0000"/><stop offset="0.278" stop-color="#f00"/><stop offset="0.280" stop-color="#f00"/><stop offset="0.330" stop-color="#ff0808"/><stop offset="0.383" stop-color="#f11"/><stop offset="0.452" stop-color="#ff2424"/><stop offset="0.522" stop-color="#ff3030"/><stop offset="0.609" stop-color="#ff3b3b"/><stop offset="0.696" stop-color="#ff4040"/><stop offset="0.783" stop-color="#ff4747"/><stop offset="0.870" stop-color="#ff5c5c"/><stop offset="0.939" stop-color="#ff6565"/><stop offset="1.000" stop-color="#ff5c5c"/></linearGradient>
<linearGradient id="b30" gradientUnits="userSpaceOnUse" x1="0" y1="755.0" x2="0" y2="1330.0"><stop offset="0.000" stop-color="#ef0000"/><stop offset="0.005" stop-color="#e90000"/><stop offset="0.010" stop-color="#e20000"/><stop offset="0.017" stop-color="#d90000"/><stop offset="0.024" stop-color="#d60000"/><stop offset="0.033" stop-color="#d20000"/><stop offset="0.043" stop-color="#ce0000"/><stop offset="0.056" stop-color="#cb0000"/><stop offset="0.070" stop-color="#ce0000"/><stop offset="0.087" stop-color="#d10000"/><stop offset="0.108" stop-color="#d00"/><stop offset="0.132" stop-color="#e80000"/><stop offset="0.160" stop-color="#f10000"/><stop offset="0.191" stop-color="#f50000"/><stop offset="0.233" stop-color="#fa0000"/><stop offset="0.278" stop-color="#f00"/><stop offset="0.281" stop-color="#f00"/><stop offset="0.330" stop-color="#ff0707"/><stop offset="0.383" stop-color="#ff1010"/><stop offset="0.452" stop-color="#ff2424"/><stop offset="0.522" stop-color="#ff3030"/><stop offset="0.609" stop-color="#ff3a3a"/><stop offset="0.696" stop-color="#ff3f3f"/><stop offset="0.783" stop-color="#ff4646"/><stop offset="0.870" stop-color="#ff5b5b"/><stop offset="0.939" stop-color="#ff6464"/><stop offset="1.000" stop-color="#ff5b5b"/></linearGradient>
<linearGradient id="b31" gradientUnits="userSpaceOnUse" x1="0" y1="755.0" x2="0" y2="1330.0"><stop offset="0.000" stop-color="#f10000"/><stop offset="0.005" stop-color="#ea0000"/><stop offset="0.010" stop-color="#e40000"/><stop offset="0.017" stop-color="#dc0000"/><stop offset="0.024" stop-color="#d90000"/><stop offset="0.033" stop-color="#d50000"/><stop offset="0.043" stop-color="#d00000"/><stop offset="0.056" stop-color="#cd0000"/><stop offset="0.070" stop-color="#d00000"/><stop offset="0.087" stop-color="#d30000"/><stop offset="0.108" stop-color="#df0000"/><stop offset="0.132" stop-color="#e90000"/><stop offset="0.160" stop-color="#f10000"/><stop offset="0.191" stop-color="#f50000"/><stop offset="0.233" stop-color="#fa0000"/><stop offset="0.278" stop-color="#f00"/><stop offset="0.282" stop-color="#f00"/><stop offset="0.330" stop-color="#ff0707"/><stop offset="0.383" stop-color="#ff0f0f"/><stop offset="0.452" stop-color="#ff2424"/><stop offset="0.522" stop-color="#ff3030"/><stop offset="0.609" stop-color="#ff3a3a"/><stop offset="0.696" stop-color="#ff3f3f"/><stop offset="0.783" stop-color="#ff4545"/><stop offset="0.870" stop-color="#ff5a5a"/><stop offset="0.939" stop-color="#ff6262"/><stop offset="1.000" stop-color="#ff5959"/></linearGradient>
<linearGradient id="b32" gradientUnits="userSpaceOnUse" x1="0" y1="755.0" x2="0" y2="1330.0"><stop offset="0.000" stop-color="#f20000"/><stop offset="0.005" stop-color="#ec0000"/><stop offset="0.010" stop-color="#e60000"/><stop offset="0.017" stop-color="#de0000"/><stop offset="0.024" stop-color="#db0000"/><stop offset="0.033" stop-color="#d70000"/><stop offset="0.043" stop-color="#d20000"/><stop offset="0.056" stop-color="#cf0000"/><stop offset="0.070" stop-color="#d20000"/><stop offset="0.087" stop-color="#d60000"/><stop offset="0.108" stop-color="#e10000"/><stop offset="0.132" stop-color="#ea0000"/><stop offset="0.160" stop-color="#f10000"/><stop offset="0.191" stop-color="#f50000"/><stop offset="0.233" stop-color="#fa0000"/><stop offset="0.278" stop-color="#f00"/><stop offset="0.283" stop-color="#f00"/><stop offset="0.330" stop-color="#ff0606"/><stop offset="0.383" stop-color="#ff0e0e"/><stop offset="0.452" stop-color="#ff2424"/><stop offset="0.522" stop-color="#ff3030"/><stop offset="0.609" stop-color="#ff3a3a"/><stop offset="0.696" stop-color="#ff3e3e"/><stop offset="0.783" stop-color="#ff4545"/><stop offset="0.870" stop-color="#ff5959"/><stop offset="0.939" stop-color="#ff6161"/><stop offset="1.000" stop-color="#ff5858"/></linearGradient>
<linearGradient id="b33" gradientUnits="userSpaceOnUse" x1="0" y1="755.0" x2="0" y2="1330.0"><stop offset="0.000" stop-color="#f40000"/><stop offset="0.005" stop-color="#e00"/><stop offset="0.010" stop-color="#e80000"/><stop offset="0.017" stop-color="#e10000"/><stop offset="0.024" stop-color="#d00"/><stop offset="0.033" stop-color="#d90000"/><stop offset="0.043" stop-color="#d40000"/><stop offset="0.056" stop-color="#d10000"/><stop offset="0.070" stop-color="#d40000"/><stop offset="0.087" stop-color="#d80000"/><stop offset="0.108" stop-color="#e20000"/><stop offset="0.132" stop-color="#eb0000"/><stop offset="0.160" stop-color="#f10000"/><stop offset="0.191" stop-color="#f50000"/><stop offset="0.233" stop-color="#fa0000"/><stop offset="0.278" stop-color="#f00"/><stop offset="0.284" stop-color="#f00"/><stop offset="0.330" stop-color="#ff0606"/><stop offset="0.383" stop-color="#ff0e0e"/><stop offset="0.452" stop-color="#ff2424"/><stop offset="0.522" stop-color="#ff3030"/><stop offset="0.609" stop-color="#ff3a3a"/><stop offset="0.696" stop-color="#ff3d3d"/><stop offset="0.783" stop-color="#f44"/><stop offset="0.870" stop-color="#ff5858"/><stop offset="0.939" stop-color="#ff6060"/><stop offset="1.000" stop-color="#ff5656"/></linearGradient>
<linearGradient id="b34" gradientUnits="userSpaceOnUse" x1="0" y1="755.0" x2="0" y2="1330.0"><stop offset="0.000" stop-color="#f50000"/><stop offset="0.005" stop-color="#f00000"/><stop offset="0.010" stop-color="#ea0000"/><stop offset="0.017" stop-color="#e30000"/><stop offset="0.024" stop-color="#e00000"/><stop offset="0.033" stop-color="#db0000"/><stop offset="0.043" stop-color="#d60000"/><stop offset="0.056" stop-color="#d30000"/><stop offset="0.070" stop-color="#d60000"/><stop offset="0.087" stop-color="#da0000"/><stop offset="0.108" stop-color="#e40000"/><stop offset="0.132" stop-color="#ec0000"/><stop offset="0.160" stop-color="#f10000"/><stop offset="0.191" stop-color="#f50000"/><stop offset="0.233" stop-color="#fa0000"/><stop offset="0.278" stop-color="#f00"/><stop offset="0.282" stop-color="#f00"/><stop offset="0.330" stop-color="#ff0606"/><stop offset="0.383" stop-color="#ff0e0e"/><stop offset="0.452" stop-color="#ff2424"/><stop offset="0.522" stop-color="#ff3030"/><stop offset="0.609" stop-color="#ff3939"/><stop offset="0.696" stop-color="#ff3d3d"/><stop offset="0.783" stop-color="#ff4343"/><stop offset="0.870" stop-color="#ff5757"/><stop offset="0.939" stop-color="#ff5f5f"/><stop offset="1.000" stop-color="#f55"/></linearGradient>
<linearGradient id="b35" gradientUnits="userSpaceOnUse" x1="0" y1="755.0" x2="0" y2="1330.0"><stop offset="0.000" stop-color="#f60000"/><stop offset="0.005" stop-color="#f10000"/><stop offset="0.010" stop-color="#ec0000"/><stop offset="0.017" stop-color="#e50000"/><stop offset="0.024" stop-color="#e20000"/><stop offset="0.033" stop-color="#de0000"/><stop offset="0.043" stop-color="#d80000"/><stop offset="0.056" stop-color="#d50000"/><stop offset="0.070" stop-color="#d80000"/><stop offset="0.087" stop-color="#dc0000"/><stop offset="0.108" stop-color="#e50000"/><stop offset="0.132" stop-color="#ec0000"/><stop offset="0.160" stop-color="#f10000"/><stop offset="0.191" stop-color="#f50000"/><stop offset="0.233" stop-color="#fa0000"/><stop offset="0.277" stop-color="#f00"/><stop offset="0.278" stop-color="#f00"/><stop offset="0.330" stop-color="#ff0707"/><stop offset="0.383" stop-color="#ff0f0f"/><stop offset="0.452" stop-color="#ff2424"/><stop offset="0.522" stop-color="#ff3030"/><stop offset="0.609" stop-color="#ff3838"/><stop offset="0.696" stop-color="#ff3b3b"/><stop offset="0.783" stop-color="#ff4141"/><stop offset="0.870" stop-color="#ff5454"/><stop offset="0.939" stop-color="#ff5c5c"/><stop offset="1.000" stop-color="#ff5353"/></linearGradient>
<linearGradient id="b36" gradientUnits="userSpaceOnUse" x1="0" y1="755.0" x2="0" y2="1330.0"><stop offset="0.000" stop-color="#f90000"/><stop offset="0.005" stop-color="#f40000"/><stop offset="0.010" stop-color="#e00"/><stop offset="0.017" stop-color="#e70000"/><stop offset="0.024" stop-color="#e40000"/><stop offset="0.033" stop-color="#e00000"/><stop offset="0.043" stop-color="#db0000"/><stop offset="0.056" stop-color="#d80000"/><stop offset="0.070" stop-color="#da0000"/><stop offset="0.087" stop-color="#de0000"/><stop offset="0.108" stop-color="#e60000"/><stop offset="0.132" stop-color="#ed0000"/><stop offset="0.160" stop-color="#f10000"/><stop offset="0.191" stop-color="#f60000"/><stop offset="0.233" stop-color="#fb0000"/><stop offset="0.273" stop-color="#f00"/><stop offset="0.278" stop-color="#ff0101"/><stop offset="0.330" stop-color="#ff0808"/><stop offset="0.383" stop-color="#ff1010"/><stop offset="0.452" stop-color="#ff2424"/><stop offset="0.522" stop-color="#ff2f2f"/><stop offset="0.609" stop-color="#ff3737"/><stop offset="0.696" stop-color="#ff3a3a"/><stop offset="0.783" stop-color="#ff4040"/><stop offset="0.870" stop-color="#ff5252"/><stop offset="0.939" stop-color="#ff5959"/><stop offset="1.000" stop-color="#ff5050"/></linearGradient>
<linearGradient id="b37" gradientUnits="userSpaceOnUse" x1="0" y1="755.0" x2="0" y2="1330.0"><stop offset="0.000" stop-color="#fc0000"/><stop offset="0.005" stop-color="#f60000"/><stop offset="0.010" stop-color="#f00000"/><stop offset="0.017" stop-color="#e80000"/><stop offset="0.024" stop-color="#e50000"/><stop offset="0.033" stop-color="#e10000"/><stop offset="0.043" stop-color="#d00"/><stop offset="0.056" stop-color="#da0000"/><stop offset="0.070" stop-color="#dc0000"/><stop offset="0.087" stop-color="#e00000"/><stop offset="0.108" stop-color="#e80000"/><stop offset="0.132" stop-color="#e00"/><stop offset="0.160" stop-color="#f20000"/><stop offset="0.191" stop-color="#f60000"/><stop offset="0.233" stop-color="#fb0000"/><stop offset="0.269" stop-color="#f00"/><stop offset="0.278" stop-color="#ff0202"/><stop offset="0.330" stop-color="#ff0909"/><stop offset="0.383" stop-color="#ff1212"/><stop offset="0.452" stop-color="#ff2424"/><stop offset="0.522" stop-color="#ff2e2e"/><stop offset="0.609" stop-color="#ff3636"/><stop offset="0.696" stop-color="#ff3939"/><stop offset="0.783" stop-color="#ff3e3e"/><stop offset="0.870" stop-color="#ff4f4f"/><stop offset="0.939" stop-color="#ff5656"/><stop offset="1.000" stop-color="#ff4e4e"/></linearGradient>
<linearGradient id="b38" gradientUnits="userSpaceOnUse" x1="0" y1="755.0" x2="0" y2="1330.0"><stop offset="0.000" stop-color="#f00"/><stop offset="0.000" stop-color="#f00"/><stop offset="0.005" stop-color="#f90000"/><stop offset="0.010" stop-color="#f20000"/><stop offset="0.017" stop-color="#ea0000"/><stop offset="0.024" stop-color="#e70000"/><stop offset="0.033" stop-color="#e30000"/><stop offset="0.043" stop-color="#df0000"/><stop offset="0.056" stop-color="#dc0000"/><stop offset="0.070" stop-color="#de0000"/><stop offset="0.087" stop-color="#e10000"/><stop offset="0.108" stop-color="#e90000"/><stop offset="0.132" stop-color="#ef0000"/><stop offset="0.160" stop-color="#f30000"/><stop offset="0.191" stop-color="#f70000"/><stop offset="0.233" stop-color="#fc0000"/><stop offset="0.265" stop-color="#f00"/><stop offset="0.278" stop-color="#ff0303"/><stop offset="0.330" stop-color="#ff0b0b"/><stop offset="0.383" stop-color="#ff1313"/><stop offset="0.452" stop-color="#ff2424"/><stop offset="0.522" stop-color="#ff2e2e"/><stop offset="0.609" stop-color="#ff3535"/><stop offset="0.696" stop-color="#ff3737"/><stop offset="0.783" stop-color="#ff3c3c"/><stop offset="0.870" stop-color="#ff4c4c"/><stop offset="0.939" stop-color="#ff5353"/><stop offset="1.000" stop-color="#ff4c4c"/></linearGradient>
<linearGradient id="b39" gradientUnits="userSpaceOnUse" x1="0" y1="755.0" x2="0" y2="1330.0"><stop offset="0.000" stop-color="#ff0606"/><stop offset="0.002" stop-color="#f00"/><stop offset="0.005" stop-color="#fb0000"/><stop offset="0.010" stop-color="#f40000"/><stop offset="0.017" stop-color="#eb0000"/><stop offset="0.024" stop-color="#e90000"/><stop offset="0.033" stop-color="#e50000"/><stop offset="0.043" stop-color="#e10000"/><stop offset="0.056" stop-color="#de0000"/><stop offset="0.070" stop-color="#e00000"/><stop offset="0.087" stop-color="#e30000"/><stop offset="0.108" stop-color="#ea0000"/><stop offset="0.132" stop-color="#f00000"/><stop offset="0.160" stop-color="#f30000"/><stop offset="0.191" stop-color="#f70000"/><stop offset="0.233" stop-color="#fc0000"/><stop offset="0.261" stop-color="#f00"/><stop offset="0.278" stop-color="#ff0404"/><stop offset="0.330" stop-color="#ff0c0c"/><stop offset="0.383" stop-color="#ff1515"/><stop offset="0.452" stop-color="#ff2424"/><stop offset="0.522" stop-color="#ff2d2d"/><stop offset="0.609" stop-color="#ff3434"/><stop offset="0.696" stop-color="#ff3636"/><stop offset="0.783" stop-color="#ff3a3a"/><stop offset="0.870" stop-color="#ff4a4a"/><stop offset="0.939" stop-color="#ff5050"/><stop offset="1.000" stop-color="#ff4a4a"/></linearGradient>
<linearGradient id="b40" gradientUnits="userSpaceOnUse" x1="0" y1="755.0" x2="0" y2="1330.0"><stop offset="0.000" stop-color="#ff0c0c"/><stop offset="0.004" stop-color="#f00"/><stop offset="0.005" stop-color="#fe0000"/><stop offset="0.010" stop-color="#f60000"/><stop offset="0.017" stop-color="#ed0000"/><stop offset="0.024" stop-color="#ea0000"/><stop offset="0.033" stop-color="#e70000"/><stop offset="0.043" stop-color="#e30000"/><stop offset="0.056" stop-color="#e10000"/><stop offset="0.070" stop-color="#e20000"/><stop offset="0.087" stop-color="#e50000"/><stop offset="0.108" stop-color="#eb0000"/><stop offset="0.132" stop-color="#f10000"/><stop offset="0.160" stop-color="#f40000"/><stop offset="0.191" stop-color="#f80000"/><stop offset="0.233" stop-color="#fd0000"/><stop offset="0.257" stop-color="#f00"/><stop offset="0.278" stop-color="#ff0505"/><stop offset="0.330" stop-color="#ff0d0d"/><stop offset="0.383" stop-color="#ff1616"/><stop offset="0.452" stop-color="#ff2424"/><stop offset="0.522" stop-color="#ff2c2c"/><stop offset="0.609" stop-color="#f33"/><stop offset="0.696" stop-color="#ff3535"/><stop offset="0.783" stop-color="#ff3838"/><stop offset="0.870" stop-color="#ff4747"/><stop offset="0.939" stop-color="#ff4e4e"/><stop offset="1.000" stop-color="#ff4848"/></linearGradient>
<linearGradient id="b41" gradientUnits="userSpaceOnUse" x1="0" y1="755.0" x2="0" y2="1330.0"><stop offset="0.000" stop-color="#ff1414"/><stop offset="0.005" stop-color="#ff0505"/><stop offset="0.007" stop-color="#f00"/><stop offset="0.010" stop-color="#fa0000"/><stop offset="0.017" stop-color="#ef0000"/><stop offset="0.024" stop-color="#ed0000"/><stop offset="0.033" stop-color="#e90000"/><stop offset="0.043" stop-color="#e60000"/><stop offset="0.056" stop-color="#e30000"/><stop offset="0.070" stop-color="#e50000"/><stop offset="0.087" stop-color="#e70000"/><stop offset="0.108" stop-color="#ed0000"/><stop offset="0.132" stop-color="#f20000"/><stop offset="0.160" stop-color="#f50000"/><stop offset="0.191" stop-color="#f90000"/><stop offset="0.233" stop-color="#fd0000"/><stop offset="0.251" stop-color="#f00"/><stop offset="0.278" stop-color="#ff0606"/><stop offset="0.330" stop-color="#ff0e0e"/><stop offset="0.383" stop-color="#ff1616"/><stop offset="0.452" stop-color="#ff2323"/><stop offset="0.522" stop-color="#ff2b2b"/><stop offset="0.609" stop-color="#ff3232"/><stop offset="0.696" stop-color="#f33"/><stop offset="0.783" stop-color="#ff3636"/><stop offset="0.870" stop-color="#f44"/><stop offset="0.939" stop-color="#ff4a4a"/><stop offset="1.000" stop-color="#ff4646"/></linearGradient>
<linearGradient id="b42" gradientUnits="userSpaceOnUse" x1="0" y1="755.0" x2="0" y2="1330.0"><stop offset="0.000" stop-color="#ff3636"/><stop offset="0.005" stop-color="#ff2525"/><stop offset="0.010" stop-color="#ff1010"/><stop offset="0.015" stop-color="#f00"/><stop offset="0.017" stop-color="#fb0000"/><stop offset="0.024" stop-color="#f60000"/><stop offset="0.033" stop-color="#f10000"/><stop offset="0.043" stop-color="#ec0000"/><stop offset="0.056" stop-color="#e90000"/><stop offset="0.070" stop-color="#e90000"/><stop offset="0.087" stop-color="#eb0000"/><stop offset="0.108" stop-color="#f00000"/><stop offset="0.132" stop-color="#f40000"/><stop offset="0.160" stop-color="#f70000"/><stop offset="0.191" stop-color="#fa0000"/><stop offset="0.233" stop-color="#fe0000"/><stop offset="0.240" stop-color="#f00"/><stop offset="0.278" stop-color="#ff0707"/><stop offset="0.330" stop-color="#ff0f0f"/><stop offset="0.383" stop-color="#ff1717"/><stop offset="0.452" stop-color="#f22"/><stop offset="0.522" stop-color="#ff2929"/><stop offset="0.609" stop-color="#ff3030"/><stop offset="0.696" stop-color="#ff3131"/><stop offset="0.783" stop-color="#ff3434"/><stop offset="0.870" stop-color="#ff4141"/><stop offset="0.939" stop-color="#ff4747"/><stop offset="1.000" stop-color="#f44"/></linearGradient>
<linearGradient id="b43" gradientUnits="userSpaceOnUse" x1="0" y1="755.0" x2="0" y2="1330.0"><stop offset="0.000" stop-color="#ff5858"/><stop offset="0.005" stop-color="#f44"/><stop offset="0.010" stop-color="#ff2c2c"/><stop offset="0.017" stop-color="#ff1010"/><stop offset="0.024" stop-color="#ff0101"/><stop offset="0.025" stop-color="#f00"/><stop offset="0.033" stop-color="#f80000"/><stop offset="0.043" stop-color="#f20000"/><stop offset="0.056" stop-color="#ef0000"/><stop offset="0.070" stop-color="#e00"/><stop offset="0.087" stop-color="#f00000"/><stop offset="0.108" stop-color="#f40000"/><stop offset="0.132" stop-color="#f70000"/><stop offset="0.160" stop-color="#f90000"/><stop offset="0.191" stop-color="#fc0000"/><stop offset="0.226" stop-color="#f00"/><stop offset="0.233" stop-color="#ff0101"/><stop offset="0.278" stop-color="#ff0909"/><stop offset="0.330" stop-color="#ff1010"/><stop offset="0.383" stop-color="#ff1717"/><stop offset="0.452" stop-color="#ff2121"/><stop offset="0.522" stop-color="#ff2828"/><stop offset="0.609" stop-color="#ff2e2e"/><stop offset="0.696" stop-color="#ff2f2f"/><stop offset="0.783" stop-color="#ff3232"/><stop offset="0.870" stop-color="#ff3d3d"/><stop offset="0.939" stop-color="#ff4343"/><stop offset="1.000" stop-color="#ff4242"/></linearGradient>
<linearGradient id="b44" gradientUnits="userSpaceOnUse" x1="0" y1="755.0" x2="0" y2="1330.0"><stop offset="0.000" stop-color="#ff7a7a"/><stop offset="0.005" stop-color="#ff6464"/><stop offset="0.010" stop-color="#ff4747"/><stop offset="0.017" stop-color="#ff2828"/><stop offset="0.024" stop-color="#ff1414"/><stop offset="0.033" stop-color="#f00"/><stop offset="0.033" stop-color="#f00"/><stop offset="0.043" stop-color="#f90000"/><stop offset="0.056" stop-color="#f50000"/><stop offset="0.070" stop-color="#f30000"/><stop offset="0.087" stop-color="#f40000"/><stop offset="0.108" stop-color="#f70000"/><stop offset="0.132" stop-color="#fa0000"/><stop offset="0.160" stop-color="#fc0000"/><stop offset="0.191" stop-color="#fe0000"/><stop offset="0.209" stop-color="#f00"/><stop offset="0.233" stop-color="#ff0404"/><stop offset="0.278" stop-color="#ff0a0a"/><stop offset="0.330" stop-color="#f11"/><stop offset="0.383" stop-color="#ff1717"/><stop offset="0.452" stop-color="#ff2020"/><stop offset="0.522" stop-color="#ff2626"/><stop offset="0.609" stop-color="#ff2c2c"/><stop offset="0.696" stop-color="#ff2e2e"/><stop offset="0.783" stop-color="#ff3030"/><stop offset="0.870" stop-color="#ff3a3a"/><stop offset="0.939" stop-color="#ff4040"/><stop offset="1.000" stop-color="#ff4040"/></linearGradient>
<linearGradient id="b45" gradientUnits="userSpaceOnUse" x1="0" y1="755.0" x2="0" y2="1330.0"><stop offset="0.000" stop-color="#ff9b9b"/><stop offset="0.005" stop-color="#ff8484"/><stop offset="0.010" stop-color="#ff6262"/><stop offset="0.017" stop-color="#ff4040"/><stop offset="0.024" stop-color="#ff2727"/><stop offset="0.033" stop-color="#ff0f0f"/><stop offset="0.043" stop-color="#f00"/><stop offset="0.044" stop-color="#f00"/><stop offset="0.056" stop-color="#fa0000"/><stop offset="0.070" stop-color="#f80000"/><stop offset="0.087" stop-color="#f90000"/><stop offset="0.108" stop-color="#fb0000"/><stop offset="0.132" stop-color="#fc0000"/><stop offset="0.160" stop-color="#fe0000"/><stop offset="0.183" stop-color="#f00"/><stop offset="0.191" stop-color="#ff0101"/><stop offset="0.233" stop-color="#ff0606"/><stop offset="0.278" stop-color="#ff0c0c"/><stop offset="0.330" stop-color="#ff1212"/><stop offset="0.383" stop-color="#ff1818"/><stop offset="0.452" stop-color="#ff1f1f"/><stop offset="0.522" stop-color="#ff2424"/><stop offset="0.609" stop-color="#ff2a2a"/><stop offset="0.696" stop-color="#ff2c2c"/><stop offset="0.783" stop-color="#ff2e2e"/><stop offset="0.870" stop-color="#ff3737"/><stop offset="0.939" stop-color="#ff3c3c"/><stop offset="1.000" stop-color="#ff3e3e"/></linearGradient>
<linearGradient id="b46" gradientUnits="userSpaceOnUse" x1="0" y1="755.0" x2="0" y2="1330.0"><stop offset="0.000" stop-color="#ffbdbd"/><stop offset="0.005" stop-color="#ffa3a3"/><stop offset="0.010" stop-color="#ff7e7e"/><stop offset="0.017" stop-color="#ff5858"/><stop offset="0.024" stop-color="#ff3a3a"/><stop offset="0.033" stop-color="#ff1e1e"/><stop offset="0.043" stop-color="#ff0d0d"/><stop offset="0.056" stop-color="#ff0202"/><stop offset="0.061" stop-color="#f00"/><stop offset="0.070" stop-color="#fd0000"/><stop offset="0.087" stop-color="#fd0000"/><stop offset="0.108" stop-color="#fe0000"/><stop offset="0.132" stop-color="#f00"/><stop offset="0.133" stop-color="#f00"/><stop offset="0.160" stop-color="#ff0202"/><stop offset="0.191" stop-color="#ff0404"/><stop offset="0.233" stop-color="#ff0808"/><stop offset="0.278" stop-color="#ff0d0d"/><stop offset="0.330" stop-color="#ff1313"/><stop offset="0.383" stop-color="#ff1818"/><stop offset="0.452" stop-color="#ff1e1e"/><stop offset="0.522" stop-color="#ff2323"/><stop offset="0.609" stop-color="#ff2828"/><stop offset="0.696" stop-color="#ff2a2a"/><stop offset="0.783" stop-color="#ff2c2c"/><stop offset="0.870" stop-color="#ff3434"/><stop offset="0.939" stop-color="#ff3939"/><stop offset="1.000" stop-color="#ff3c3c"/></linearGradient>
<linearGradient id="b47" gradientUnits="userSpaceOnUse" x1="0" y1="755.0" x2="0" y2="1330.0"><stop offset="0.000" stop-color="#ffd7d7"/><stop offset="0.005" stop-color="#ffbdbd"/><stop offset="0.010" stop-color="#ff9595"/><stop offset="0.017" stop-color="#ff6c6c"/><stop offset="0.024" stop-color="#ff4b4b"/><stop offset="0.033" stop-color="#ff2c2c"/><stop offset="0.043" stop-color="#ff1a1a"/><stop offset="0.056" stop-color="#ff0e0e"/><stop offset="0.070" stop-color="#ff0606"/><stop offset="0.087" stop-color="#ff0606"/><stop offset="0.108" stop-color="#ff0505"/><stop offset="0.132" stop-color="#ff0606"/><stop offset="0.160" stop-color="#ff0707"/><stop offset="0.191" stop-color="#ff0909"/><stop offset="0.233" stop-color="#ff0b0b"/><stop offset="0.278" stop-color="#ff0f0f"/><stop offset="0.330" stop-color="#ff1515"/><stop offset="0.383" stop-color="#ff1b1b"/><stop offset="0.452" stop-color="#ff1d1d"/><stop offset="0.522" stop-color="#ff2121"/><stop offset="0.609" stop-color="#ff2727"/><stop offset="0.696" stop-color="#ff2a2a"/><stop offset="0.783" stop-color="#ff2b2b"/><stop offset="0.870" stop-color="#ff3131"/><stop offset="0.939" stop-color="#ff3535"/><stop offset="1.000" stop-color="#ff3a3a"/></linearGradient>
<linearGradient id="b48" gradientUnits="userSpaceOnUse" x1="0" y1="755.0" x2="0" y2="1330.0"><stop offset="0.000" stop-color="#ffdada"/><stop offset="0.005" stop-color="#ffc3c3"/><stop offset="0.010" stop-color="#ff9e9e"/><stop offset="0.017" stop-color="#ff7878"/><stop offset="0.024" stop-color="#ff5959"/><stop offset="0.033" stop-color="#ff3b3b"/><stop offset="0.043" stop-color="#ff2828"/><stop offset="0.056" stop-color="#ff1919"/><stop offset="0.070" stop-color="#f11"/><stop offset="0.087" stop-color="#ff0e0e"/><stop offset="0.108" stop-color="#ff0d0d"/><stop offset="0.132" stop-color="#ff0d0d"/><stop offset="0.160" stop-color="#ff0e0e"/><stop offset="0.191" stop-color="#ff0f0f"/><stop offset="0.233" stop-color="#ff1212"/><stop offset="0.278" stop-color="#ff1515"/><stop offset="0.330" stop-color="#ff1b1b"/><stop offset="0.383" stop-color="#ff2020"/><stop offset="0.452" stop-color="#ff2121"/><stop offset="0.522" stop-color="#ff2424"/><stop offset="0.609" stop-color="#ff2929"/><stop offset="0.696" stop-color="#ff2c2c"/><stop offset="0.783" stop-color="#ff2d2d"/><stop offset="0.870" stop-color="#ff2f2f"/><stop offset="0.939" stop-color="#f33"/><stop offset="1.000" stop-color="#ff3b3b"/></linearGradient>
<linearGradient id="b49" gradientUnits="userSpaceOnUse" x1="0" y1="755.0" x2="0" y2="1330.0"><stop offset="0.000" stop-color="#fdd"/><stop offset="0.005" stop-color="#ffc9c9"/><stop offset="0.010" stop-color="#ffa8a8"/><stop offset="0.017" stop-color="#ff8484"/><stop offset="0.024" stop-color="#f66"/><stop offset="0.033" stop-color="#ff4a4a"/><stop offset="0.043" stop-color="#ff3535"/><stop offset="0.056" stop-color="#ff2525"/><stop offset="0.070" stop-color="#ff1c1c"/><stop offset="0.087" stop-color="#ff1717"/><stop offset="0.108" stop-color="#ff1515"/><stop offset="0.132" stop-color="#ff1414"/><stop offset="0.160" stop-color="#ff1515"/><stop offset="0.191" stop-color="#ff1616"/><stop offset="0.233" stop-color="#ff1818"/><stop offset="0.278" stop-color="#ff1a1a"/><stop offset="0.330" stop-color="#ff2020"/><stop offset="0.383" stop-color="#ff2626"/><stop offset="0.452" stop-color="#ff2525"/><stop offset="0.522" stop-color="#ff2727"/><stop offset="0.609" stop-color="#ff2b2b"/><stop offset="0.696" stop-color="#ff2e2e"/><stop offset="0.783" stop-color="#ff3030"/><stop offset="0.870" stop-color="#ff3232"/><stop offset="0.939" stop-color="#ff3535"/><stop offset="1.000" stop-color="#ff3d3d"/></linearGradient>
<linearGradient id="b50" gradientUnits="userSpaceOnUse" x1="0" y1="755.0" x2="0" y2="1330.0"><stop offset="0.000" stop-color="#ffe0e0"/><stop offset="0.005" stop-color="#ffcfcf"/><stop offset="0.010" stop-color="#ffb1b1"/><stop offset="0.017" stop-color="#ff9090"/><stop offset="0.024" stop-color="#ff7373"/><stop offset="0.033" stop-color="#ff5858"/><stop offset="0.043" stop-color="#ff4242"/><stop offset="0.056" stop-color="#ff3030"/><stop offset="0.070" stop-color="#ff2626"/><stop offset="0.087" stop-color="#ff2020"/><stop offset="0.108" stop-color="#ff1d1d"/><stop offset="0.132" stop-color="#ff1b1b"/><stop offset="0.160" stop-color="#ff1c1c"/><stop offset="0.191" stop-color="#ff1d1d"/><stop offset="0.233" stop-color="#ff1e1e"/><stop offset="0.278" stop-color="#ff2020"/><stop offset="0.330" stop-color="#ff2626"/><stop offset="0.383" stop-color="#ff2b2b"/><stop offset="0.452" stop-color="#ff2929"/><stop offset="0.522" stop-color="#ff2a2a"/><stop offset="0.609" stop-color="#ff2d2d"/><stop offset="0.696" stop-color="#ff3030"/><stop offset="0.783" stop-color="#f33"/><stop offset="0.870" stop-color="#ff3535"/><stop offset="0.939" stop-color="#ff3838"/><stop offset="1.000" stop-color="#ff3f3f"/></linearGradient>
<linearGradient id="b51" gradientUnits="userSpaceOnUse" x1="0" y1="755.0" x2="0" y2="1330.0"><stop offset="0.000" stop-color="#ffe3e3"/><stop offset="0.005" stop-color="#ffd6d6"/><stop offset="0.010" stop-color="#fbb"/><stop offset="0.017" stop-color="#ff9c9c"/><stop offset="0.024" stop-color="#ff8181"/><stop offset="0.033" stop-color="#ff6767"/><stop offset="0.043" stop-color="#ff4f4f"/><stop offset="0.056" stop-color="#ff3c3c"/><stop offset="0.070" stop-color="#ff3131"/><stop offset="0.087" stop-color="#ff2828"/><stop offset="0.108" stop-color="#ff2424"/><stop offset="0.132" stop-color="#f22"/><stop offset="0.160" stop-color="#ff2323"/><stop offset="0.191" stop-color="#ff2323"/><stop offset="0.233" stop-color="#ff2424"/><stop offset="0.278" stop-color="#ff2626"/><stop offset="0.330" stop-color="#ff2c2c"/><stop offset="0.383" stop-color="#ff3030"/><stop offset="0.452" stop-color="#ff2d2d"/><stop offset="0.522" stop-color="#ff2d2d"/><stop offset="0.609" stop-color="#ff2f2f"/><stop offset="0.696" stop-color="#f33"/><stop offset="0.783" stop-color="#ff3636"/><stop offset="0.870" stop-color="#ff3838"/><stop offset="0.939" stop-color="#ff3b3b"/><stop offset="1.000" stop-color="#ff4040"/></linearGradient>
<linearGradient id="b52" gradientUnits="userSpaceOnUse" x1="0" y1="755.0" x2="0" y2="1330.0"><stop offset="0.000" stop-color="#ffe6e6"/><stop offset="0.005" stop-color="#ffdcdc"/><stop offset="0.010" stop-color="#ffc5c5"/><stop offset="0.017" stop-color="#ffa8a8"/><stop offset="0.024" stop-color="#ff8e8e"/><stop offset="0.033" stop-color="#ff7676"/><stop offset="0.043" stop-color="#ff5c5c"/><stop offset="0.056" stop-color="#ff4747"/><stop offset="0.070" stop-color="#ff3c3c"/><stop offset="0.087" stop-color="#ff3131"/><stop offset="0.108" stop-color="#ff2c2c"/><stop offset="0.132" stop-color="#ff2929"/><stop offset="0.160" stop-color="#ff2a2a"/><stop offset="0.191" stop-color="#ff2a2a"/><stop offset="0.233" stop-color="#ff2b2b"/><stop offset="0.278" stop-color="#ff2c2c"/><stop offset="0.330" stop-color="#ff3232"/><stop offset="0.383" stop-color="#ff3636"/><stop offset="0.452" stop-color="#ff3131"/><stop offset="0.522" stop-color="#ff2f2f"/><stop offset="0.609" stop-color="#ff3131"/><stop offset="0.696" stop-color="#ff3535"/><stop offset="0.783" stop-color="#ff3a3a"/><stop offset="0.870" stop-color="#ff3b3b"/><stop offset="0.939" stop-color="#ff3d3d"/><stop offset="1.000" stop-color="#ff4242"/></linearGradient>
<linearGradient id="b53" gradientUnits="userSpaceOnUse" x1="0" y1="755.0" x2="0" y2="1330.0"><stop offset="0.000" stop-color="#ffeaea"/><stop offset="0.005" stop-color="#ffe2e2"/><stop offset="0.010" stop-color="#ffcece"/><stop offset="0.017" stop-color="#ffb5b5"/><stop offset="0.024" stop-color="#ff9b9b"/><stop offset="0.033" stop-color="#ff8484"/><stop offset="0.043" stop-color="#ff6a6a"/><stop offset="0.056" stop-color="#ff5252"/><stop offset="0.070" stop-color="#ff4747"/><stop offset="0.087" stop-color="#ff3a3a"/><stop offset="0.108" stop-color="#ff3434"/><stop offset="0.132" stop-color="#ff3030"/><stop offset="0.160" stop-color="#ff3131"/><stop offset="0.191" stop-color="#ff3131"/><stop offset="0.233" stop-color="#ff3131"/><stop offset="0.278" stop-color="#ff3232"/><stop offset="0.330" stop-color="#ff3838"/><stop offset="0.383" stop-color="#ff3b3b"/><stop offset="0.452" stop-color="#ff3434"/><stop offset="0.522" stop-color="#ff3232"/><stop offset="0.609" stop-color="#f33"/><stop offset="0.696" stop-color="#ff3737"/><stop offset="0.783" stop-color="#ff3d3d"/><stop offset="0.870" stop-color="#ff3e3e"/><stop offset="0.939" stop-color="#ff4040"/><stop offset="1.000" stop-color="#ff4343"/></linearGradient>
<linearGradient id="b54" gradientUnits="userSpaceOnUse" x1="0" y1="755.0" x2="0" y2="1330.0"><stop offset="0.000" stop-color="#ffeded"/><stop offset="0.005" stop-color="#ffe7e7"/><stop offset="0.010" stop-color="#ffd5d5"/><stop offset="0.017" stop-color="#ffbdbd"/><stop offset="0.024" stop-color="#ffa6a6"/><stop offset="0.033" stop-color="#ff9090"/><stop offset="0.043" stop-color="#ff7676"/><stop offset="0.056" stop-color="#ff5e5e"/><stop offset="0.070" stop-color="#ff5252"/><stop offset="0.087" stop-color="#ff4343"/><stop offset="0.108" stop-color="#ff3d3d"/><stop offset="0.132" stop-color="#ff3939"/><stop offset="0.160" stop-color="#ff3838"/><stop offset="0.191" stop-color="#ff3838"/><stop offset="0.233" stop-color="#ff3838"/><stop offset="0.278" stop-color="#ff3939"/><stop offset="0.330" stop-color="#ff3f3f"/><stop offset="0.383" stop-color="#ff4242"/><stop offset="0.452" stop-color="#ff3b3b"/><stop offset="0.522" stop-color="#ff3838"/><stop offset="0.609" stop-color="#ff3838"/><stop offset="0.696" stop-color="#ff3c3c"/><stop offset="0.783" stop-color="#ff4141"/><stop offset="0.870" stop-color="#ff4242"/><stop offset="0.939" stop-color="#f44"/><stop offset="1.000" stop-color="#ff4848"/></linearGradient>
<linearGradient id="b55" gradientUnits="userSpaceOnUse" x1="0" y1="755.0" x2="0" y2="1330.0"><stop offset="0.000" stop-color="#fff0f0"/><stop offset="0.005" stop-color="#ffeaea"/><stop offset="0.010" stop-color="#ffdada"/><stop offset="0.017" stop-color="#ffc5c5"/><stop offset="0.024" stop-color="#ffafaf"/><stop offset="0.033" stop-color="#ff9a9a"/><stop offset="0.043" stop-color="#ff8181"/><stop offset="0.056" stop-color="#ff6a6a"/><stop offset="0.070" stop-color="#ff5d5d"/><stop offset="0.087" stop-color="#ff4e4e"/><stop offset="0.108" stop-color="#ff4646"/><stop offset="0.132" stop-color="#ff4141"/><stop offset="0.160" stop-color="#ff4040"/><stop offset="0.191" stop-color="#ff3f3f"/><stop offset="0.233" stop-color="#ff3f3f"/><stop offset="0.278" stop-color="#ff4040"/><stop offset="0.330" stop-color="#ff4646"/><stop offset="0.383" stop-color="#ff4a4a"/><stop offset="0.452" stop-color="#ff4242"/><stop offset="0.522" stop-color="#ff3f3f"/><stop offset="0.609" stop-color="#ff3d3d"/><stop offset="0.696" stop-color="#ff4141"/><stop offset="0.783" stop-color="#ff4747"/><stop offset="0.870" stop-color="#ff4747"/><stop offset="0.939" stop-color="#ff4949"/><stop offset="1.000" stop-color="#ff4e4e"/></linearGradient>
<linearGradient id="b56" gradientUnits="userSpaceOnUse" x1="0" y1="755.0" x2="0" y2="1330.0"><stop offset="0.000" stop-color="#fff3f3"/><stop offset="0.005" stop-color="#fee"/><stop offset="0.010" stop-color="#ffdfdf"/><stop offset="0.017" stop-color="#fcc"/><stop offset="0.024" stop-color="#ffb8b8"/><stop offset="0.033" stop-color="#ffa4a4"/><stop offset="0.043" stop-color="#ff8c8c"/><stop offset="0.056" stop-color="#ff7676"/><stop offset="0.070" stop-color="#ff6868"/><stop offset="0.087" stop-color="#ff5858"/><stop offset="0.108" stop-color="#ff4f4f"/><stop offset="0.132" stop-color="#ff4a4a"/><stop offset="0.160" stop-color="#ff4848"/><stop offset="0.191" stop-color="#ff4747"/><stop offset="0.233" stop-color="#ff4747"/><stop offset="0.278" stop-color="#ff4848"/><stop offset="0.330" stop-color="#ff4d4d"/><stop offset="0.383" stop-color="#ff5151"/><stop offset="0.452" stop-color="#ff4a4a"/><stop offset="0.522" stop-color="#ff4646"/><stop offset="0.609" stop-color="#ff4343"/><stop offset="0.696" stop-color="#ff4747"/><stop offset="0.783" stop-color="#ff4d4d"/><stop offset="0.870" stop-color="#ff4d4d"/><stop offset="0.939" stop-color="#ff4f4f"/><stop offset="1.000" stop-color="#ff5454"/></linearGradient>
<linearGradient id="b57" gradientUnits="userSpaceOnUse" x1="0" y1="755.0" x2="0" y2="1330.0"><stop offset="0.000" stop-color="#fff6f6"/><stop offset="0.005" stop-color="#fff2f2"/><stop offset="0.010" stop-color="#ffe4e4"/><stop offset="0.017" stop-color="#ffd3d3"/><stop offset="0.024" stop-color="#ffc2c2"/><stop offset="0.033" stop-color="#ffaeae"/><stop offset="0.043" stop-color="#ff9797"/><stop offset="0.056" stop-color="#ff8282"/><stop offset="0.070" stop-color="#ff7373"/><stop offset="0.087" stop-color="#ff6262"/><stop offset="0.108" stop-color="#ff5858"/><stop offset="0.132" stop-color="#ff5252"/><stop offset="0.160" stop-color="#ff5050"/><stop offset="0.191" stop-color="#ff4e4e"/><stop offset="0.233" stop-color="#ff4e4e"/><stop offset="0.278" stop-color="#ff4f4f"/><stop offset="0.330" stop-color="#f55"/><stop offset="0.383" stop-color="#ff5858"/><stop offset="0.452" stop-color="#ff5252"/><stop offset="0.522" stop-color="#ff4d4d"/><stop offset="0.609" stop-color="#ff4949"/><stop offset="0.696" stop-color="#ff4c4c"/><stop offset="0.783" stop-color="#ff5353"/><stop offset="0.870" stop-color="#ff5454"/><stop offset="0.939" stop-color="#ff5656"/><stop offset="1.000" stop-color="#ff5b5b"/></linearGradient>
<linearGradient id="b58" gradientUnits="userSpaceOnUse" x1="0" y1="755.0" x2="0" y2="1330.0"><stop offset="0.000" stop-color="#fff9f9"/><stop offset="0.005" stop-color="#fff5f5"/><stop offset="0.010" stop-color="#ffeaea"/><stop offset="0.017" stop-color="#ffdada"/><stop offset="0.024" stop-color="#ffcbcb"/><stop offset="0.033" stop-color="#ffb9b9"/><stop offset="0.043" stop-color="#ffa3a3"/><stop offset="0.056" stop-color="#ff8e8e"/><stop offset="0.070" stop-color="#ff7e7e"/><stop offset="0.087" stop-color="#ff6c6c"/><stop offset="0.108" stop-color="#ff6262"/><stop offset="0.132" stop-color="#ff5b5b"/><stop offset="0.160" stop-color="#ff5858"/><stop offset="0.191" stop-color="#f55"/><stop offset="0.233" stop-color="#f55"/><stop offset="0.278" stop-color="#ff5656"/><stop offset="0.330" stop-color="#ff5c5c"/><stop offset="0.383" stop-color="#ff6060"/><stop offset="0.452" stop-color="#ff5959"/><stop offset="0.522" stop-color="#ff5454"/><stop offset="0.609" stop-color="#ff4f4f"/><stop offset="0.696" stop-color="#ff5252"/><stop offset="0.783" stop-color="#ff5959"/><stop offset="0.870" stop-color="#ff5a5a"/><stop offset="0.939" stop-color="#ff5c5c"/><stop offset="1.000" stop-color="#ff6161"/></linearGradient>
<linearGradient id="b59" gradientUnits="userSpaceOnUse" x1="0" y1="755.0" x2="0" y2="1330.0"><stop offset="0.000" stop-color="#fffcfc"/><stop offset="0.005" stop-color="#fff9f9"/><stop offset="0.010" stop-color="#ffefef"/><stop offset="0.017" stop-color="#ffe1e1"/><stop offset="0.024" stop-color="#ffd4d4"/><stop offset="0.033" stop-color="#ffc3c3"/><stop offset="0.043" stop-color="#ffaeae"/><stop offset="0.056" stop-color="#f99"/><stop offset="0.070" stop-color="#ff8989"/><stop offset="0.087" stop-color="#ff7676"/><stop offset="0.108" stop-color="#ff6b6b"/><stop offset="0.132" stop-color="#ff6363"/><stop offset="0.160" stop-color="#ff6060"/><stop offset="0.191" stop-color="#ff5d5d"/><stop offset="0.233" stop-color="#ff5d5d"/><stop offset="0.278" stop-color="#ff5e5e"/><stop offset="0.330" stop-color="#ff6363"/><stop offset="0.383" stop-color="#ff6767"/><stop offset="0.452" stop-color="#ff6161"/><stop offset="0.522" stop-color="#ff5b5b"/><stop offset="0.609" stop-color="#ff5454"/><stop offset="0.696" stop-color="#ff5757"/><stop offset="0.783" stop-color="#ff5f5f"/><stop offset="0.870" stop-color="#ff6161"/><stop offset="0.939" stop-color="#ff6363"/><stop offset="1.000" stop-color="#ff6767"/></linearGradient>
<linearGradient id="b60" gradientUnits="userSpaceOnUse" x1="0" y1="755.0" x2="0" y2="1330.0"><stop offset="0.000" stop-color="#fff"/><stop offset="0.000" stop-color="#fff"/><stop offset="0.005" stop-color="#fffcfc"/><stop offset="0.010" stop-color="#fff4f4"/><stop offset="0.017" stop-color="#ffe8e8"/><stop offset="0.024" stop-color="#fdd"/><stop offset="0.033" stop-color="#ffcdcd"/><stop offset="0.043" stop-color="#ffb9b9"/><stop offset="0.056" stop-color="#ffa5a5"/><stop offset="0.070" stop-color="#ff9494"/><stop offset="0.087" stop-color="#ff8181"/><stop offset="0.108" stop-color="#ff7474"/><stop offset="0.132" stop-color="#ff6c6c"/><stop offset="0.160" stop-color="#ff6868"/><stop offset="0.191" stop-color="#ff6464"/><stop offset="0.233" stop-color="#ff6464"/><stop offset="0.278" stop-color="#ff6565"/><stop offset="0.330" stop-color="#ff6b6b"/><stop offset="0.383" stop-color="#ff6f6f"/><stop offset="0.452" stop-color="#ff6969"/><stop offset="0.522" stop-color="#ff6363"/><stop offset="0.609" stop-color="#ff5b5b"/><stop offset="0.696" stop-color="#ff5e5e"/><stop offset="0.783" stop-color="#ff6565"/><stop offset="0.870" stop-color="#ff6767"/><stop offset="0.939" stop-color="#ff6969"/><stop offset="1.000" stop-color="#ff6d6d"/></linearGradient>
<linearGradient id="b61" gradientUnits="userSpaceOnUse" x1="0" y1="755.0" x2="0" y2="1330.0"><stop offset="0.000" stop-color="#fefeff"/><stop offset="0.002" stop-color="#fff"/><stop offset="0.005" stop-color="#fffefe"/><stop offset="0.010" stop-color="#fff6f6"/><stop offset="0.017" stop-color="#ffebeb"/><stop offset="0.024" stop-color="#ffe1e1"/><stop offset="0.033" stop-color="#ffd2d2"/><stop offset="0.043" stop-color="#ffbfbf"/><stop offset="0.056" stop-color="#ffacac"/><stop offset="0.070" stop-color="#ff9d9d"/><stop offset="0.087" stop-color="#ff8a8a"/><stop offset="0.108" stop-color="#ff7e7e"/><stop offset="0.132" stop-color="#ff7676"/><stop offset="0.160" stop-color="#ff7373"/><stop offset="0.191" stop-color="#ff6f6f"/><stop offset="0.233" stop-color="#ff6e6e"/><stop offset="0.278" stop-color="#ff6f6f"/><stop offset="0.330" stop-color="#ff7474"/><stop offset="0.383" stop-color="#ff7878"/><stop offset="0.452" stop-color="#ff7171"/><stop offset="0.522" stop-color="#ff6b6b"/><stop offset="0.609" stop-color="#ff6464"/><stop offset="0.696" stop-color="#f66"/><stop offset="0.783" stop-color="#ff6c6c"/><stop offset="0.870" stop-color="#ff6e6e"/><stop offset="0.939" stop-color="#ff7070"/><stop offset="1.000" stop-color="#ff7575"/></linearGradient>
<linearGradient id="b62" gradientUnits="userSpaceOnUse" x1="0" y1="755.0" x2="0" y2="1330.0"><stop offset="0.000" stop-color="#fdfdff"/><stop offset="0.005" stop-color="#fff"/><stop offset="0.005" stop-color="#fff"/><stop offset="0.010" stop-color="#fff8f8"/><stop offset="0.017" stop-color="#fee"/><stop offset="0.024" stop-color="#ffe5e5"/><stop offset="0.033" stop-color="#ffd6d6"/><stop offset="0.043" stop-color="#ffc5c5"/><stop offset="0.056" stop-color="#ffb4b4"/><stop offset="0.070" stop-color="#ffa5a5"/><stop offset="0.087" stop-color="#ff9393"/><stop offset="0.108" stop-color="#f88"/><stop offset="0.132" stop-color="#ff8080"/><stop offset="0.160" stop-color="#ff7d7d"/><stop offset="0.191" stop-color="#ff7a7a"/><stop offset="0.233" stop-color="#ff7979"/><stop offset="0.278" stop-color="#ff7878"/><stop offset="0.330" stop-color="#ff7e7e"/><stop offset="0.383" stop-color="#ff8181"/><stop offset="0.452" stop-color="#ff7a7a"/><stop offset="0.522" stop-color="#ff7474"/><stop offset="0.609" stop-color="#ff6d6d"/><stop offset="0.696" stop-color="#ff6f6f"/><stop offset="0.783" stop-color="#ff7474"/><stop offset="0.870" stop-color="#ff7676"/><stop offset="0.939" stop-color="#ff7878"/><stop offset="1.000" stop-color="#ff7e7e"/></linearGradient>
<linearGradient id="b63" gradientUnits="userSpaceOnUse" x1="0" y1="755.0" x2="0" y2="1330.0"><stop offset="0.000" stop-color="#fcfcff"/><stop offset="0.005" stop-color="#fefeff"/><stop offset="0.006" stop-color="#fff"/><stop offset="0.010" stop-color="#fffafa"/><stop offset="0.017" stop-color="#fff1f1"/><stop offset="0.024" stop-color="#ffe9e9"/><stop offset="0.033" stop-color="#ffdbdb"/><stop offset="0.043" stop-color="#ffcbcb"/><stop offset="0.056" stop-color="#fbb"/><stop offset="0.070" stop-color="#ffadad"/><stop offset="0.087" stop-color="#ff9c9c"/><stop offset="0.108" stop-color="#ff9292"/><stop offset="0.132" stop-color="#ff8b8b"/><stop offset="0.160" stop-color="#f88"/><stop offset="0.191" stop-color="#ff8484"/><stop offset="0.233" stop-color="#ff8383"/><stop offset="0.278" stop-color="#ff8282"/><stop offset="0.330" stop-color="#ff8787"/><stop offset="0.383" stop-color="#ff8b8b"/><stop offset="0.452" stop-color="#ff8282"/><stop offset="0.522" stop-color="#ff7c7c"/><stop offset="0.609" stop-color="#ff7676"/><stop offset="0.696" stop-color="#f77"/><stop offset="0.783" stop-color="#ff7c7c"/><stop offset="0.870" stop-color="#ff7e7e"/><stop offset="0.939" stop-color="#ff8181"/><stop offset="1.000" stop-color="#ff8686"/></linearGradient>
<linearGradient id="b64" gradientUnits="userSpaceOnUse" x1="0" y1="755.0" x2="0" y2="1330.0"><stop offset="0.000" stop-color="#fbfbff"/><stop offset="0.005" stop-color="#fdfdff"/><stop offset="0.007" stop-color="#fff"/><stop offset="0.010" stop-color="#fffcfc"/><stop offset="0.017" stop-color="#fff4f4"/><stop offset="0.024" stop-color="#ffecec"/><stop offset="0.033" stop-color="#ffe0e0"/><stop offset="0.043" stop-color="#ffd2d2"/><stop offset="0.056" stop-color="#ffc2c2"/><stop offset="0.070" stop-color="#ffb5b5"/><stop offset="0.087" stop-color="#ffa6a6"/><stop offset="0.108" stop-color="#ff9c9c"/><stop offset="0.132" stop-color="#ff9595"/><stop offset="0.160" stop-color="#ff9292"/><stop offset="0.191" stop-color="#ff8f8f"/><stop offset="0.233" stop-color="#ff8d8d"/><stop offset="0.278" stop-color="#ff8c8c"/><stop offset="0.330" stop-color="#ff9191"/><stop offset="0.383" stop-color="#ff9494"/><stop offset="0.452" stop-color="#ff8b8b"/><stop offset="0.522" stop-color="#ff8585"/><stop offset="0.609" stop-color="#ff8080"/><stop offset="0.696" stop-color="#ff8080"/><stop offset="0.783" stop-color="#ff8383"/><stop offset="0.870" stop-color="#ff8686"/><stop offset="0.939" stop-color="#ff8989"/><stop offset="1.000" stop-color="#ff8e8e"/></linearGradient>
<linearGradient id="b65" gradientUnits="userSpaceOnUse" x1="0" y1="755.0" x2="0" y2="1330.0"><stop offset="0.000" stop-color="#fafaff"/><stop offset="0.005" stop-color="#fbfbff"/><stop offset="0.009" stop-color="#fff"/><stop offset="0.010" stop-color="#fffefe"/><stop offset="0.017" stop-color="#fff7f7"/><stop offset="0.024" stop-color="#fff0f0"/><stop offset="0.033" stop-color="#ffe5e5"/><stop offset="0.043" stop-color="#ffd8d8"/><stop offset="0.056" stop-color="#ffcaca"/><stop offset="0.070" stop-color="#ffbebe"/><stop offset="0.087" stop-color="#ffafaf"/><stop offset="0.108" stop-color="#ffa6a6"/><stop offset="0.132" stop-color="#ffa0a0"/><stop offset="0.160" stop-color="#ff9d9d"/><stop offset="0.191" stop-color="#f99"/><stop offset="0.233" stop-color="#ff9797"/><stop offset="0.278" stop-color="#ff9595"/><stop offset="0.330" stop-color="#ff9a9a"/><stop offset="0.383" stop-color="#ff9d9d"/><stop offset="0.452" stop-color="#ff9393"/><stop offset="0.522" stop-color="#ff8d8d"/><stop offset="0.609" stop-color="#ff8989"/><stop offset="0.696" stop-color="#f88"/><stop offset="0.783" stop-color="#ff8b8b"/><stop offset="0.870" stop-color="#ff8e8e"/><stop offset="0.939" stop-color="#ff9191"/><stop offset="1.000" stop-color="#ff9696"/></linearGradient>
<linearGradient id="b66" gradientUnits="userSpaceOnUse" x1="0" y1="755.0" x2="0" y2="1330.0"><stop offset="0.000" stop-color="#f8f8ff"/><stop offset="0.005" stop-color="#fafaff"/><stop offset="0.010" stop-color="#fefeff"/><stop offset="0.011" stop-color="#fff"/><stop offset="0.017" stop-color="#fffafa"/><stop offset="0.024" stop-color="#fff4f4"/><stop offset="0.033" stop-color="#ffeaea"/><stop offset="0.043" stop-color="#ffdede"/><stop offset="0.056" stop-color="#ffd1d1"/><stop offset="0.070" stop-color="#ffc6c6"/><stop offset="0.087" stop-color="#ffb8b8"/><stop offset="0.108" stop-color="#ffb0b0"/><stop offset="0.132" stop-color="#faa"/><stop offset="0.160" stop-color="#ffa7a7"/><stop offset="0.191" stop-color="#ffa4a4"/><stop offset="0.233" stop-color="#ffa1a1"/><stop offset="0.278" stop-color="#ff9f9f"/><stop offset="0.330" stop-color="#ffa4a4"/><stop offset="0.383" stop-color="#ffa7a7"/><stop offset="0.452" stop-color="#ff9c9c"/><stop offset="0.522" stop-color="#ff9696"/><stop offset="0.609" stop-color="#ff9292"/><stop offset="0.696" stop-color="#ff9191"/><stop offset="0.783" stop-color="#ff9393"/><stop offset="0.870" stop-color="#ff9696"/><stop offset="0.939" stop-color="#f99"/><stop offset="1.000" stop-color="#ff9f9f"/></linearGradient>
<linearGradient id="b67" gradientUnits="userSpaceOnUse" x1="0" y1="755.0" x2="0" y2="1330.0"><stop offset="0.000" stop-color="#f7f7ff"/><stop offset="0.005" stop-color="#f9f9ff"/><stop offset="0.010" stop-color="#fdfdff"/><stop offset="0.014" stop-color="#fff"/><stop offset="0.017" stop-color="#fffcfc"/><stop offset="0.024" stop-color="#fff7f7"/><stop offset="0.033" stop-color="#fee"/><stop offset="0.043" stop-color="#ffe3e3"/><stop offset="0.056" stop-color="#ffd7d7"/><stop offset="0.070" stop-color="#ffcdcd"/><stop offset="0.087" stop-color="#ffc2c2"/><stop offset="0.108" stop-color="#ffbaba"/><stop offset="0.132" stop-color="#ffb4b4"/><stop offset="0.160" stop-color="#ffb1b1"/><stop offset="0.191" stop-color="#ffaeae"/><stop offset="0.233" stop-color="#ffabab"/><stop offset="0.278" stop-color="#ffa8a8"/><stop offset="0.330" stop-color="#ffadad"/><stop offset="0.383" stop-color="#ffb0b0"/><stop offset="0.452" stop-color="#ffa5a5"/><stop offset="0.522" stop-color="#ff9f9f"/><stop offset="0.609" stop-color="#ff9c9c"/><stop offset="0.696" stop-color="#ff9a9a"/><stop offset="0.783" stop-color="#ff9b9b"/><stop offset="0.870" stop-color="#ff9e9e"/><stop offset="0.939" stop-color="#ffa2a2"/><stop offset="1.000" stop-color="#ffa8a8"/></linearGradient>
<linearGradient id="b68" gradientUnits="userSpaceOnUse" x1="0" y1="755.0" x2="0" y2="1330.0"><stop offset="0.000" stop-color="#f7f7ff"/><stop offset="0.005" stop-color="#f8f8ff"/><stop offset="0.010" stop-color="#fbfbff"/><stop offset="0.016" stop-color="#fff"/><stop offset="0.017" stop-color="#fffefe"/><stop offset="0.024" stop-color="#fffafa"/><stop offset="0.033" stop-color="#fff1f1"/><stop offset="0.043" stop-color="#ffe8e8"/><stop offset="0.056" stop-color="#fdd"/><stop offset="0.070" stop-color="#ffd5d5"/><stop offset="0.087" stop-color="#ffcbcb"/><stop offset="0.108" stop-color="#ffc4c4"/><stop offset="0.132" stop-color="#ffbebe"/><stop offset="0.160" stop-color="#ffbcbc"/><stop offset="0.191" stop-color="#ffb8b8"/><stop offset="0.233" stop-color="#ffb4b4"/><stop offset="0.278" stop-color="#ffb1b1"/><stop offset="0.330" stop-color="#ffb6b6"/><stop offset="0.383" stop-color="#ffb9b9"/><stop offset="0.452" stop-color="#ffafaf"/><stop offset="0.522" stop-color="#ffa9a9"/><stop offset="0.609" stop-color="#ffa7a7"/><stop offset="0.696" stop-color="#ffa5a5"/><stop offset="0.783" stop-color="#ffa5a5"/><stop offset="0.870" stop-color="#ffa7a7"/><stop offset="0.939" stop-color="#ffabab"/><stop offset="1.000" stop-color="#ffb3b3"/></linearGradient>
<linearGradient id="b69" gradientUnits="userSpaceOnUse" x1="0" y1="755.0" x2="0" y2="1330.0"><stop offset="0.000" stop-color="#f6f6ff"/><stop offset="0.005" stop-color="#f7f7ff"/><stop offset="0.010" stop-color="#fafaff"/><stop offset="0.017" stop-color="#fefeff"/><stop offset="0.020" stop-color="#fff"/><stop offset="0.024" stop-color="#fffdfd"/><stop offset="0.033" stop-color="#fff5f5"/><stop offset="0.043" stop-color="#ffecec"/><stop offset="0.056" stop-color="#ffe3e3"/><stop offset="0.070" stop-color="#ffdcdc"/><stop offset="0.087" stop-color="#ffd4d4"/><stop offset="0.108" stop-color="#ffcece"/><stop offset="0.132" stop-color="#ffc8c8"/><stop offset="0.160" stop-color="#ffc6c6"/><stop offset="0.191" stop-color="#ffc3c3"/><stop offset="0.233" stop-color="#ffbebe"/><stop offset="0.278" stop-color="#fbb"/><stop offset="0.330" stop-color="#ffc0c0"/><stop offset="0.383" stop-color="#ffc3c3"/><stop offset="0.452" stop-color="#ffb8b8"/><stop offset="0.522" stop-color="#ffb3b3"/><stop offset="0.609" stop-color="#ffb1b1"/><stop offset="0.696" stop-color="#ffb0b0"/><stop offset="0.783" stop-color="#ffb0b0"/><stop offset="0.870" stop-color="#ffb2b2"/><stop offset="0.939" stop-color="#ffb6b6"/><stop offset="1.000" stop-color="#ffbfbf"/></linearGradient>
<linearGradient id="b70" gradientUnits="userSpaceOnUse" x1="0" y1="755.0" x2="0" y2="1330.0"><stop offset="0.000" stop-color="#f5f5ff"/><stop offset="0.005" stop-color="#f6f6ff"/><stop offset="0.010" stop-color="#f8f8ff"/><stop offset="0.017" stop-color="#fbfbff"/><stop offset="0.024" stop-color="#fff"/><stop offset="0.025" stop-color="#fff"/><stop offset="0.033" stop-color="#fff9f9"/><stop offset="0.043" stop-color="#fff1f1"/><stop offset="0.056" stop-color="#ffeaea"/><stop offset="0.070" stop-color="#ffe4e4"/><stop offset="0.087" stop-color="#fdd"/><stop offset="0.108" stop-color="#ffd7d7"/><stop offset="0.132" stop-color="#ffd3d3"/><stop offset="0.160" stop-color="#ffd0d0"/><stop offset="0.191" stop-color="#ffcdcd"/><stop offset="0.233" stop-color="#ffc8c8"/><stop offset="0.278" stop-color="#ffc4c4"/><stop offset="0.330" stop-color="#ffc9c9"/><stop offset="0.383" stop-color="#fcc"/><stop offset="0.452" stop-color="#ffc2c2"/><stop offset="0.522" stop-color="#ffbdbd"/><stop offset="0.609" stop-color="#ffbcbc"/><stop offset="0.696" stop-color="#ffbaba"/><stop offset="0.783" stop-color="#ffbaba"/><stop offset="0.870" stop-color="#ffbcbc"/><stop offset="0.939" stop-color="#ffc0c0"/><stop offset="1.000" stop-color="#ffc9c9"/></linearGradient>
<linearGradient id="b71" gradientUnits="userSpaceOnUse" x1="0" y1="755.0" x2="0" y2="1330.0"><stop offset="0.000" stop-color="#f4f4ff"/><stop offset="0.005" stop-color="#f4f4ff"/><stop offset="0.010" stop-color="#f6f6ff"/><stop offset="0.017" stop-color="#f9f9ff"/><stop offset="0.024" stop-color="#fcfcff"/><stop offset="0.030" stop-color="#fff"/><stop offset="0.033" stop-color="#fffefe"/><stop offset="0.043" stop-color="#fff7f7"/><stop offset="0.056" stop-color="#fff1f1"/><stop offset="0.070" stop-color="#ffecec"/><stop offset="0.087" stop-color="#ffe6e6"/><stop offset="0.108" stop-color="#ffe1e1"/><stop offset="0.132" stop-color="#fdd"/><stop offset="0.160" stop-color="#ffdada"/><stop offset="0.191" stop-color="#ffd7d7"/><stop offset="0.233" stop-color="#ffd1d1"/><stop offset="0.278" stop-color="#ffcdcd"/><stop offset="0.330" stop-color="#ffd2d2"/><stop offset="0.383" stop-color="#ffd5d5"/><stop offset="0.452" stop-color="#fcc"/><stop offset="0.522" stop-color="#ffc7c7"/><stop offset="0.609" stop-color="#ffc6c6"/><stop offset="0.696" stop-color="#ffc5c5"/><stop offset="0.783" stop-color="#ffc4c4"/><stop offset="0.870" stop-color="#ffc6c6"/><stop offset="0.939" stop-color="#ffcaca"/><stop offset="1.000" stop-color="#ffd0d0"/></linearGradient>
<linearGradient id="b72" gradientUnits="userSpaceOnUse" x1="0" y1="755.0" x2="0" y2="1330.0"><stop offset="0.000" stop-color="#f2f2ff"/><stop offset="0.005" stop-color="#f3f3ff"/><stop offset="0.010" stop-color="#f4f4ff"/><stop offset="0.017" stop-color="#f6f6ff"/><stop offset="0.024" stop-color="#f8f8ff"/><stop offset="0.033" stop-color="#fcfcff"/><stop offset="0.041" stop-color="#fff"/><stop offset="0.043" stop-color="#fffefe"/><stop offset="0.056" stop-color="#fff9f9"/><stop offset="0.070" stop-color="#fff4f4"/><stop offset="0.087" stop-color="#ffefef"/><stop offset="0.108" stop-color="#ffebeb"/><stop offset="0.132" stop-color="#ffe7e7"/><stop offset="0.160" stop-color="#ffe3e3"/><stop offset="0.191" stop-color="#ffe2e2"/><stop offset="0.233" stop-color="#ffdbdb"/><stop offset="0.278" stop-color="#ffd6d6"/><stop offset="0.330" stop-color="#ffdcdc"/><stop offset="0.383" stop-color="#ffdfdf"/><stop offset="0.452" stop-color="#ffd5d5"/><stop offset="0.522" stop-color="#ffd1d1"/><stop offset="0.609" stop-color="#ffd1d1"/><stop offset="0.696" stop-color="#ffcfcf"/><stop offset="0.783" stop-color="#ffcece"/><stop offset="0.870" stop-color="#ffcfcf"/><stop offset="0.939" stop-color="#ffd1d1"/><stop offset="1.000" stop-color="#ffd7d7"/></linearGradient>
<linearGradient id="b73" gradientUnits="userSpaceOnUse" x1="0" y1="755.0" x2="0" y2="1330.0"><stop offset="0.000" stop-color="#f1f1ff"/><stop offset="0.005" stop-color="#f2f2ff"/><stop offset="0.010" stop-color="#f3f3ff"/><stop offset="0.017" stop-color="#f4f4ff"/><stop offset="0.024" stop-color="#f6f6ff"/><stop offset="0.033" stop-color="#f7f7ff"/><stop offset="0.043" stop-color="#fbfbff"/><stop offset="0.056" stop-color="#fefeff"/><stop offset="0.058" stop-color="#fff"/><stop offset="0.070" stop-color="#fffcfc"/><stop offset="0.087" stop-color="#fff8f8"/><stop offset="0.108" stop-color="#fff4f4"/><stop offset="0.132" stop-color="#fff1f1"/><stop offset="0.160" stop-color="#ffecec"/><stop offset="0.191" stop-color="#ffebeb"/><stop offset="0.233" stop-color="#ffe5e5"/><stop offset="0.278" stop-color="#ffe0e0"/><stop offset="0.330" stop-color="#ffe4e4"/><stop offset="0.383" stop-color="#ffe7e7"/><stop offset="0.452" stop-color="#ffdfdf"/><stop offset="0.522" stop-color="#ffdbdb"/><stop offset="0.609" stop-color="#ffdbdb"/><stop offset="0.696" stop-color="#ffd9d9"/><stop offset="0.783" stop-color="#ffd8d8"/><stop offset="0.870" stop-color="#ffd7d7"/><stop offset="0.939" stop-color="#ffd8d8"/><stop offset="1.000" stop-color="#fdd"/></linearGradient>
<linearGradient id="b74" gradientUnits="userSpaceOnUse" x1="0" y1="755.0" x2="0" y2="1330.0"><stop offset="0.000" stop-color="#f0f0ff"/><stop offset="0.005" stop-color="#f0f0ff"/><stop offset="0.010" stop-color="#f1f1ff"/><stop offset="0.017" stop-color="#f2f2ff"/><stop offset="0.024" stop-color="#f4f4ff"/><stop offset="0.033" stop-color="#f5f5ff"/><stop offset="0.043" stop-color="#f8f8ff"/><stop offset="0.056" stop-color="#fbfbff"/><stop offset="0.069" stop-color="#fff"/><stop offset="0.070" stop-color="#fff"/><stop offset="0.087" stop-color="#fffbfb"/><stop offset="0.108" stop-color="#fff8f8"/><stop offset="0.132" stop-color="#fff5f5"/><stop offset="0.160" stop-color="#fff1f1"/><stop offset="0.191" stop-color="#fff0f0"/><stop offset="0.233" stop-color="#ffebeb"/><stop offset="0.278" stop-color="#ffe7e7"/><stop offset="0.330" stop-color="#ffeaea"/><stop offset="0.383" stop-color="#ffecec"/><stop offset="0.452" stop-color="#ffe4e4"/><stop offset="0.522" stop-color="#ffe1e1"/><stop offset="0.609" stop-color="#ffe1e1"/><stop offset="0.696" stop-color="#ffe0e0"/><stop offset="0.783" stop-color="#ffdede"/><stop offset="0.870" stop-color="#fdd"/><stop offset="0.939" stop-color="#ffdede"/><stop offset="1.000" stop-color="#ffe4e4"/></linearGradient>
<linearGradient id="b75" gradientUnits="userSpaceOnUse" x1="0" y1="755.0" x2="0" y2="1330.0"><stop offset="0.000" stop-color="#eef"/><stop offset="0.005" stop-color="#eef"/><stop offset="0.010" stop-color="#efefff"/><stop offset="0.017" stop-color="#f1f1ff"/><stop offset="0.024" stop-color="#f2f2ff"/><stop offset="0.033" stop-color="#f3f3ff"/><stop offset="0.043" stop-color="#f6f6ff"/><stop offset="0.056" stop-color="#f8f8ff"/><stop offset="0.070" stop-color="#fcfcff"/><stop offset="0.087" stop-color="#fff"/><stop offset="0.088" stop-color="#fff"/><stop offset="0.108" stop-color="#fffcfc"/><stop offset="0.132" stop-color="#fff9f9"/><stop offset="0.160" stop-color="#fff5f5"/><stop offset="0.191" stop-color="#fff5f5"/><stop offset="0.233" stop-color="#fff1f1"/><stop offset="0.278" stop-color="#ffeded"/><stop offset="0.330" stop-color="#fff0f0"/><stop offset="0.383" stop-color="#fff2f2"/><stop offset="0.452" stop-color="#ffeaea"/><stop offset="0.522" stop-color="#ffe6e6"/><stop offset="0.609" stop-color="#ffe7e7"/><stop offset="0.696" stop-color="#ffe5e5"/><stop offset="0.783" stop-color="#ffe4e4"/><stop offset="0.870" stop-color="#ffe3e3"/><stop offset="0.939" stop-color="#ffe4e4"/><stop offset="1.000" stop-color="#ffebeb"/></linearGradient>
<linearGradient id="b76" gradientUnits="userSpaceOnUse" x1="0" y1="755.0" x2="0" y2="1330.0"><stop offset="0.000" stop-color="#ededff"/><stop offset="0.005" stop-color="#ededff"/><stop offset="0.010" stop-color="#eef"/><stop offset="0.017" stop-color="#efefff"/><stop offset="0.024" stop-color="#f0f0ff"/><stop offset="0.033" stop-color="#f1f1ff"/><stop offset="0.043" stop-color="#f3f3ff"/><stop offset="0.056" stop-color="#f6f6ff"/><stop offset="0.070" stop-color="#f8f8ff"/><stop offset="0.087" stop-color="#fbfbff"/><stop offset="0.108" stop-color="#fefeff"/><stop offset="0.118" stop-color="#fff"/><stop offset="0.132" stop-color="#fffdfd"/><stop offset="0.160" stop-color="#fffafa"/><stop offset="0.191" stop-color="#fffbfb"/><stop offset="0.233" stop-color="#fff7f7"/><stop offset="0.278" stop-color="#fff3f3"/><stop offset="0.330" stop-color="#fff6f6"/><stop offset="0.383" stop-color="#fff7f7"/><stop offset="0.452" stop-color="#ffefef"/><stop offset="0.522" stop-color="#ffecec"/><stop offset="0.609" stop-color="#ffecec"/><stop offset="0.696" stop-color="#ffebeb"/><stop offset="0.783" stop-color="#ffe9e9"/><stop offset="0.870" stop-color="#ffe9e9"/><stop offset="0.939" stop-color="#ffebeb"/><stop offset="1.000" stop-color="#fff1f1"/></linearGradient>
<linearGradient id="b77" gradientUnits="userSpaceOnUse" x1="0" y1="755.0" x2="0" y2="1330.0"><stop offset="0.000" stop-color="#ebebff"/><stop offset="0.005" stop-color="#ebebff"/><stop offset="0.010" stop-color="#ececff"/><stop offset="0.017" stop-color="#ededff"/><stop offset="0.024" stop-color="#eef"/><stop offset="0.033" stop-color="#efefff"/><stop offset="0.043" stop-color="#f1f1ff"/><stop offset="0.056" stop-color="#f3f3ff"/><stop offset="0.070" stop-color="#f5f5ff"/><stop offset="0.087" stop-color="#f7f7ff"/><stop offset="0.108" stop-color="#fafaff"/><stop offset="0.132" stop-color="#fdfdff"/><stop offset="0.152" stop-color="#fff"/><stop offset="0.160" stop-color="#fffefe"/><stop offset="0.177" stop-color="#fff"/><stop offset="0.191" stop-color="#fefeff"/><stop offset="0.200" stop-color="#fff"/><stop offset="0.233" stop-color="#fffcfc"/><stop offset="0.278" stop-color="#fffafa"/><stop offset="0.330" stop-color="#fffcfc"/><stop offset="0.383" stop-color="#fffcfc"/><stop offset="0.452" stop-color="#fff4f4"/><stop offset="0.522" stop-color="#fff1f1"/><stop offset="0.609" stop-color="#fff2f2"/><stop offset="0.696" stop-color="#fff1f1"/><stop offset="0.783" stop-color="#ffefef"/><stop offset="0.870" stop-color="#fee"/><stop offset="0.939" stop-color="#fff0f0"/><stop offset="1.000" stop-color="#fff6f6"/></linearGradient>
<linearGradient id="b78" gradientUnits="userSpaceOnUse" x1="0" y1="755.0" x2="0" y2="1330.0"><stop offset="0.000" stop-color="#eaeaff"/><stop offset="0.005" stop-color="#eaeaff"/><stop offset="0.010" stop-color="#ebebff"/><stop offset="0.017" stop-color="#ebebff"/><stop offset="0.024" stop-color="#ececff"/><stop offset="0.033" stop-color="#ececff"/><stop offset="0.043" stop-color="#eef"/><stop offset="0.056" stop-color="#efefff"/><stop offset="0.070" stop-color="#f1f1ff"/><stop offset="0.087" stop-color="#f3f3ff"/><stop offset="0.108" stop-color="#f5f5ff"/><stop offset="0.132" stop-color="#f8f8ff"/><stop offset="0.160" stop-color="#fbfbff"/><stop offset="0.191" stop-color="#f9f9ff"/><stop offset="0.233" stop-color="#fcfcff"/><stop offset="0.278" stop-color="#fefeff"/><stop offset="0.330" stop-color="#fdfdff"/><stop offset="0.383" stop-color="#fdfdff"/><stop offset="0.402" stop-color="#fff"/><stop offset="0.452" stop-color="#fff9f9"/><stop offset="0.522" stop-color="#fff7f7"/><stop offset="0.609" stop-color="#fff8f8"/><stop offset="0.696" stop-color="#fff7f7"/><stop offset="0.783" stop-color="#fff4f4"/><stop offset="0.870" stop-color="#fff3f3"/><stop offset="0.939" stop-color="#fff3f3"/><stop offset="1.000" stop-color="#fff8f8"/></linearGradient>
<linearGradient id="b79" gradientUnits="userSpaceOnUse" x1="0" y1="755.0" x2="0" y2="1330.0"><stop offset="0.000" stop-color="#eaeaff"/><stop offset="0.005" stop-color="#eaeaff"/><stop offset="0.010" stop-color="#e9e9ff"/><stop offset="0.017" stop-color="#e9e9ff"/><stop offset="0.024" stop-color="#e9e9ff"/><stop offset="0.033" stop-color="#e9e9ff"/><stop offset="0.043" stop-color="#eaeaff"/><stop offset="0.056" stop-color="#ebebff"/><stop offset="0.070" stop-color="#ededff"/><stop offset="0.087" stop-color="#eef"/><stop offset="0.108" stop-color="#f0f0ff"/><stop offset="0.132" stop-color="#f2f2ff"/><stop offset="0.160" stop-color="#f5f5ff"/><stop offset="0.191" stop-color="#f4f4ff"/><stop offset="0.233" stop-color="#f6f6ff"/><stop offset="0.278" stop-color="#f8f8ff"/><stop offset="0.330" stop-color="#f7f7ff"/><stop offset="0.383" stop-color="#f7f7ff"/><stop offset="0.445" stop-color="#fff"/><stop offset="0.452" stop-color="#fffefe"/><stop offset="0.522" stop-color="#fffbfb"/><stop offset="0.609" stop-color="#fffbfb"/><stop offset="0.696" stop-color="#fffafa"/><stop offset="0.783" stop-color="#fff8f8"/><stop offset="0.870" stop-color="#fff7f7"/><stop offset="0.939" stop-color="#fff7f7"/><stop offset="1.000" stop-color="#fffafa"/></linearGradient>
<linearGradient id="b80" gradientUnits="userSpaceOnUse" x1="0" y1="755.0" x2="0" y2="1330.0"><stop offset="0.000" stop-color="#e9e9ff"/><stop offset="0.005" stop-color="#e9e9ff"/><stop offset="0.010" stop-color="#e8e8ff"/><stop offset="0.017" stop-color="#e8e8ff"/><stop offset="0.024" stop-color="#e7e7ff"/><stop offset="0.033" stop-color="#e6e6ff"/><stop offset="0.043" stop-color="#e7e7ff"/><stop offset="0.056" stop-color="#e8e8ff"/><stop offset="0.070" stop-color="#e9e9ff"/><stop offset="0.087" stop-color="#eaeaff"/><stop offset="0.108" stop-color="#ebebff"/><stop offset="0.132" stop-color="#ededff"/><stop offset="0.160" stop-color="#efefff"/><stop offset="0.191" stop-color="#eef"/><stop offset="0.233" stop-color="#f1f1ff"/><stop offset="0.278" stop-color="#f2f2ff"/><stop offset="0.330" stop-color="#f2f2ff"/><stop offset="0.383" stop-color="#f2f2ff"/><stop offset="0.452" stop-color="#fbfbff"/><stop offset="0.522" stop-color="#fefeff"/><stop offset="0.555" stop-color="#fff"/><stop offset="0.609" stop-color="#fffefe"/><stop offset="0.696" stop-color="#fffdfd"/><stop offset="0.783" stop-color="#fffcfc"/><stop offset="0.870" stop-color="#fffbfb"/><stop offset="0.939" stop-color="#fffbfb"/><stop offset="1.000" stop-color="#fffcfc"/></linearGradient>
<linearGradient id="b81" gradientUnits="userSpaceOnUse" x1="0" y1="755.0" x2="0" y2="1330.0"><stop offset="0.000" stop-color="#e8e8ff"/><stop offset="0.005" stop-color="#e8e8ff"/><stop offset="0.010" stop-color="#e7e7ff"/><stop offset="0.017" stop-color="#e6e6ff"/><stop offset="0.024" stop-color="#e4e4ff"/><stop offset="0.033" stop-color="#e3e3ff"/><stop offset="0.043" stop-color="#e3e3ff"/><stop offset="0.056" stop-color="#e4e4ff"/><stop offset="0.070" stop-color="#e5e5ff"/><stop offset="0.087" stop-color="#e6e6ff"/><stop offset="0.108" stop-color="#e7e7ff"/><stop offset="0.132" stop-color="#e8e8ff"/><stop offset="0.160" stop-color="#e9e9ff"/><stop offset="0.191" stop-color="#e9e9ff"/><stop offset="0.233" stop-color="#ebebff"/><stop offset="0.278" stop-color="#ededff"/><stop offset="0.330" stop-color="#ececff"/><stop offset="0.383" stop-color="#ededff"/><stop offset="0.452" stop-color="#f5f5ff"/><stop offset="0.522" stop-color="#f9f9ff"/><stop offset="0.609" stop-color="#fcfcff"/><stop offset="0.696" stop-color="#fdfdff"/><stop offset="0.783" stop-color="#fdfdff"/><stop offset="0.870" stop-color="#fefeff"/><stop offset="0.918" stop-color="#fff"/><stop offset="0.939" stop-color="#fff"/><stop offset="1.000" stop-color="#fffefe"/></linearGradient>
<linearGradient id="b82" gradientUnits="userSpaceOnUse" x1="0" y1="755.0" x2="0" y2="1330.0"><stop offset="0.000" stop-color="#e8e8ff"/><stop offset="0.005" stop-color="#e7e7ff"/><stop offset="0.010" stop-color="#e6e6ff"/><stop offset="0.017" stop-color="#e4e4ff"/><stop offset="0.024" stop-color="#e2e2ff"/><stop offset="0.033" stop-color="#e0e0ff"/><stop offset="0.043" stop-color="#dfdfff"/><stop offset="0.056" stop-color="#e0e0ff"/><stop offset="0.070" stop-color="#e0e0ff"/><stop offset="0.087" stop-color="#e1e1ff"/><stop offset="0.108" stop-color="#e2e2ff"/><stop offset="0.132" stop-color="#e3e3ff"/><stop offset="0.160" stop-color="#e4e4ff"/><stop offset="0.191" stop-color="#e4e4ff"/><stop offset="0.233" stop-color="#e5e5ff"/><stop offset="0.278" stop-color="#e7e7ff"/><stop offset="0.330" stop-color="#e7e7ff"/><stop offset="0.383" stop-color="#e8e8ff"/><stop offset="0.452" stop-color="#f0f0ff"/><stop offset="0.522" stop-color="#f4f4ff"/><stop offset="0.609" stop-color="#f7f7ff"/><stop offset="0.696" stop-color="#f7f7ff"/><stop offset="0.783" stop-color="#f8f8ff"/><stop offset="0.870" stop-color="#fafaff"/><stop offset="0.939" stop-color="#fbfbff"/><stop offset="1.000" stop-color="#fdfdff"/></linearGradient>
<linearGradient id="b83" gradientUnits="userSpaceOnUse" x1="0" y1="755.0" x2="0" y2="1330.0"><stop offset="0.000" stop-color="#e7e7ff"/><stop offset="0.005" stop-color="#e6e6ff"/><stop offset="0.010" stop-color="#e4e4ff"/><stop offset="0.017" stop-color="#e2e2ff"/><stop offset="0.024" stop-color="#dfdfff"/><stop offset="0.033" stop-color="#dcdcff"/><stop offset="0.043" stop-color="#dcdcff"/><stop offset="0.056" stop-color="#dcdcff"/><stop offset="0.070" stop-color="#ddf"/><stop offset="0.087" stop-color="#ddf"/><stop offset="0.108" stop-color="#ddf"/><stop offset="0.132" stop-color="#dedeff"/><stop offset="0.160" stop-color="#dfdfff"/><stop offset="0.191" stop-color="#dfdfff"/><stop offset="0.233" stop-color="#e0e0ff"/><stop offset="0.278" stop-color="#e1e1ff"/><stop offset="0.330" stop-color="#e2e2ff"/><stop offset="0.383" stop-color="#e3e3ff"/><stop offset="0.452" stop-color="#eaeaff"/><stop offset="0.522" stop-color="#eef"/><stop offset="0.609" stop-color="#f1f1ff"/><stop offset="0.696" stop-color="#f2f2ff"/><stop offset="0.783" stop-color="#f2f2ff"/><stop offset="0.870" stop-color="#f5f5ff"/><stop offset="0.939" stop-color="#f7f7ff"/><stop offset="1.000" stop-color="#f9f9ff"/></linearGradient>
<linearGradient id="b84" gradientUnits="userSpaceOnUse" x1="0" y1="755.0" x2="0" y2="1330.0"><stop offset="0.000" stop-color="#e6e6ff"/><stop offset="0.005" stop-color="#e5e5ff"/><stop offset="0.010" stop-color="#e3e3ff"/><stop offset="0.017" stop-color="#e0e0ff"/><stop offset="0.024" stop-color="#ddf"/><stop offset="0.033" stop-color="#d9d9ff"/><stop offset="0.043" stop-color="#d9d9ff"/><stop offset="0.056" stop-color="#d9d9ff"/><stop offset="0.070" stop-color="#d9d9ff"/><stop offset="0.087" stop-color="#d9d9ff"/><stop offset="0.108" stop-color="#dadaff"/><stop offset="0.132" stop-color="#dadaff"/><stop offset="0.160" stop-color="#dadaff"/><stop offset="0.191" stop-color="#dbdbff"/><stop offset="0.233" stop-color="#dcdcff"/><stop offset="0.278" stop-color="#ddf"/><stop offset="0.330" stop-color="#ddf"/><stop offset="0.383" stop-color="#dfdfff"/><stop offset="0.452" stop-color="#e5e5ff"/><stop offset="0.522" stop-color="#e9e9ff"/><stop offset="0.609" stop-color="#ececff"/><stop offset="0.696" stop-color="#ededff"/><stop offset="0.783" stop-color="#ededff"/><stop offset="0.870" stop-color="#f1f1ff"/><stop offset="0.939" stop-color="#f3f3ff"/><stop offset="1.000" stop-color="#f4f4ff"/></linearGradient>
<linearGradient id="b85" gradientUnits="userSpaceOnUse" x1="0" y1="755.0" x2="0" y2="1330.0"><stop offset="0.000" stop-color="#e5e5ff"/><stop offset="0.005" stop-color="#e4e4ff"/><stop offset="0.010" stop-color="#e1e1ff"/><stop offset="0.017" stop-color="#dedeff"/><stop offset="0.024" stop-color="#dbdbff"/><stop offset="0.033" stop-color="#d6d6ff"/><stop offset="0.043" stop-color="#d6d6ff"/><stop offset="0.056" stop-color="#d6d6ff"/><stop offset="0.070" stop-color="#d6d6ff"/><stop offset="0.087" stop-color="#d6d6ff"/><stop offset="0.108" stop-color="#d6d6ff"/><stop offset="0.132" stop-color="#d6d6ff"/><stop offset="0.160" stop-color="#d6d6ff"/><stop offset="0.191" stop-color="#d6d6ff"/><stop offset="0.233" stop-color="#d8d8ff"/><stop offset="0.278" stop-color="#d9d9ff"/><stop offset="0.330" stop-color="#d9d9ff"/><stop offset="0.383" stop-color="#dadaff"/><stop offset="0.452" stop-color="#e0e0ff"/><stop offset="0.522" stop-color="#e3e3ff"/><stop offset="0.609" stop-color="#e7e7ff"/><stop offset="0.696" stop-color="#e8e8ff"/><stop offset="0.783" stop-color="#e8e8ff"/><stop offset="0.870" stop-color="#ececff"/><stop offset="0.939" stop-color="#efefff"/><stop offset="1.000" stop-color="#f0f0ff"/></linearGradient>
<linearGradient id="b86" gradientUnits="userSpaceOnUse" x1="0" y1="755.0" x2="0" y2="1330.0"><stop offset="0.000" stop-color="#e4e4ff"/><stop offset="0.005" stop-color="#e3e3ff"/><stop offset="0.010" stop-color="#e0e0ff"/><stop offset="0.017" stop-color="#dcdcff"/><stop offset="0.024" stop-color="#d8d8ff"/><stop offset="0.033" stop-color="#d3d3ff"/><stop offset="0.043" stop-color="#d2d2ff"/><stop offset="0.056" stop-color="#d2d2ff"/><stop offset="0.070" stop-color="#d2d2ff"/><stop offset="0.087" stop-color="#d2d2ff"/><stop offset="0.108" stop-color="#d2d2ff"/><stop offset="0.132" stop-color="#d2d2ff"/><stop offset="0.160" stop-color="#d2d2ff"/><stop offset="0.191" stop-color="#d2d2ff"/><stop offset="0.233" stop-color="#d3d3ff"/><stop offset="0.278" stop-color="#d5d5ff"/><stop offset="0.330" stop-color="#d5d5ff"/><stop offset="0.383" stop-color="#d6d6ff"/><stop offset="0.452" stop-color="#dbdbff"/><stop offset="0.522" stop-color="#dfdfff"/><stop offset="0.609" stop-color="#e2e2ff"/><stop offset="0.696" stop-color="#e3e3ff"/><stop offset="0.783" stop-color="#e3e3ff"/><stop offset="0.870" stop-color="#e8e8ff"/><stop offset="0.939" stop-color="#ebebff"/><stop offset="1.000" stop-color="#ececff"/></linearGradient>
<linearGradient id="b87" gradientUnits="userSpaceOnUse" x1="0" y1="755.0" x2="0" y2="1330.0"><stop offset="0.000" stop-color="#e4e4ff"/><stop offset="0.005" stop-color="#e3e3ff"/><stop offset="0.010" stop-color="#dfdfff"/><stop offset="0.017" stop-color="#dbdbff"/><stop offset="0.024" stop-color="#d7d7ff"/><stop offset="0.033" stop-color="#d1d1ff"/><stop offset="0.043" stop-color="#d0d0ff"/><stop offset="0.056" stop-color="#d0d0ff"/><stop offset="0.070" stop-color="#d0d0ff"/><stop offset="0.087" stop-color="#d0d0ff"/><stop offset="0.108" stop-color="#cfcfff"/><stop offset="0.132" stop-color="#cfcfff"/><stop offset="0.160" stop-color="#cfcfff"/><stop offset="0.191" stop-color="#cfcfff"/><stop offset="0.233" stop-color="#d0d0ff"/><stop offset="0.278" stop-color="#d1d1ff"/><stop offset="0.330" stop-color="#d2d2ff"/><stop offset="0.383" stop-color="#d5d5ff"/><stop offset="0.452" stop-color="#d9d9ff"/><stop offset="0.522" stop-color="#ddf"/><stop offset="0.609" stop-color="#e1e1ff"/><stop offset="0.696" stop-color="#e1e1ff"/><stop offset="0.783" stop-color="#e2e2ff"/><stop offset="0.870" stop-color="#e7e7ff"/><stop offset="0.939" stop-color="#eaeaff"/><stop offset="1.000" stop-color="#eaeaff"/></linearGradient>
<linearGradient id="b88" gradientUnits="userSpaceOnUse" x1="0" y1="755.0" x2="0" y2="1330.0"><stop offset="0.000" stop-color="#e4e4ff"/><stop offset="0.005" stop-color="#e3e3ff"/><stop offset="0.010" stop-color="#dfdfff"/><stop offset="0.017" stop-color="#dadaff"/><stop offset="0.024" stop-color="#d5d5ff"/><stop offset="0.033" stop-color="#cfcfff"/><stop offset="0.043" stop-color="#cdcdff"/><stop offset="0.056" stop-color="#cdcdff"/><stop offset="0.070" stop-color="#cdcdff"/><stop offset="0.087" stop-color="#cdcdff"/><stop offset="0.108" stop-color="#cdcdff"/><stop offset="0.132" stop-color="#ccf"/><stop offset="0.160" stop-color="#ccf"/><stop offset="0.191" stop-color="#ccf"/><stop offset="0.233" stop-color="#ccf"/><stop offset="0.278" stop-color="#cdcdff"/><stop offset="0.330" stop-color="#cfcfff"/><stop offset="0.383" stop-color="#d3d3ff"/><stop offset="0.452" stop-color="#d8d8ff"/><stop offset="0.522" stop-color="#dcdcff"/><stop offset="0.609" stop-color="#e0e0ff"/><stop offset="0.696" stop-color="#e1e1ff"/><stop offset="0.783" stop-color="#e1e1ff"/><stop offset="0.870" stop-color="#e6e6ff"/><stop offset="0.939" stop-color="#e9e9ff"/><stop offset="1.000" stop-color="#eaeaff"/></linearGradient>
<linearGradient id="b89" gradientUnits="userSpaceOnUse" x1="0" y1="755.0" x2="0" y2="1330.0"><stop offset="0.000" stop-color="#e4e4ff"/><stop offset="0.005" stop-color="#e2e2ff"/><stop offset="0.010" stop-color="#dedeff"/><stop offset="0.017" stop-color="#d9d9ff"/><stop offset="0.024" stop-color="#d3d3ff"/><stop offset="0.033" stop-color="#ccf"/><stop offset="0.043" stop-color="#cbcbff"/><stop offset="0.056" stop-color="#cacaff"/><stop offset="0.070" stop-color="#cacaff"/><stop offset="0.087" stop-color="#cacaff"/><stop offset="0.108" stop-color="#cacaff"/><stop offset="0.132" stop-color="#c9c9ff"/><stop offset="0.160" stop-color="#c9c9ff"/><stop offset="0.191" stop-color="#c9c9ff"/><stop offset="0.233" stop-color="#c9c9ff"/><stop offset="0.278" stop-color="#cacaff"/><stop offset="0.330" stop-color="#cdcdff"/><stop offset="0.383" stop-color="#d1d1ff"/><stop offset="0.452" stop-color="#d6d6ff"/><stop offset="0.522" stop-color="#dadaff"/><stop offset="0.609" stop-color="#dfdfff"/><stop offset="0.696" stop-color="#e0e0ff"/><stop offset="0.783" stop-color="#e0e0ff"/><stop offset="0.870" stop-color="#e5e5ff"/><stop offset="0.939" stop-color="#e8e8ff"/><stop offset="1.000" stop-color="#e9e9ff"/></linearGradient>
<linearGradient id="b90" gradientUnits="userSpaceOnUse" x1="0" y1="755.0" x2="0" y2="1330.0"><stop offset="0.000" stop-color="#e4e4ff"/><stop offset="0.005" stop-color="#e2e2ff"/><stop offset="0.010" stop-color="#dedeff"/><stop offset="0.017" stop-color="#d7d7ff"/><stop offset="0.024" stop-color="#d1d1ff"/><stop offset="0.033" stop-color="#cacaff"/><stop offset="0.043" stop-color="#c8c8ff"/><stop offset="0.056" stop-color="#c8c8ff"/><stop offset="0.070" stop-color="#c7c7ff"/><stop offset="0.087" stop-color="#c7c7ff"/><stop offset="0.108" stop-color="#c7c7ff"/><stop offset="0.132" stop-color="#c6c6ff"/><stop offset="0.160" stop-color="#c6c6ff"/><stop offset="0.191" stop-color="#c5c5ff"/><stop offset="0.233" stop-color="#c7c7ff"/><stop offset="0.278" stop-color="#c8c8ff"/><stop offset="0.330" stop-color="#cbcbff"/><stop offset="0.383" stop-color="#cfcfff"/><stop offset="0.452" stop-color="#d4d4ff"/><stop offset="0.522" stop-color="#d9d9ff"/><stop offset="0.609" stop-color="#dedeff"/><stop offset="0.696" stop-color="#dfdfff"/><stop offset="0.783" stop-color="#e0e0ff"/><stop offset="0.870" stop-color="#e4e4ff"/><stop offset="0.939" stop-color="#e7e7ff"/><stop offset="1.000" stop-color="#e9e9ff"/></linearGradient>
<linearGradient id="b91" gradientUnits="userSpaceOnUse" x1="0" y1="755.0" x2="0" y2="1330.0"><stop offset="0.000" stop-color="#e4e4ff"/><stop offset="0.005" stop-color="#e2e2ff"/><stop offset="0.010" stop-color="#ddf"/><stop offset="0.017" stop-color="#d6d6ff"/><stop offset="0.024" stop-color="#d0d0ff"/><stop offset="0.033" stop-color="#c7c7ff"/><stop offset="0.043" stop-color="#c5c5ff"/><stop offset="0.056" stop-color="#c5c5ff"/><stop offset="0.070" stop-color="#c5c5ff"/><stop offset="0.087" stop-color="#c4c4ff"/><stop offset="0.108" stop-color="#c4c4ff"/><stop offset="0.132" stop-color="#c3c3ff"/><stop offset="0.160" stop-color="#c2c2ff"/><stop offset="0.191" stop-color="#c2c2ff"/><stop offset="0.233" stop-color="#c4c4ff"/><stop offset="0.278" stop-color="#c6c6ff"/><stop offset="0.330" stop-color="#c9c9ff"/><stop offset="0.383" stop-color="#cdcdff"/><stop offset="0.452" stop-color="#d3d3ff"/><stop offset="0.522" stop-color="#d8d8ff"/><stop offset="0.609" stop-color="#dcdcff"/><stop offset="0.696" stop-color="#dedeff"/><stop offset="0.783" stop-color="#dfdfff"/><stop offset="0.870" stop-color="#e3e3ff"/><stop offset="0.939" stop-color="#e6e6ff"/><stop offset="1.000" stop-color="#e8e8ff"/></linearGradient>
<linearGradient id="b92" gradientUnits="userSpaceOnUse" x1="0" y1="755.0" x2="0" y2="1330.0"><stop offset="0.000" stop-color="#e4e4ff"/><stop offset="0.005" stop-color="#e2e2ff"/><stop offset="0.010" stop-color="#ddf"/><stop offset="0.017" stop-color="#d5d5ff"/><stop offset="0.024" stop-color="#ceceff"/><stop offset="0.033" stop-color="#c5c5ff"/><stop offset="0.043" stop-color="#c3c3ff"/><stop offset="0.056" stop-color="#c3c3ff"/><stop offset="0.070" stop-color="#c2c2ff"/><stop offset="0.087" stop-color="#c2c2ff"/><stop offset="0.108" stop-color="#c1c1ff"/><stop offset="0.132" stop-color="#c1c1ff"/><stop offset="0.160" stop-color="#c0c0ff"/><stop offset="0.191" stop-color="#c0c0ff"/><stop offset="0.233" stop-color="#c2c2ff"/><stop offset="0.278" stop-color="#c4c4ff"/><stop offset="0.330" stop-color="#c7c7ff"/><stop offset="0.383" stop-color="#cbcbff"/><stop offset="0.452" stop-color="#d1d1ff"/><stop offset="0.522" stop-color="#d6d6ff"/><stop offset="0.609" stop-color="#dbdbff"/><stop offset="0.696" stop-color="#ddf"/><stop offset="0.783" stop-color="#dfdfff"/><stop offset="0.870" stop-color="#e2e2ff"/><stop offset="0.939" stop-color="#e5e5ff"/><stop offset="1.000" stop-color="#e8e8ff"/></linearGradient>
<linearGradient id="b93" gradientUnits="userSpaceOnUse" x1="0" y1="755.0" x2="0" y2="1330.0"><stop offset="0.000" stop-color="#e4e4ff"/><stop offset="0.005" stop-color="#e2e2ff"/><stop offset="0.010" stop-color="#dcdcff"/><stop offset="0.017" stop-color="#d5d5ff"/><stop offset="0.024" stop-color="#cdcdff"/><stop offset="0.033" stop-color="#c4c4ff"/><stop offset="0.043" stop-color="#c2c2ff"/><stop offset="0.056" stop-color="#c1c1ff"/><stop offset="0.070" stop-color="#c1c1ff"/><stop offset="0.087" stop-color="#c1c1ff"/><stop offset="0.108" stop-color="#c0c0ff"/><stop offset="0.132" stop-color="#bfbfff"/><stop offset="0.160" stop-color="#bfbfff"/><stop offset="0.191" stop-color="#bfbfff"/><stop offset="0.233" stop-color="#c0c0ff"/><stop offset="0.278" stop-color="#c3c3ff"/><stop offset="0.330" stop-color="#c6c6ff"/><stop offset="0.383" stop-color="#cacaff"/><stop offset="0.452" stop-color="#d0d0ff"/><stop offset="0.522" stop-color="#d6d6ff"/><stop offset="0.609" stop-color="#dbdbff"/><stop offset="0.696" stop-color="#ddf"/><stop offset="0.783" stop-color="#dedeff"/><stop offset="0.870" stop-color="#e2e2ff"/><stop offset="0.939" stop-color="#e5e5ff"/><stop offset="1.000" stop-color="#e7e7ff"/></linearGradient>
<linearGradient id="b94" gradientUnits="userSpaceOnUse" x1="0" y1="755.0" x2="0" y2="1330.0"><stop offset="0.000" stop-color="#e4e4ff"/><stop offset="0.005" stop-color="#e2e2ff"/><stop offset="0.010" stop-color="#dcdcff"/><stop offset="0.017" stop-color="#d5d5ff"/><stop offset="0.024" stop-color="#cdcdff"/><stop offset="0.033" stop-color="#c4c4ff"/><stop offset="0.043" stop-color="#c2c2ff"/><stop offset="0.056" stop-color="#c1c1ff"/><stop offset="0.070" stop-color="#c1c1ff"/><stop offset="0.087" stop-color="#c1c1ff"/><stop offset="0.108" stop-color="#c0c0ff"/><stop offset="0.132" stop-color="#bfbfff"/><stop offset="0.160" stop-color="#bfbfff"/><stop offset="0.191" stop-color="#bfbfff"/><stop offset="0.233" stop-color="#c0c0ff"/><stop offset="0.278" stop-color="#c3c3ff"/><stop offset="0.330" stop-color="#c6c6ff"/><stop offset="0.383" stop-color="#cacaff"/><stop offset="0.452" stop-color="#d0d0ff"/><stop offset="0.522" stop-color="#d6d6ff"/><stop offset="0.609" stop-color="#dbdbff"/><stop offset="0.696" stop-color="#ddf"/><stop offset="0.783" stop-color="#dedeff"/><stop offset="0.870" stop-color="#e2e2ff"/><stop offset="0.939" stop-color="#e5e5ff"/><stop offset="1.000" stop-color="#e7e7ff"/></linearGradient>
<clipPath id="clipb"><rect x="148.6" y="755.0" width="1088.8000000000002" height="575.0"/></clipPath>
<filter id="blb" x="-5%" y="-5%" width="110%" height="110%"><feGaussianBlur stdDeviation="4.0 0"/></filter></defs><g clip-path="url(#clipa)"><g filter="url(#bla)"><rect x="124.4" y="66.4" width="12.6" height="571.7" fill="url(#a0)"/><rect x="136.3" y="66.4" width="12.6" height="571.7" fill="url(#a1)"/><rect x="148.3" y="66.4" width="12.6" height="571.7" fill="url(#a2)"/><rect x="160.3" y="66.4" width="12.6" height="571.7" fill="url(#a3)"/><rect x="172.2" y="66.4" width="12.6" height="571.7" fill="url(#a4)"/><rect x="184.2" y="66.4" width="12.6" height="571.7" fill="url(#a5)"/><rect x="196.2" y="66.4" width="12.6" height="571.7" fill="url(#a6)"/><rect x="208.1" y="66.4" width="12.6" height="571.7" fill="url(#a7)"/><rect x="220.1" y="66.4" width="12.6" height="571.7" fill="url(#a8)"/><rect x="232.1" y="66.4" width="12.6" height="571.7" fill="url(#a9)"/><rect x="244.0" y="66.4" width="12.6" height="571.7" fill="url(#a10)"/><rect x="256.0" y="66.4" width="12.6" height="571.7" fill="url(#a11)"/><rect x="267.9" y="66.4" width="12.6" height="571.7" fill="url(#a12)"/><rect x="279.9" y="66.4" width="12.6" height="571.7" fill="url(#a13)"/><rect x="291.9" y="66.4" width="12.6" height="571.7" fill="url(#a14)"/><rect x="303.8" y="66.4" width="12.6" height="571.7" fill="url(#a15)"/><rect x="315.8" y="66.4" width="12.6" height="571.7" fill="url(#a16)"/><rect x="327.8" y="66.4" width="12.6" height="571.7" fill="url(#a17)"/><rect x="339.7" y="66.4" width="12.6" height="571.7" fill="url(#a18)"/><rect x="351.7" y="66.4" width="12.6" height="571.7" fill="url(#a19)"/><rect x="363.7" y="66.4" width="12.6" height="571.7" fill="url(#a20)"/><rect x="375.6" y="66.4" width="12.6" height="571.7" fill="url(#a21)"/><rect x="387.6" y="66.4" width="12.6" height="571.7" fill="url(#a22)"/><rect x="399.6" y="66.4" width="12.6" height="571.7" fill="url(#a23)"/><rect x="411.5" y="66.4" width="12.6" height="571.7" fill="url(#a24)"/><rect x="423.5" y="66.4" width="12.6" height="571.7" fill="url(#a25)"/><rect x="435.5" y="66.4" width="12.6" height="571.7" fill="url(#a26)"/><rect x="447.4" y="66.4" width="12.6" height="571.7" fill="url(#a27)"/><rect x="459.4" y="66.4" width="12.6" height="571.7" fill="url(#a28)"/><rect x="471.4" y="66.4" width="12.6" height="571.7" fill="url(#a29)"/><rect x="483.3" y="66.4" width="12.6" height="571.7" fill="url(#a30)"/><rect x="495.3" y="66.4" width="12.6" height="571.7" fill="url(#a31)"/><rect x="507.2" y="66.4" width="12.6" height="571.7" fill="url(#a32)"/><rect x="519.2" y="66.4" width="12.6" height="571.7" fill="url(#a33)"/><rect x="531.2" y="66.4" width="12.6" height="571.7" fill="url(#a34)"/><rect x="543.1" y="66.4" width="12.6" height="571.7" fill="url(#a35)"/><rect x="555.1" y="66.4" width="12.6" height="571.7" fill="url(#a36)"/><rect x="567.1" y="66.4" width="12.6" height="571.7" fill="url(#a37)"/><rect x="579.0" y="66.4" width="12.6" height="571.7" fill="url(#a38)"/><rect x="591.0" y="66.4" width="12.6" height="571.7" fill="url(#a39)"/><rect x="603.0" y="66.4" width="12.6" height="571.7" fill="url(#a40)"/><rect x="614.9" y="66.4" width="12.6" height="571.7" fill="url(#a41)"/><rect x="626.9" y="66.4" width="12.6" height="571.7" fill="url(#a42)"/><rect x="638.9" y="66.4" width="12.6" height="571.7" fill="url(#a43)"/><rect x="650.8" y="66.4" width="12.6" height="571.7" fill="url(#a44)"/><rect x="662.8" y="66.4" width="12.6" height="571.7" fill="url(#a45)"/><rect x="674.8" y="66.4" width="12.6" height="571.7" fill="url(#a46)"/><rect x="686.7" y="66.4" width="12.6" height="571.7" fill="url(#a47)"/><rect x="698.7" y="66.4" width="12.6" height="571.7" fill="url(#a48)"/><rect x="710.6" y="66.4" width="12.6" height="571.7" fill="url(#a49)"/><rect x="722.6" y="66.4" width="12.6" height="571.7" fill="url(#a50)"/><rect x="734.6" y="66.4" width="12.6" height="571.7" fill="url(#a51)"/><rect x="746.5" y="66.4" width="12.6" height="571.7" fill="url(#a52)"/><rect x="758.5" y="66.4" width="12.6" height="571.7" fill="url(#a53)"/><rect x="770.5" y="66.4" width="12.6" height="571.7" fill="url(#a54)"/><rect x="782.4" y="66.4" width="12.6" height="571.7" fill="url(#a55)"/><rect x="794.4" y="66.4" width="12.6" height="571.7" fill="url(#a56)"/><rect x="806.4" y="66.4" width="12.6" height="571.7" fill="url(#a57)"/><rect x="818.3" y="66.4" width="12.6" height="571.7" fill="url(#a58)"/><rect x="830.3" y="66.4" width="12.6" height="571.7" fill="url(#a59)"/><rect x="842.3" y="66.4" width="12.6" height="571.7" fill="url(#a60)"/><rect x="854.2" y="66.4" width="12.6" height="571.7" fill="url(#a61)"/><rect x="866.2" y="66.4" width="12.6" height="571.7" fill="url(#a62)"/><rect x="878.2" y="66.4" width="12.6" height="571.7" fill="url(#a63)"/><rect x="890.1" y="66.4" width="12.6" height="571.7" fill="url(#a64)"/><rect x="902.1" y="66.4" width="12.6" height="571.7" fill="url(#a65)"/><rect x="914.0" y="66.4" width="12.6" height="571.7" fill="url(#a66)"/><rect x="926.0" y="66.4" width="12.6" height="571.7" fill="url(#a67)"/><rect x="938.0" y="66.4" width="12.6" height="571.7" fill="url(#a68)"/><rect x="949.9" y="66.4" width="12.6" height="571.7" fill="url(#a69)"/><rect x="961.9" y="66.4" width="12.6" height="571.7" fill="url(#a70)"/><rect x="973.9" y="66.4" width="12.6" height="571.7" fill="url(#a71)"/><rect x="985.8" y="66.4" width="12.6" height="571.7" fill="url(#a72)"/><rect x="997.8" y="66.4" width="12.6" height="571.7" fill="url(#a73)"/><rect x="1009.8" y="66.4" width="12.6" height="571.7" fill="url(#a74)"/><rect x="1021.7" y="66.4" width="12.6" height="571.7" fill="url(#a75)"/><rect x="1033.7" y="66.4" width="12.6" height="571.7" fill="url(#a76)"/><rect x="1045.7" y="66.4" width="12.6" height="571.7" fill="url(#a77)"/><rect x="1057.6" y="66.4" width="12.6" height="571.7" fill="url(#a78)"/><rect x="1069.6" y="66.4" width="12.6" height="571.7" fill="url(#a79)"/><rect x="1081.6" y="66.4" width="12.6" height="571.7" fill="url(#a80)"/><rect x="1093.5" y="66.4" width="12.6" height="571.7" fill="url(#a81)"/><rect x="1105.5" y="66.4" width="12.6" height="571.7" fill="url(#a82)"/><rect x="1117.5" y="66.4" width="12.6" height="571.7" fill="url(#a83)"/><rect x="1129.4" y="66.4" width="12.6" height="571.7" fill="url(#a84)"/><rect x="1141.4" y="66.4" width="12.6" height="571.7" fill="url(#a85)"/><rect x="1153.3" y="66.4" width="12.6" height="571.7" fill="url(#a86)"/><rect x="1165.3" y="66.4" width="12.6" height="571.7" fill="url(#a87)"/><rect x="1177.3" y="66.4" width="12.6" height="571.7" fill="url(#a88)"/><rect x="1189.2" y="66.4" width="12.6" height="571.7" fill="url(#a89)"/><rect x="1201.2" y="66.4" width="12.6" height="571.7" fill="url(#a90)"/><rect x="1213.2" y="66.4" width="12.6" height="571.7" fill="url(#a91)"/><rect x="1225.1" y="66.4" width="12.6" height="571.7" fill="url(#a92)"/><rect x="1237.1" y="66.4" width="12.6" height="571.7" fill="url(#a93)"/><rect x="1249.1" y="66.4" width="12.6" height="571.7" fill="url(#a94)"/></g><polygon points="140.0,276.8 150.0,276.8 160.8,286.7 161.8,316.8 174.6,329.6 174.6,374.1 188.5,388.0 188.5,462.5 202.3,477.3 202.3,549.8 215.2,561.6 215.2,603.0 232.0,619.0 232.0,640.0 140.0,640.0" fill="#fff"/></g><defs><clipPath id="clipA2"><rect x="148.6" y="40" width="1088.8000000000002" height="598.1"/></clipPath><clipPath id="clipB2"><rect x="148.6" y="730" width="1088.8000000000002" height="600.0"/></clipPath></defs><g clip-path="url(#clipA2)"><path d="M653.3 66.9 L705.0 67.7 L803.8 68.5 L892.7 69.3M985.0 67.9 L1064.0 66.9 L1133.2 66.9M149.0 68.3 L210.0 69.9M271.5 73.8 L303.1 76.8 L342.6 78.8 L382.2 79.8 L425.0 80.8 L464.5 81.7 L504.0 81.3 L583.1 83.1 L642.4 85.3 L705.0 87.9 L784.0 90.2 L863.1 93.2 L922.4 94.6 L967.8 95.6 L985.0 93.6 L1064.0 92.2 L1153.0 90.6M1210.3 88.7 L1237.6 88.1M149.0 74.8 L164.8 77.8 L184.5 79.2 L210.0 79.8M307.0 91.6 L342.6 94.6 L382.2 97.5 L425.0 100.7 L464.5 102.1 L504.0 101.1 L583.1 103.5 L642.4 106.8 L705.0 111.0 L764.3 113.8 L823.6 117.9 L882.9 122.8 L922.4 124.2 L967.8 124.8 L985.0 122.8 L1044.3 119.7 L1103.6 118.3 L1172.7 114.3 L1192.5 109.4 L1237.6 108.4M149.0 82.7 L164.8 87.7 L184.5 91.6 L210.0 92.6 L224.0 95.6M283.3 107.4 L303.1 111.4 L342.6 119.3 L382.2 125.2 L411.8 129.2 L425.0 129.4 L460.6 131.5 L484.3 129.2 L523.8 131.5 L563.3 134.5 L602.9 137.1 L642.4 142.0 L681.9 147.9 L705.0 150.9 L764.3 156.8 L803.8 161.8 L843.3 169.7 L882.9 180.0 L898.7 183.6 L932.3 185.9 L968.8 188.3 L985.0 181.0 L1014.6 172.6 L1044.3 168.3 L1083.8 166.7 L1153.0 155.8M1208.3 143.0 L1237.6 140.0M149.0 96.6 L164.8 106.4 L184.5 111.8 L196.4 111.0 L210.0 114.3 L243.8 123.2M336.7 155.8 L362.4 164.7 L392.0 173.6 L411.8 178.6 L425.0 182.4 L438.8 181.6 L465.5 188.9 L484.3 185.9 L513.9 189.5 L543.6 195.4 L573.2 197.4 L602.9 202.1 L632.5 209.6 L662.2 218.5 L705.0 234.3 L709.0 237.3 L744.5 249.2 L784.0 261.0 L813.7 267.0 L843.3 281.8 L863.1 292.6 L873.0 300.0 L892.7 315.8 L902.6 323.7 L944.1 340.5 L967.8 340.1 L981.7 325.7 L985.0 319.8 L1010.7 300.0 L1024.5 286.7 L1068.0 272.9 L1079.9 274.9 L1115.4 264.0M1196.5 216.6 L1237.6 206.7M149.0 136.1 L156.9 152.9 L162.8 160.8 L174.6 164.7 L188.5 154.9 L202.3 144.0 L224.0 153.9 L243.8 166.7 L261.6 179.0 L283.3 195.8 L303.1 211.6 L316.9 223.5 L338.7 237.3M390.0 270.9 L405.9 280.8 L421.7 291.7 L425.0 292.6 L438.8 293.0 L450.7 300.0 L465.5 309.5 L482.3 307.5 L513.9 317.8 L543.6 326.7 L573.2 326.7 L602.9 333.6 L614.7 337.5 L642.4 351.4 L672.0 369.2 L705.0 394.9 L724.8 410.7 L736.6 420.0 L784.0 444.7 L817.6 452.6 L859.2 470.4 L882.9 499.1 L902.6 520.8 L926.3 537.6 L943.1 550.8 L967.8 534.9 L973.8 522.8 L985.0 505.0 L1004.8 485.2 L1027.5 463.9 L1068.0 457.9 L1080.8 461.9 L1113.5 447.7 L1139.2 437.8M1184.6 410.7 L1194.5 389.9 L1237.6 375.1M161.8 300.0 L164.8 286.7 L170.7 268.9 L184.5 245.2 L198.4 219.5 L205.3 215.2 L214.2 222.5 L228.0 239.3 L243.8 261.0 L255.7 278.8 L268.5 300.0 L283.3 321.7 L303.1 349.4 L318.9 368.2 L342.6 388.9 L358.4 404.7 L367.3 420.0 L398.0 439.8 L411.8 461.5 L419.7 470.4 L428.0 471.8 L439.8 473.8 L466.5 499.1 L482.3 495.1 L513.9 503.0 L543.6 512.9 L563.3 508.9M649.3 547.8 L672.0 567.5 L705.0 593.2 L708.0 598.2 L730.7 617.0 L766.3 634.7 L792.0 637.7 L815.7 636.3 L859.2 637.7M989.0 638.1 L1027.5 608.7 L1068.0 607.7 L1080.8 611.4 L1113.5 602.1M1191.5 563.6 L1196.5 558.7 L1237.6 552.7M175.6 358.3 L188.5 343.5 L202.3 324.7 L208.2 337.5 L216.1 365.2 L228.0 398.8 L238.9 420.0 L255.7 455.6 L273.5 489.2 L295.2 524.7 L299.2 529.7M332.7 576.4 L352.5 599.2 L368.3 634.7M202.3 478.3 L206.3 508.9 L208.2 527.7 L210.2 541.9 L213.2 565.6 L217.1 599.2" fill="none" stroke="#f00" stroke-width="1.6" stroke-linejoin="round" stroke-dasharray="12 7.5"/>
<text transform="translate(942.0,71.5) rotate(0)" font-size="33.0" text-anchor="middle" dy="11.8" fill="#f00">22.5</text>
<text transform="translate(242.0,74.0) rotate(4)" font-size="33.0" text-anchor="middle" dy="11.8" fill="#f00">23</text>
<text transform="translate(1181.6,91.6) rotate(-2)" font-size="33.0" text-anchor="middle" dy="11.8" fill="#f00">23</text>
<text transform="translate(256.0,90.0) rotate(6)" font-size="33.0" text-anchor="middle" dy="11.8" fill="#f00">23.5</text>
<text transform="translate(249.0,105.0) rotate(11)" font-size="33.0" text-anchor="middle" dy="11.8" fill="#f00">24</text>
<text transform="translate(1180.0,152.0) rotate(-13)" font-size="33.0" text-anchor="middle" dy="11.8" fill="#f00">24</text>
<text transform="translate(288.5,141.0) rotate(22)" font-size="33.0" text-anchor="middle" dy="11.8" fill="#f00">24.5</text>
<text transform="translate(1158.4,245.2) rotate(-31)" font-size="33.0" text-anchor="middle" dy="11.8" fill="#f00">24.5</text>
<text transform="translate(364.4,258.0) rotate(33)" font-size="33.0" text-anchor="middle" dy="11.8" fill="#f00">25</text>
<text transform="translate(1165.0,429.0) rotate(-30)" font-size="33.0" text-anchor="middle" dy="11.8" fill="#f00">25</text>
<text transform="translate(607.0,531.0) rotate(36)" font-size="33.0" text-anchor="middle" dy="11.8" fill="#f00">25.5</text>
<text transform="translate(1157.0,590.0) rotate(-27)" font-size="33.0" text-anchor="middle" dy="11.8" fill="#f00">25.5</text>
<text transform="translate(312.0,555.0) rotate(54)" font-size="33.0" text-anchor="middle" dy="11.8" fill="#f00">26</text><path d="M302.1 66.9 L342.6 69.9 L382.2 71.9 L425.0 74.2 L504.0 76.2 L583.1 78.2 L642.4 79.8 L705.0 82.1 L784.0 84.7 L863.1 87.3 L942.2 89.2 L969.8 89.6M1067.0 88.3 L1123.3 86.7 L1182.6 84.7 L1237.6 83.3M228.0 66.9 L263.6 70.9 L303.1 76.8 L342.6 80.8 L382.2 83.7 L425.0 86.7 L464.5 89.2 L504.0 90.0 L583.1 92.6 L642.4 95.6 L705.0 99.5 L784.0 103.5 L863.1 107.4 L922.4 109.8 L967.8 111.8 L985.0 110.4M1052.2 108.8 L1079.9 108.8 L1143.1 105.5 L1176.7 104.5 L1194.5 101.5 L1237.6 100.5M149.0 68.9 L184.5 68.9 L224.0 72.8 L263.6 80.8 L303.1 89.6 L342.6 95.6 L382.2 98.5 L425.0 101.7 L464.5 105.1 L504.0 105.8 L543.6 108.0 L583.1 110.4 L622.6 114.3 L662.2 118.7 L705.0 123.0 L764.3 128.2 L823.6 134.1 L882.9 142.0 L902.6 144.6 L941.2 147.0M1038.4 141.6 L1079.9 141.0 L1143.1 136.1 L1176.7 133.1 L1194.5 127.2 L1237.6 124.8M149.0 75.8 L184.5 74.8 L204.3 76.8 L224.0 80.8 L263.6 91.6 L303.1 103.5 L342.6 111.4 L382.2 117.3 L411.8 122.3 L425.0 123.0 L444.8 124.2 L464.5 127.6 L504.0 129.2 L543.6 134.1 L583.1 138.1 L622.6 144.0 L662.2 152.9 L705.0 163.8 L744.5 171.7 L784.0 180.0 L815.7 184.9 L863.1 201.7 L898.7 219.5 L932.3 227.4 L968.8 232.4 L982.7 225.5M1038.0 208.3 L1079.9 205.3 L1123.3 193.8 L1153.0 187.5 L1174.7 184.9 L1184.6 180.0 L1194.5 172.6 L1237.6 167.3M149.0 85.7 L168.7 83.3 L188.5 83.3 L204.3 86.7 L224.0 93.6 L263.6 109.4 L303.1 123.2 L342.6 135.1 L372.3 145.0 L401.9 150.9 L417.7 157.8 L425.0 159.8 L440.8 161.2 L464.5 168.3 L484.3 167.7 L513.9 174.6 L531.7 180.0 L563.3 185.9 L602.9 199.8 L632.5 213.6 L662.2 229.4 L705.0 250.2 L734.6 265.0 L774.2 282.8 L812.7 300.0 L859.2 329.6 L899.7 372.1 L943.1 400.8 L967.8 397.8M1041.3 339.5 L1068.0 334.6 L1080.8 337.2 L1113.5 323.7 L1153.0 304.0 L1175.7 300.0 L1194.5 269.9 L1237.6 256.1M149.0 106.4 L170.7 98.5 L188.5 96.6 L204.3 101.5 L224.0 109.4 L243.8 119.3 L263.6 130.2 L283.3 143.0 L303.1 156.8 L322.9 170.7 L334.7 180.0 L368.3 205.7 L398.0 219.5 L417.7 233.4 L425.0 235.0 L440.8 237.7 L465.5 254.5 L482.3 254.7 L519.9 272.9 L543.6 288.7 L568.8 300.0 L606.8 321.7 L642.4 351.4 L672.0 377.1 L705.0 404.7 L723.8 420.0 L774.2 457.5 L817.6 479.3 L859.2 505.0 L880.0 535.0 L899.7 564.6 L944.1 586.9 L969.8 566.6 L980.7 546.8M1025.5 507.5 L1068.0 506.6 L1080.8 511.3 L1153.0 487.6 L1175.7 486.2 L1194.5 448.1 L1237.6 434.8M149.0 163.8 L160.8 150.9 L174.6 136.1 L188.5 127.8 L202.3 129.2 L214.2 141.0 L228.0 152.9 L239.9 166.7 L251.2 180.0 L273.5 207.7 L295.2 241.3 L315.0 272.9 L340.2 300.0 L358.4 317.8 L369.3 336.6 L398.0 354.3 L418.7 381.0 L425.0 382.3 L440.8 386.0 L465.5 413.0 L482.3 415.6 L488.0 420.0 L523.8 444.7 L543.6 464.5 L569.3 477.3M640.4 542.8 L660.2 564.6 L681.9 581.4 L705.0 602.1 L732.7 623.9 L757.4 638.1M1121.4 638.1 L1153.0 628.8 L1175.7 631.2 L1194.5 599.2 L1237.6 597.2M160.8 282.8 L168.7 268.9 L184.5 247.2 L202.3 221.5 L208.2 241.3 L216.1 263.0 L233.9 300.0 L253.7 339.5 L273.5 375.1 L296.2 420.0 L315.0 455.6 L356.5 503.0 L364.4 519.8M402.9 560.6 L418.7 590.3 L425.0 592.3 L440.8 596.2 L465.5 638.1 L482.3 636.7M189.5 439.8 L202.3 430.9 L208.2 469.4 L214.2 509.9M245.8 602.1 L262.6 638.1" fill="none" stroke="#000" stroke-width="1.3" stroke-linejoin="round"/>
<text transform="translate(1018.5,89.6) rotate(-1)" font-size="33.0" text-anchor="middle" dy="11.8" fill="#000">22.5</text>
<text transform="translate(1022.5,111.4) rotate(-1)" font-size="33.0" text-anchor="middle" dy="11.8" fill="#000">23</text>
<text transform="translate(990.0,148.0) rotate(-3)" font-size="33.0" text-anchor="middle" dy="11.8" fill="#000">23.5</text>
<text transform="translate(1009.7,218.5) rotate(-17)" font-size="33.0" text-anchor="middle" dy="11.8" fill="#000">24</text>
<text transform="translate(1005.0,362.0) rotate(-38)" font-size="33.0" text-anchor="middle" dy="11.8" fill="#000">24.5</text>
<text transform="translate(1004.0,526.0) rotate(-40)" font-size="33.0" text-anchor="middle" dy="11.8" fill="#000">25</text>
<text transform="translate(605.0,509.0) rotate(42)" font-size="33.0" text-anchor="middle" dy="11.8" fill="#000">25.5</text>
<text transform="translate(380.0,542.0) rotate(50)" font-size="33.0" text-anchor="middle" dy="11.8" fill="#000">26</text>
<text transform="translate(228.0,557.0) rotate(71)" font-size="33.0" text-anchor="middle" dy="11.8" fill="#000">26.5</text></g>
<g clip-path="url(#clipb)"><g filter="url(#blb)"><rect x="124.4" y="755.0" width="12.6" height="575.0" fill="url(#b0)"/><rect x="136.3" y="755.0" width="12.6" height="575.0" fill="url(#b1)"/><rect x="148.3" y="755.0" width="12.6" height="575.0" fill="url(#b2)"/><rect x="160.3" y="755.0" width="12.6" height="575.0" fill="url(#b3)"/><rect x="172.2" y="755.0" width="12.6" height="575.0" fill="url(#b4)"/><rect x="184.2" y="755.0" width="12.6" height="575.0" fill="url(#b5)"/><rect x="196.2" y="755.0" width="12.6" height="575.0" fill="url(#b6)"/><rect x="208.1" y="755.0" width="12.6" height="575.0" fill="url(#b7)"/><rect x="220.1" y="755.0" width="12.6" height="575.0" fill="url(#b8)"/><rect x="232.1" y="755.0" width="12.6" height="575.0" fill="url(#b9)"/><rect x="244.0" y="755.0" width="12.6" height="575.0" fill="url(#b10)"/><rect x="256.0" y="755.0" width="12.6" height="575.0" fill="url(#b11)"/><rect x="267.9" y="755.0" width="12.6" height="575.0" fill="url(#b12)"/><rect x="279.9" y="755.0" width="12.6" height="575.0" fill="url(#b13)"/><rect x="291.9" y="755.0" width="12.6" height="575.0" fill="url(#b14)"/><rect x="303.8" y="755.0" width="12.6" height="575.0" fill="url(#b15)"/><rect x="315.8" y="755.0" width="12.6" height="575.0" fill="url(#b16)"/><rect x="327.8" y="755.0" width="12.6" height="575.0" fill="url(#b17)"/><rect x="339.7" y="755.0" width="12.6" height="575.0" fill="url(#b18)"/><rect x="351.7" y="755.0" width="12.6" height="575.0" fill="url(#b19)"/><rect x="363.7" y="755.0" width="12.6" height="575.0" fill="url(#b20)"/><rect x="375.6" y="755.0" width="12.6" height="575.0" fill="url(#b21)"/><rect x="387.6" y="755.0" width="12.6" height="575.0" fill="url(#b22)"/><rect x="399.6" y="755.0" width="12.6" height="575.0" fill="url(#b23)"/><rect x="411.5" y="755.0" width="12.6" height="575.0" fill="url(#b24)"/><rect x="423.5" y="755.0" width="12.6" height="575.0" fill="url(#b25)"/><rect x="435.5" y="755.0" width="12.6" height="575.0" fill="url(#b26)"/><rect x="447.4" y="755.0" width="12.6" height="575.0" fill="url(#b27)"/><rect x="459.4" y="755.0" width="12.6" height="575.0" fill="url(#b28)"/><rect x="471.4" y="755.0" width="12.6" height="575.0" fill="url(#b29)"/><rect x="483.3" y="755.0" width="12.6" height="575.0" fill="url(#b30)"/><rect x="495.3" y="755.0" width="12.6" height="575.0" fill="url(#b31)"/><rect x="507.2" y="755.0" width="12.6" height="575.0" fill="url(#b32)"/><rect x="519.2" y="755.0" width="12.6" height="575.0" fill="url(#b33)"/><rect x="531.2" y="755.0" width="12.6" height="575.0" fill="url(#b34)"/><rect x="543.1" y="755.0" width="12.6" height="575.0" fill="url(#b35)"/><rect x="555.1" y="755.0" width="12.6" height="575.0" fill="url(#b36)"/><rect x="567.1" y="755.0" width="12.6" height="575.0" fill="url(#b37)"/><rect x="579.0" y="755.0" width="12.6" height="575.0" fill="url(#b38)"/><rect x="591.0" y="755.0" width="12.6" height="575.0" fill="url(#b39)"/><rect x="603.0" y="755.0" width="12.6" height="575.0" fill="url(#b40)"/><rect x="614.9" y="755.0" width="12.6" height="575.0" fill="url(#b41)"/><rect x="626.9" y="755.0" width="12.6" height="575.0" fill="url(#b42)"/><rect x="638.9" y="755.0" width="12.6" height="575.0" fill="url(#b43)"/><rect x="650.8" y="755.0" width="12.6" height="575.0" fill="url(#b44)"/><rect x="662.8" y="755.0" width="12.6" height="575.0" fill="url(#b45)"/><rect x="674.8" y="755.0" width="12.6" height="575.0" fill="url(#b46)"/><rect x="686.7" y="755.0" width="12.6" height="575.0" fill="url(#b47)"/><rect x="698.7" y="755.0" width="12.6" height="575.0" fill="url(#b48)"/><rect x="710.6" y="755.0" width="12.6" height="575.0" fill="url(#b49)"/><rect x="722.6" y="755.0" width="12.6" height="575.0" fill="url(#b50)"/><rect x="734.6" y="755.0" width="12.6" height="575.0" fill="url(#b51)"/><rect x="746.5" y="755.0" width="12.6" height="575.0" fill="url(#b52)"/><rect x="758.5" y="755.0" width="12.6" height="575.0" fill="url(#b53)"/><rect x="770.5" y="755.0" width="12.6" height="575.0" fill="url(#b54)"/><rect x="782.4" y="755.0" width="12.6" height="575.0" fill="url(#b55)"/><rect x="794.4" y="755.0" width="12.6" height="575.0" fill="url(#b56)"/><rect x="806.4" y="755.0" width="12.6" height="575.0" fill="url(#b57)"/><rect x="818.3" y="755.0" width="12.6" height="575.0" fill="url(#b58)"/><rect x="830.3" y="755.0" width="12.6" height="575.0" fill="url(#b59)"/><rect x="842.3" y="755.0" width="12.6" height="575.0" fill="url(#b60)"/><rect x="854.2" y="755.0" width="12.6" height="575.0" fill="url(#b61)"/><rect x="866.2" y="755.0" width="12.6" height="575.0" fill="url(#b62)"/><rect x="878.2" y="755.0" width="12.6" height="575.0" fill="url(#b63)"/><rect x="890.1" y="755.0" width="12.6" height="575.0" fill="url(#b64)"/><rect x="902.1" y="755.0" width="12.6" height="575.0" fill="url(#b65)"/><rect x="914.0" y="755.0" width="12.6" height="575.0" fill="url(#b66)"/><rect x="926.0" y="755.0" width="12.6" height="575.0" fill="url(#b67)"/><rect x="938.0" y="755.0" width="12.6" height="575.0" fill="url(#b68)"/><rect x="949.9" y="755.0" width="12.6" height="575.0" fill="url(#b69)"/><rect x="961.9" y="755.0" width="12.6" height="575.0" fill="url(#b70)"/><rect x="973.9" y="755.0" width="12.6" height="575.0" fill="url(#b71)"/><rect x="985.8" y="755.0" width="12.6" height="575.0" fill="url(#b72)"/><rect x="997.8" y="755.0" width="12.6" height="575.0" fill="url(#b73)"/><rect x="1009.8" y="755.0" width="12.6" height="575.0" fill="url(#b74)"/><rect x="1021.7" y="755.0" width="12.6" height="575.0" fill="url(#b75)"/><rect x="1033.7" y="755.0" width="12.6" height="575.0" fill="url(#b76)"/><rect x="1045.7" y="755.0" width="12.6" height="575.0" fill="url(#b77)"/><rect x="1057.6" y="755.0" width="12.6" height="575.0" fill="url(#b78)"/><rect x="1069.6" y="755.0" width="12.6" height="575.0" fill="url(#b79)"/><rect x="1081.6" y="755.0" width="12.6" height="575.0" fill="url(#b80)"/><rect x="1093.5" y="755.0" width="12.6" height="575.0" fill="url(#b81)"/><rect x="1105.5" y="755.0" width="12.6" height="575.0" fill="url(#b82)"/><rect x="1117.5" y="755.0" width="12.6" height="575.0" fill="url(#b83)"/><rect x="1129.4" y="755.0" width="12.6" height="575.0" fill="url(#b84)"/><rect x="1141.4" y="755.0" width="12.6" height="575.0" fill="url(#b85)"/><rect x="1153.3" y="755.0" width="12.6" height="575.0" fill="url(#b86)"/><rect x="1165.3" y="755.0" width="12.6" height="575.0" fill="url(#b87)"/><rect x="1177.3" y="755.0" width="12.6" height="575.0" fill="url(#b88)"/><rect x="1189.2" y="755.0" width="12.6" height="575.0" fill="url(#b89)"/><rect x="1201.2" y="755.0" width="12.6" height="575.0" fill="url(#b90)"/><rect x="1213.2" y="755.0" width="12.6" height="575.0" fill="url(#b91)"/><rect x="1225.1" y="755.0" width="12.6" height="575.0" fill="url(#b92)"/><rect x="1237.1" y="755.0" width="12.6" height="575.0" fill="url(#b93)"/><rect x="1249.1" y="755.0" width="12.6" height="575.0" fill="url(#b94)"/></g><polygon points="140.0,967.2 150.0,967.2 160.8,977.1 161.8,1007.3 174.6,1020.2 174.6,1064.9 188.5,1078.8 188.5,1153.7 202.3,1168.5 202.3,1241.3 215.2,1253.2 215.2,1294.8 232.0,1310.8 232.0,1331.9 140.0,1331.9" fill="#fff"/></g><g clip-path="url(#clipB2)"><path d="M610.8 755.9 L642.4 757.5 L705.0 761.2 L764.3 764.2 L823.6 767.8 L882.9 771.3 L942.2 774.7 L985.0 775.7 L1040.0 777.0M1123.3 777.7 L1172.7 777.3 L1192.5 775.7 L1237.6 776.1M461.6 755.9 L504.0 757.9 L563.3 761.5 L622.6 765.4 L681.9 769.4 L705.0 771.0 L764.3 777.7 L823.6 782.6 L882.9 788.5 L942.2 793.5 L985.0 796.0 L1040.0 798.5M1095.7 799.0 L1143.1 798.4 L1174.7 798.4 L1194.5 796.4 L1237.6 795.8M149.0 756.0 L160.0 756.5M287.3 755.5 L342.6 758.3 L382.2 759.5 L425.0 761.7 L464.5 763.4 L504.0 765.8 L543.6 768.8 L583.1 771.7 L622.6 775.7 L662.2 779.6 L705.0 784.0 L764.3 791.5 L823.6 800.4 L882.9 810.3 L942.2 821.1 L971.8 826.1M1070.0 831.4 L1103.6 832.0 L1143.1 831.0 L1176.7 830.0 L1194.5 825.5 L1230.0 824.7M149.0 767.8 L164.8 762.8 L184.5 759.5 L210.0 758.9 L228.0 760.9M322.9 764.8 L362.4 766.8 L425.0 769.8 L464.5 773.3 L504.0 776.7 L543.6 780.6 L583.1 784.6 L622.6 789.5 L662.2 795.5 L705.0 802.2 L764.3 815.2 L823.6 829.1 L863.1 839.9 L902.6 855.7 L942.2 870.0 L962.0 876.9 L987.0 881.9 L1024.5 885.8 L1064.0 892.7 L1083.8 896.1 L1123.3 895.7 L1153.0 893.3M1208.3 879.9 L1237.6 877.5M149.0 787.5 L156.9 777.7 L168.7 770.8 L184.5 766.8 L204.3 766.8 L228.0 769.8 L247.0 771.5M330.8 775.7 L362.4 779.6 L401.9 780.6 L425.0 783.0 L450.7 785.6 L484.3 790.5 L513.9 794.5 L543.6 798.4 L583.1 805.3 L622.6 813.2 L662.2 821.1 L705.0 833.0 L744.5 846.8 L784.0 862.6 L799.9 870.0 L823.6 879.9 L853.2 899.6 L882.9 925.3 L902.6 943.1 L922.4 958.9 L942.2 976.7 L960.0 990.0 L989.0 1001.9 L1024.5 1007.8 L1054.2 1015.7 L1079.9 1023.6 L1113.5 1026.6M1198.4 998.9 L1228.0 991.0 L1237.6 988.0M149.0 825.1 L156.9 807.3 L164.8 793.5 L174.6 784.6 L188.5 779.6 L204.3 780.6 L224.0 783.6 L243.8 786.6 L267.5 789.5 L295.2 790.5 L322.9 793.5 L342.6 795.1M400.0 801.8 L425.0 806.6 L444.8 809.3 L464.5 814.2 L484.3 818.2 L504.0 823.1 L523.8 828.1 L543.6 834.0 L573.2 841.9 L602.9 850.8 L632.5 862.6 L648.3 870.0 L672.0 880.9 L705.0 899.6 L710.9 903.6 L734.6 919.4 L764.3 941.1 L793.9 964.9 L819.6 990.0 L833.5 1005.8 L853.2 1029.5 L873.0 1053.2 L892.7 1082.9 L908.6 1104.6 L912.5 1110.0 L928.3 1131.7 L942.2 1155.5 L954.0 1167.3 L967.8 1179.2 L985.0 1181.0 L1024.5 1175.2 L1064.0 1181.1 L1079.9 1189.0 L1103.6 1194.0 L1135.2 1198.5M1186.6 1183.1 L1196.5 1168.3 L1237.6 1158.4M149.0 881.9 L153.9 872.0 L156.9 866.6 L166.7 842.9 L176.6 825.1 L188.5 809.3 L202.3 803.4 L214.2 812.3 L233.9 818.2 L263.6 824.1 L303.1 829.1 L342.6 835.0 L372.3 842.9 L401.9 850.8 L425.0 860.7 L440.8 864.6 L448.7 870.0 L480.3 884.8 L513.9 905.6 L543.6 925.3 L573.2 944.1 L602.9 962.9 L622.6 976.7 L640.4 990.0 L660.2 1004.8 L687.8 1029.5 L705.0 1044.3 L709.0 1049.3 L728.7 1069.0 L757.4 1097.7M825.6 1174.2 L839.4 1189.0 L853.2 1204.9 L863.1 1220.0 L882.9 1249.6 L902.6 1283.2 L918.4 1308.9 L931.3 1326.7M997.8 1328.7 L1027.5 1315.8 L1064.0 1320.8 L1079.9 1329.3M1180.7 1329.3 L1194.5 1306.0 L1237.6 1305.4M153.9 965.8 L162.8 945.1 L174.6 919.4 L188.5 891.7 L202.3 876.9 L212.2 893.7 L224.0 907.5 L243.8 919.4 L273.5 933.2 L303.1 944.1 L332.7 954.0 L354.5 962.9 L368.3 974.7 L392.0 989.0 L407.8 1005.8 L419.7 1017.7 L425.0 1021.6 L440.8 1031.5 L452.7 1047.3 L464.5 1064.1 L478.4 1074.0 L494.2 1086.8 L508.0 1099.7 L517.9 1110.0 L531.7 1123.8 L547.5 1138.7 L573.2 1155.5 L595.0 1170.3 L612.7 1183.1M664.0 1225.0 L685.9 1241.7 L705.0 1255.6 L709.0 1261.5 L734.6 1283.2 L758.4 1305.0 L778.1 1328.7M188.5 1150.5 L198.4 1129.8 L202.3 1122.8 L206.3 1145.6 L210.2 1175.2 L214.2 1202.9 L221.1 1220.7 L224.0 1224.0 L232.0 1245.7 L243.8 1249.6 L273.5 1256.6 L293.2 1242.7 L316.9 1228.9M398.0 1276.3 L409.8 1299.0 L417.7 1312.9 L425.0 1316.8 L431.0 1318.2 L442.8 1322.8" fill="none" stroke="#00f" stroke-width="1.6" stroke-linejoin="round" stroke-dasharray="12 7.5"/>
<text transform="translate(1077.0,778.7) rotate(0)" font-size="33.0" text-anchor="middle" dy="11.8" fill="#00f">22.5</text>
<text transform="translate(1064.5,800.4) rotate(0)" font-size="33.0" text-anchor="middle" dy="11.8" fill="#00f">23</text>
<text transform="translate(1012.0,830.0) rotate(3)" font-size="33.0" text-anchor="middle" dy="11.8" fill="#00f">23.5</text>
<text transform="translate(255.5,763.0) rotate(3)" font-size="33.0" text-anchor="middle" dy="11.8" fill="#00f">24</text>
<text transform="translate(1180.0,890.8) rotate(-13)" font-size="33.0" text-anchor="middle" dy="11.8" fill="#00f">24</text>
<text transform="translate(282.5,776.0) rotate(4)" font-size="33.0" text-anchor="middle" dy="11.8" fill="#00f">24.5</text>
<text transform="translate(1159.4,1020.0) rotate(-18)" font-size="33.0" text-anchor="middle" dy="11.8" fill="#00f">24.5</text>
<text transform="translate(371.0,800.0) rotate(7)" font-size="33.0" text-anchor="middle" dy="11.8" fill="#00f">25</text>
<text transform="translate(1162.0,1197.5) rotate(-16)" font-size="33.0" text-anchor="middle" dy="11.8" fill="#00f">25</text>
<text transform="translate(790.5,1137.0) rotate(48)" font-size="33.0" text-anchor="middle" dy="11.8" fill="#00f">25.5</text>
<text transform="translate(640.0,1208.0) rotate(40)" font-size="33.0" text-anchor="middle" dy="11.8" fill="#00f">26</text>
<text transform="translate(358.0,1253.6) rotate(31)" font-size="33.0" text-anchor="middle" dy="11.8" fill="#00f">26.5</text><path d="M302.1 756.4 L342.6 759.4 L382.2 761.4 L425.0 763.7 L504.0 765.7 L583.1 767.7 L642.4 769.3 L705.0 771.6 L784.0 774.2 L863.1 776.8 L942.2 778.8 L969.8 779.2M1067.0 777.9 L1123.3 776.2 L1182.6 774.2 L1237.6 772.8M228.0 756.4 L263.6 760.4 L303.1 766.3 L342.6 770.3 L382.2 773.2 L425.0 776.2 L464.5 778.8 L504.0 779.6 L583.1 782.2 L642.4 785.2 L705.0 789.1 L784.0 793.1 L863.1 797.0 L922.4 799.4 L967.8 801.5 L985.0 800.0M1052.2 798.4 L1079.9 798.4 L1143.1 795.1 L1176.7 794.1 L1194.5 791.1 L1237.6 790.1M149.0 758.4 L184.5 758.4 L224.0 762.3 L263.6 770.3 L303.1 779.2 L342.6 785.2 L382.2 788.1 L425.0 791.3 L464.5 794.7 L504.0 795.4 L543.6 797.6 L583.1 800.0 L622.6 804.0 L662.2 808.4 L705.0 812.7 L764.3 817.9 L823.6 823.8 L882.9 831.8 L902.6 834.4 L941.2 836.8M1038.4 831.4 L1079.9 830.8 L1143.1 825.9 L1176.7 822.8 L1194.5 816.9 L1237.6 814.5M149.0 765.3 L184.5 764.3 L204.3 766.3 L224.0 770.3 L263.6 781.2 L303.1 793.1 L342.6 801.1 L382.2 807.0 L411.8 812.0 L425.0 812.7 L444.8 813.9 L464.5 817.3 L504.0 818.9 L543.6 823.8 L583.1 827.9 L622.6 833.8 L662.2 842.7 L705.0 853.7 L744.5 861.6 L784.0 869.9 L815.7 874.9 L863.1 891.7 L898.7 909.6 L932.3 917.5 L968.8 922.6 L982.7 915.6M1038.0 898.4 L1079.9 895.4 L1123.3 883.8 L1153.0 877.5 L1174.7 874.9 L1184.6 869.9 L1194.5 862.5 L1237.6 857.2M149.0 775.2 L168.7 772.8 L188.5 772.8 L204.3 776.2 L224.0 783.2 L263.6 799.0 L303.1 812.9 L342.6 824.9 L372.3 834.8 L401.9 840.7 L417.7 847.6 L425.0 849.7 L440.8 851.1 L464.5 858.2 L484.3 857.6 L513.9 864.5 L531.7 869.9 L563.3 875.9 L602.9 889.8 L632.5 903.7 L662.2 919.6 L705.0 940.4 L734.6 955.3 L774.2 973.2 L812.7 990.5 L859.2 1020.2 L899.7 1062.9 L943.1 1091.7 L967.8 1088.7M1041.3 1030.1 L1068.0 1025.2 L1080.8 1027.8 L1113.5 1014.3 L1153.0 994.5 L1175.7 990.5 L1194.5 960.2 L1237.6 946.4M149.0 796.0 L170.7 788.1 L188.5 786.2 L204.3 791.1 L224.0 799.0 L243.8 809.0 L263.6 819.9 L283.3 832.8 L303.1 846.6 L322.9 860.6 L334.7 869.9 L368.3 895.8 L398.0 909.6 L417.7 923.6 L425.0 925.2 L440.8 927.9 L465.5 944.8 L482.3 945.0 L519.9 963.2 L543.6 979.1 L568.8 990.5 L606.8 1012.2 L642.4 1042.1 L672.0 1067.9 L705.0 1095.6 L723.8 1111.0 L774.2 1148.6 L817.6 1170.5 L859.2 1196.3 L880.0 1226.5 L899.7 1256.2 L944.1 1278.6 L969.8 1258.2 L980.7 1238.3M1025.5 1198.8 L1068.0 1197.9 L1080.8 1202.7 L1153.0 1178.9 L1175.7 1177.5 L1194.5 1139.2 L1237.6 1125.8M149.0 853.7 L160.8 840.7 L174.6 825.9 L188.5 817.5 L202.3 818.9 L214.2 830.8 L228.0 842.7 L239.9 856.6 L251.2 869.9 L273.5 897.8 L295.2 931.5 L315.0 963.2 L340.2 990.5 L358.4 1008.3 L369.3 1027.2 L398.0 1045.0 L418.7 1071.8 L425.0 1073.1 L440.8 1076.8 L465.5 1103.9 L482.3 1106.5 L488.0 1111.0 L523.8 1135.8 L543.6 1155.7 L569.3 1168.5M640.4 1234.3 L660.2 1256.2 L681.9 1273.1 L705.0 1293.8 L732.7 1315.7 L757.4 1330.0M1121.4 1330.0 L1153.0 1320.7 L1175.7 1323.1 L1194.5 1290.9 L1237.6 1288.9M160.8 973.2 L168.7 959.2 L184.5 937.4 L202.3 911.6 L208.2 931.5 L216.1 953.3 L233.9 990.5 L253.7 1030.1 L273.5 1065.9 L296.2 1111.0 L315.0 1146.7 L356.5 1194.3 L364.4 1211.2M402.9 1252.2 L418.7 1282.0 L425.0 1284.0 L440.8 1287.9 L465.5 1330.0 L482.3 1328.6M189.5 1130.9 L202.3 1121.9 L208.2 1160.6 L214.2 1201.3M245.8 1293.8 L262.6 1330.0" fill="none" stroke="#000" stroke-width="1.3" stroke-linejoin="round"/>
<text transform="translate(1018.5,779.2) rotate(-1)" font-size="33.0" text-anchor="middle" dy="11.8" fill="#000">22.5</text>
<text transform="translate(1022.5,801.1) rotate(-1)" font-size="33.0" text-anchor="middle" dy="11.8" fill="#000">23</text>
<text transform="translate(990.0,837.8) rotate(-3)" font-size="33.0" text-anchor="middle" dy="11.8" fill="#000">23.5</text>
<text transform="translate(1009.7,908.6) rotate(-17)" font-size="33.0" text-anchor="middle" dy="11.8" fill="#000">24</text>
<text transform="translate(1005.0,1052.7) rotate(-38)" font-size="33.0" text-anchor="middle" dy="11.8" fill="#000">24.5</text>
<text transform="translate(1004.0,1217.4) rotate(-40)" font-size="33.0" text-anchor="middle" dy="11.8" fill="#000">25</text>
<text transform="translate(605.0,1200.3) rotate(42)" font-size="33.0" text-anchor="middle" dy="11.8" fill="#000">25.5</text>
<text transform="translate(380.0,1233.5) rotate(50)" font-size="33.0" text-anchor="middle" dy="11.8" fill="#000">26</text>
<text transform="translate(228.0,1248.6) rotate(71)" font-size="33.0" text-anchor="middle" dy="11.8" fill="#000">26.5</text></g>
<rect x="148.6" y="52.6" width="1088.8000000000002" height="585.5" fill="none" stroke="#262626" stroke-width="1.3"/>
<line x1="138.1" y1="52.6" x2="148.6" y2="52.6" stroke="#262626" stroke-width="1.3"/>
<line x1="1237.4" y1="52.6" x2="1247.9" y2="52.6" stroke="#262626" stroke-width="1.3"/>
<text x="123.1" y="68.2" font-size="40.6" text-anchor="end" fill="#262626">0</text>
<line x1="138.1" y1="199.0" x2="148.6" y2="199.0" stroke="#262626" stroke-width="1.3"/>
<line x1="1237.4" y1="199.0" x2="1247.9" y2="199.0" stroke="#262626" stroke-width="1.3"/>
<text x="123.1" y="214.6" font-size="40.6" text-anchor="end" fill="#262626">50</text>
<line x1="138.1" y1="345.4" x2="148.6" y2="345.4" stroke="#262626" stroke-width="1.3"/>
<line x1="1237.4" y1="345.4" x2="1247.9" y2="345.4" stroke="#262626" stroke-width="1.3"/>
<text x="123.1" y="361.0" font-size="40.6" text-anchor="end" fill="#262626">100</text>
<line x1="138.1" y1="491.7" x2="148.6" y2="491.7" stroke="#262626" stroke-width="1.3"/>
<line x1="1237.4" y1="491.7" x2="1247.9" y2="491.7" stroke="#262626" stroke-width="1.3"/>
<text x="123.1" y="507.3" font-size="40.6" text-anchor="end" fill="#262626">150</text>
<line x1="138.1" y1="638.1" x2="148.6" y2="638.1" stroke="#262626" stroke-width="1.3"/>
<line x1="1237.4" y1="638.1" x2="1247.9" y2="638.1" stroke="#262626" stroke-width="1.3"/>
<text x="123.1" y="653.7" font-size="40.6" text-anchor="end" fill="#262626">200</text>
<line x1="148.6" y1="42.1" x2="148.6" y2="52.6" stroke="#262626" stroke-width="1.3"/>
<line x1="148.6" y1="638.1" x2="148.6" y2="648.6" stroke="#262626" stroke-width="1.3"/>
<line x1="399.8" y1="42.1" x2="399.8" y2="52.6" stroke="#262626" stroke-width="1.3"/>
<line x1="399.8" y1="638.1" x2="399.8" y2="648.6" stroke="#262626" stroke-width="1.3"/>
<line x1="651.0" y1="42.1" x2="651.0" y2="52.6" stroke="#262626" stroke-width="1.3"/>
<line x1="651.0" y1="638.1" x2="651.0" y2="648.6" stroke="#262626" stroke-width="1.3"/>
<line x1="902.2" y1="42.1" x2="902.2" y2="52.6" stroke="#262626" stroke-width="1.3"/>
<line x1="902.2" y1="638.1" x2="902.2" y2="648.6" stroke="#262626" stroke-width="1.3"/>
<line x1="1153.4" y1="42.1" x2="1153.4" y2="52.6" stroke="#262626" stroke-width="1.3"/>
<line x1="1153.4" y1="638.1" x2="1153.4" y2="648.6" stroke="#262626" stroke-width="1.3"/>
<text transform="translate(35,345.4) rotate(-90)" font-size="40.6" text-anchor="middle" fill="#262626">depth(m)</text>
<rect x="148.6" y="742.0" width="1088.8000000000002" height="588.0" fill="none" stroke="#262626" stroke-width="1.3"/>
<line x1="138.1" y1="742.0" x2="148.6" y2="742.0" stroke="#262626" stroke-width="1.3"/>
<line x1="1237.4" y1="742.0" x2="1247.9" y2="742.0" stroke="#262626" stroke-width="1.3"/>
<text x="123.1" y="757.6" font-size="40.6" text-anchor="end" fill="#262626">0</text>
<line x1="138.1" y1="889.0" x2="148.6" y2="889.0" stroke="#262626" stroke-width="1.3"/>
<line x1="1237.4" y1="889.0" x2="1247.9" y2="889.0" stroke="#262626" stroke-width="1.3"/>
<text x="123.1" y="904.6" font-size="40.6" text-anchor="end" fill="#262626">50</text>
<line x1="138.1" y1="1036.0" x2="148.6" y2="1036.0" stroke="#262626" stroke-width="1.3"/>
<line x1="1237.4" y1="1036.0" x2="1247.9" y2="1036.0" stroke="#262626" stroke-width="1.3"/>
<text x="123.1" y="1051.6" font-size="40.6" text-anchor="end" fill="#262626">100</text>
<line x1="138.1" y1="1183.0" x2="148.6" y2="1183.0" stroke="#262626" stroke-width="1.3"/>
<line x1="1237.4" y1="1183.0" x2="1247.9" y2="1183.0" stroke="#262626" stroke-width="1.3"/>
<text x="123.1" y="1198.6" font-size="40.6" text-anchor="end" fill="#262626">150</text>
<line x1="138.1" y1="1330.0" x2="148.6" y2="1330.0" stroke="#262626" stroke-width="1.3"/>
<line x1="1237.4" y1="1330.0" x2="1247.9" y2="1330.0" stroke="#262626" stroke-width="1.3"/>
<text x="123.1" y="1345.6" font-size="40.6" text-anchor="end" fill="#262626">200</text>
<line x1="148.6" y1="731.5" x2="148.6" y2="742.0" stroke="#262626" stroke-width="1.3"/>
<line x1="148.6" y1="1330.0" x2="148.6" y2="1340.5" stroke="#262626" stroke-width="1.3"/>
<line x1="399.8" y1="731.5" x2="399.8" y2="742.0" stroke="#262626" stroke-width="1.3"/>
<line x1="399.8" y1="1330.0" x2="399.8" y2="1340.5" stroke="#262626" stroke-width="1.3"/>
<line x1="651.0" y1="731.5" x2="651.0" y2="742.0" stroke="#262626" stroke-width="1.3"/>
<line x1="651.0" y1="1330.0" x2="651.0" y2="1340.5" stroke="#262626" stroke-width="1.3"/>
<line x1="902.2" y1="731.5" x2="902.2" y2="742.0" stroke="#262626" stroke-width="1.3"/>
<line x1="902.2" y1="1330.0" x2="902.2" y2="1340.5" stroke="#262626" stroke-width="1.3"/>
<line x1="1153.4" y1="731.5" x2="1153.4" y2="742.0" stroke="#262626" stroke-width="1.3"/>
<line x1="1153.4" y1="1330.0" x2="1153.4" y2="1340.5" stroke="#262626" stroke-width="1.3"/>
<text transform="translate(35,1036.0) rotate(-90)" font-size="40.6" text-anchor="middle" fill="#262626">depth(m)</text>
<rect x="1270.7" y="52.6" width="67.5" height="585.5" fill="url(#cb)" stroke="#262626" stroke-width="1.3"/>
<text x="1352.2" y="67.2" font-size="37.0" fill="#262626">1.5</text>
<line x1="1332.2" y1="150.2" x2="1338.2" y2="150.2" stroke="#262626" stroke-width="1.3"/>
<text x="1352.2" y="164.8" font-size="37.0" fill="#262626">1</text>
<line x1="1332.2" y1="247.8" x2="1338.2" y2="247.8" stroke="#262626" stroke-width="1.3"/>
<text x="1352.2" y="262.4" font-size="37.0" fill="#262626">0.5</text>
<line x1="1332.2" y1="345.4" x2="1338.2" y2="345.4" stroke="#262626" stroke-width="1.3"/>
<text x="1352.2" y="360.0" font-size="37.0" fill="#262626">0</text>
<line x1="1332.2" y1="442.9" x2="1338.2" y2="442.9" stroke="#262626" stroke-width="1.3"/>
<text x="1352.2" y="457.5" font-size="37.0" fill="#262626">-0.5</text>
<line x1="1332.2" y1="540.5" x2="1338.2" y2="540.5" stroke="#262626" stroke-width="1.3"/>
<text x="1352.2" y="555.1" font-size="37.0" fill="#262626">-1</text>
<text x="1352.2" y="652.7" font-size="37.0" fill="#262626">-1.5</text>
<rect x="1270.7" y="742.0" width="67.5" height="588.0" fill="url(#cb)" stroke="#262626" stroke-width="1.3"/>
<text x="1352.2" y="756.6" font-size="37.0" fill="#262626">1.5</text>
<line x1="1332.2" y1="840.0" x2="1338.2" y2="840.0" stroke="#262626" stroke-width="1.3"/>
<text x="1352.2" y="854.6" font-size="37.0" fill="#262626">1</text>
<line x1="1332.2" y1="938.0" x2="1338.2" y2="938.0" stroke="#262626" stroke-width="1.3"/>
<text x="1352.2" y="952.6" font-size="37.0" fill="#262626">0.5</text>
<line x1="1332.2" y1="1036.0" x2="1338.2" y2="1036.0" stroke="#262626" stroke-width="1.3"/>
<text x="1352.2" y="1050.6" font-size="37.0" fill="#262626">0</text>
<line x1="1332.2" y1="1134.0" x2="1338.2" y2="1134.0" stroke="#262626" stroke-width="1.3"/>
<text x="1352.2" y="1148.6" font-size="37.0" fill="#262626">-0.5</text>
<line x1="1332.2" y1="1232.0" x2="1338.2" y2="1232.0" stroke="#262626" stroke-width="1.3"/>
<text x="1352.2" y="1246.6" font-size="37.0" fill="#262626">-1</text>
<text x="1352.2" y="1344.6" font-size="37.0" fill="#262626">-1.5</text>
<text x="32.5" y="24.3" font-size="28" font-weight="bold" fill="#000">A</text>
<text x="21.5" y="728.9" font-size="28" font-weight="bold" fill="#000">B</text>
<text x="148.6" y="1406.0" font-size="40.6" text-anchor="middle" fill="#262626">122<tspan font-size="32.5" dy="-16.8">o</tspan><tspan dy="16.8">E</tspan></text>
<text x="399.8" y="1406.0" font-size="40.6" text-anchor="middle" fill="#262626">122.5<tspan font-size="32.5" dy="-16.8">o</tspan><tspan dy="16.8">E</tspan></text>
<text x="651.0" y="1406.0" font-size="40.6" text-anchor="middle" fill="#262626">123<tspan font-size="32.5" dy="-16.8">o</tspan><tspan dy="16.8">E</tspan></text>
<text x="902.2" y="1406.0" font-size="40.6" text-anchor="middle" fill="#262626">123.5<tspan font-size="32.5" dy="-16.8">o</tspan><tspan dy="16.8">E</tspan></text>
<text x="1153.4" y="1406.0" font-size="40.6" text-anchor="middle" fill="#262626">124<tspan font-size="32.5" dy="-16.8">o</tspan><tspan dy="16.8">E</tspan></text>
<text x="186.5" y="624.5" font-size="39.5" font-weight="bold" fill="#000">CE-Ctrl</text>
<text x="186.5" y="1316.4" font-size="39.5" font-weight="bold" fill="#000">AE-Ctrl</text>
</svg></body></html>
